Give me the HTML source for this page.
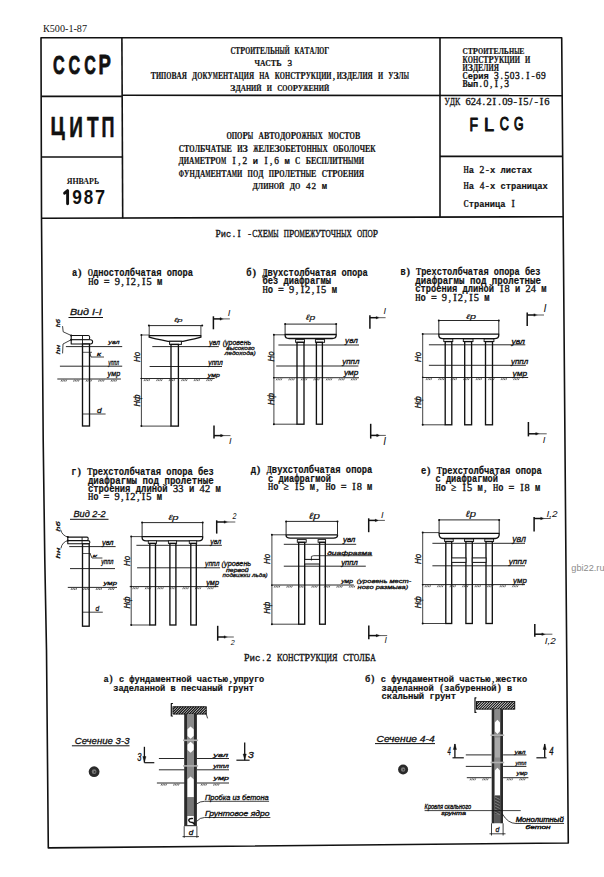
<!DOCTYPE html>
<html><head><meta charset="utf-8"><style>
html,body{margin:0;padding:0;background:#fff;}
body{width:604px;height:877px;overflow:hidden;}
svg{display:block;}
</style></head><body>
<svg width="604" height="877" viewBox="0 0 604 877">
<polygon points="41.0,37.8 561.7,37.7 566.0,570.0 568.3,843.0 48.3,847.9 46.5,650.0 44.8,560.0 43.2,440.0 41.5,218.3" stroke="#111111" stroke-width="1.60" fill="none" stroke-linejoin="round"/>
<line x1="41.5" y1="218.3" x2="563.2" y2="216.7" stroke="#111111" stroke-width="1.60"/>
<line x1="121.9" y1="37.8" x2="122.7" y2="218.2" stroke="#111111" stroke-width="1.60"/>
<line x1="440.0" y1="37.7" x2="440.0" y2="217.0" stroke="#111111" stroke-width="1.60"/>
<line x1="41.2" y1="96.4" x2="121.9" y2="96.4" stroke="#111111" stroke-width="1.60"/>
<line x1="41.4" y1="157.0" x2="122.2" y2="157.0" stroke="#111111" stroke-width="1.60"/>
<line x1="121.9" y1="95.3" x2="562.3" y2="95.6" stroke="#111111" stroke-width="1.60"/>
<line x1="440.0" y1="156.4" x2="563.0" y2="156.4" stroke="#111111" stroke-width="1.60"/>
<text x="43.0" y="31.6" fill="#111111" style='font-family:"Liberation Serif", serif;font-size:9.77px;font-weight:normal;' textLength="44.0" lengthAdjust="spacingAndGlyphs">К500-1-87</text>
<text transform="translate(53.04 74.14) scale(0.6106 1)" x="0" y="0" fill="#111111" stroke="#111111" stroke-width="0.87" stroke-linejoin="round" style='font-family:"Liberation Sans";font-size:26.55px;font-weight:bold'>С</text>
<text transform="translate(68.54 74.14) scale(0.6106 1)" x="0" y="0" fill="#111111" stroke="#111111" stroke-width="0.87" stroke-linejoin="round" style='font-family:"Liberation Sans";font-size:26.55px;font-weight:bold'>С</text>
<text transform="translate(84.14 74.14) scale(0.6048 1)" x="0" y="0" fill="#111111" stroke="#111111" stroke-width="0.87" stroke-linejoin="round" style='font-family:"Liberation Sans";font-size:26.55px;font-weight:bold'>С</text>
<text transform="translate(98.46 74.40) scale(0.6790 1)" x="0" y="0" fill="#111111" stroke="#111111" stroke-width="0.83" stroke-linejoin="round" style='font-family:"Liberation Sans";font-size:27.33px;font-weight:bold'>Р</text>
<text transform="translate(50.50 134.64) scale(0.7524 1)" x="0" y="0" fill="#111111" stroke="#111111" stroke-width="0.57" stroke-linejoin="round" style='font-family:"Liberation Sans";font-size:25.92px;font-weight:bold'>Ц</text>
<text transform="translate(69.24 136.70) scale(0.6555 1)" x="0" y="0" fill="#111111" stroke="#111111" stroke-width="0.60" stroke-linejoin="round" style='font-family:"Liberation Sans";font-size:28.92px;font-weight:bold'>И</text>
<text transform="translate(86.99 136.70) scale(0.6575 1)" x="0" y="0" fill="#111111" stroke="#111111" stroke-width="0.60" stroke-linejoin="round" style='font-family:"Liberation Sans";font-size:28.92px;font-weight:bold'>Т</text>
<text transform="translate(101.60 136.70) scale(0.6206 1)" x="0" y="0" fill="#111111" stroke="#111111" stroke-width="0.62" stroke-linejoin="round" style='font-family:"Liberation Sans";font-size:28.92px;font-weight:bold'>П</text>
<text x="66.7" y="184.4" fill="#111111" style='font-family:"Liberation Serif", serif;font-size:9.16px;font-weight:bold;' textLength="32.5" lengthAdjust="spacingAndGlyphs">ЯНВАРЬ</text>
<path d="M64.6 193.2 L67.6 190.6 L67.6 203.8" stroke="#111111" stroke-width="2.90" fill="none" stroke-linejoin="round" stroke-linecap="round"/>
<text transform="translate(72.30 203.60) scale(0.8527 1)" x="0" y="0" fill="#111111" style='font-family:"Liberation Sans";font-size:20.34px;font-weight:bold'>9</text>
<text transform="translate(83.76 203.60) scale(0.8366 1)" x="0" y="0" fill="#111111" style='font-family:"Liberation Sans";font-size:20.34px;font-weight:bold'>8</text>
<text transform="translate(94.92 203.80) scale(0.8655 1)" x="0" y="0" fill="#111111" style='font-family:"Liberation Sans";font-size:20.93px;font-weight:bold'>7</text>
<text y="54.10" fill="#111111" stroke="#111111" stroke-width="0.20" style='font-family:"Liberation Serif";font-size:9.47px;font-weight:bold'><tspan x="230.40" textLength="4.94" lengthAdjust="spacingAndGlyphs">С</tspan><tspan x="235.34" textLength="4.94" lengthAdjust="spacingAndGlyphs">Т</tspan><tspan x="240.28" textLength="4.94" lengthAdjust="spacingAndGlyphs">Р</tspan><tspan x="245.22" textLength="4.94" lengthAdjust="spacingAndGlyphs">О</tspan><tspan x="250.16" textLength="4.94" lengthAdjust="spacingAndGlyphs">И</tspan><tspan x="255.10" textLength="4.94" lengthAdjust="spacingAndGlyphs">Т</tspan><tspan x="260.04" textLength="4.94" lengthAdjust="spacingAndGlyphs">Е</tspan><tspan x="264.98" textLength="4.94" lengthAdjust="spacingAndGlyphs">Л</tspan><tspan x="269.92" textLength="4.94" lengthAdjust="spacingAndGlyphs">Ь</tspan><tspan x="274.86" textLength="4.94" lengthAdjust="spacingAndGlyphs">Н</tspan><tspan x="279.80" textLength="4.94" lengthAdjust="spacingAndGlyphs">Ы</tspan><tspan x="284.74" textLength="4.94" lengthAdjust="spacingAndGlyphs">Й</tspan><tspan x="294.62" textLength="4.94" lengthAdjust="spacingAndGlyphs">К</tspan><tspan x="299.56" textLength="4.94" lengthAdjust="spacingAndGlyphs">А</tspan><tspan x="304.50" textLength="4.94" lengthAdjust="spacingAndGlyphs">Т</tspan><tspan x="309.44" textLength="4.94" lengthAdjust="spacingAndGlyphs">А</tspan><tspan x="314.38" textLength="4.94" lengthAdjust="spacingAndGlyphs">Л</tspan><tspan x="319.32" textLength="4.94" lengthAdjust="spacingAndGlyphs">О</tspan><tspan x="324.26" textLength="4.94" lengthAdjust="spacingAndGlyphs">Г</tspan></text>
<text y="66.00" fill="#111111" stroke="#111111" stroke-width="0.20" style='font-family:"Liberation Serif";font-size:9.16px;font-weight:bold'><tspan x="254.50" textLength="5.43" lengthAdjust="spacingAndGlyphs">Ч</tspan><tspan x="259.93" textLength="5.43" lengthAdjust="spacingAndGlyphs">А</tspan><tspan x="265.36" textLength="5.43" lengthAdjust="spacingAndGlyphs">С</tspan><tspan x="270.79" textLength="5.43" lengthAdjust="spacingAndGlyphs">Т</tspan><tspan x="276.21" textLength="5.43" lengthAdjust="spacingAndGlyphs">Ь</tspan><tspan x="287.50" font-weight="normal" stroke="#1a1a1a" stroke-width="0.35">3</tspan></text>
<text y="78.90" fill="#111111" stroke="#111111" stroke-width="0.20" style='font-family:"Liberation Serif";font-size:9.62px;font-weight:bold'><tspan x="150.80" textLength="5.16" lengthAdjust="spacingAndGlyphs">Т</tspan><tspan x="155.96" textLength="5.16" lengthAdjust="spacingAndGlyphs">И</tspan><tspan x="161.12" textLength="5.16" lengthAdjust="spacingAndGlyphs">П</tspan><tspan x="166.29" textLength="5.16" lengthAdjust="spacingAndGlyphs">О</tspan><tspan x="171.45" textLength="5.16" lengthAdjust="spacingAndGlyphs">В</tspan><tspan x="176.61" textLength="5.16" lengthAdjust="spacingAndGlyphs">А</tspan><tspan x="181.77" textLength="5.16" lengthAdjust="spacingAndGlyphs">Я</tspan><tspan x="192.10" textLength="5.16" lengthAdjust="spacingAndGlyphs">Д</tspan><tspan x="197.26" textLength="5.16" lengthAdjust="spacingAndGlyphs">О</tspan><tspan x="202.42" textLength="5.16" lengthAdjust="spacingAndGlyphs">К</tspan><tspan x="207.58" textLength="5.16" lengthAdjust="spacingAndGlyphs">У</tspan><tspan x="212.74" textLength="5.16" lengthAdjust="spacingAndGlyphs">М</tspan><tspan x="217.91" textLength="5.16" lengthAdjust="spacingAndGlyphs">Е</tspan><tspan x="223.07" textLength="5.16" lengthAdjust="spacingAndGlyphs">Н</tspan><tspan x="228.23" textLength="5.16" lengthAdjust="spacingAndGlyphs">Т</tspan><tspan x="233.39" textLength="5.16" lengthAdjust="spacingAndGlyphs">А</tspan><tspan x="238.55" textLength="5.16" lengthAdjust="spacingAndGlyphs">Ц</tspan><tspan x="243.72" textLength="5.16" lengthAdjust="spacingAndGlyphs">И</tspan><tspan x="248.88" textLength="5.16" lengthAdjust="spacingAndGlyphs">Я</tspan><tspan x="259.20" textLength="5.16" lengthAdjust="spacingAndGlyphs">Н</tspan><tspan x="264.36" textLength="5.16" lengthAdjust="spacingAndGlyphs">А</tspan><tspan x="274.69" textLength="5.16" lengthAdjust="spacingAndGlyphs">К</tspan><tspan x="279.85" textLength="5.16" lengthAdjust="spacingAndGlyphs">О</tspan><tspan x="285.01" textLength="5.16" lengthAdjust="spacingAndGlyphs">Н</tspan><tspan x="290.17" textLength="5.16" lengthAdjust="spacingAndGlyphs">С</tspan><tspan x="295.34" textLength="5.16" lengthAdjust="spacingAndGlyphs">Т</tspan><tspan x="300.50" textLength="5.16" lengthAdjust="spacingAndGlyphs">Р</tspan><tspan x="305.66" textLength="5.16" lengthAdjust="spacingAndGlyphs">У</tspan><tspan x="310.82" textLength="5.16" lengthAdjust="spacingAndGlyphs">К</tspan><tspan x="315.98" textLength="5.16" lengthAdjust="spacingAndGlyphs">Ц</tspan><tspan x="321.15" textLength="5.16" lengthAdjust="spacingAndGlyphs">И</tspan><tspan x="326.31" textLength="5.16" lengthAdjust="spacingAndGlyphs">И</tspan><tspan x="332.85" font-weight="normal" stroke="#1a1a1a" stroke-width="0.35">,</tspan><tspan x="336.63" textLength="5.16" lengthAdjust="spacingAndGlyphs">И</tspan><tspan x="341.79" textLength="5.16" lengthAdjust="spacingAndGlyphs">З</tspan><tspan x="346.96" textLength="5.16" lengthAdjust="spacingAndGlyphs">Д</tspan><tspan x="352.12" textLength="5.16" lengthAdjust="spacingAndGlyphs">Е</tspan><tspan x="357.28" textLength="5.16" lengthAdjust="spacingAndGlyphs">Л</tspan><tspan x="362.44" textLength="5.16" lengthAdjust="spacingAndGlyphs">И</tspan><tspan x="367.60" textLength="5.16" lengthAdjust="spacingAndGlyphs">Я</tspan><tspan x="377.93" textLength="5.16" lengthAdjust="spacingAndGlyphs">И</tspan><tspan x="388.25" textLength="5.16" lengthAdjust="spacingAndGlyphs">У</tspan><tspan x="393.41" textLength="5.16" lengthAdjust="spacingAndGlyphs">З</tspan><tspan x="398.58" textLength="5.16" lengthAdjust="spacingAndGlyphs">Л</tspan><tspan x="403.74" textLength="5.16" lengthAdjust="spacingAndGlyphs">Ы</tspan></text>
<text y="90.50" fill="#111111" stroke="#111111" stroke-width="0.20" style='font-family:"Liberation Serif";font-size:8.85px;font-weight:bold'><tspan x="230.30" textLength="5.21" lengthAdjust="spacingAndGlyphs">З</tspan><tspan x="235.51" textLength="5.21" lengthAdjust="spacingAndGlyphs">Д</tspan><tspan x="240.71" textLength="5.21" lengthAdjust="spacingAndGlyphs">А</tspan><tspan x="245.92" textLength="5.21" lengthAdjust="spacingAndGlyphs">Н</tspan><tspan x="251.12" textLength="5.21" lengthAdjust="spacingAndGlyphs">И</tspan><tspan x="256.33" textLength="5.21" lengthAdjust="spacingAndGlyphs">Й</tspan><tspan x="266.74" textLength="5.21" lengthAdjust="spacingAndGlyphs">И</tspan><tspan x="277.15" textLength="5.21" lengthAdjust="spacingAndGlyphs">С</tspan><tspan x="282.35" textLength="5.21" lengthAdjust="spacingAndGlyphs">О</tspan><tspan x="287.56" textLength="5.21" lengthAdjust="spacingAndGlyphs">О</tspan><tspan x="292.76" textLength="5.21" lengthAdjust="spacingAndGlyphs">Р</tspan><tspan x="297.97" textLength="5.21" lengthAdjust="spacingAndGlyphs">У</tspan><tspan x="303.17" textLength="5.21" lengthAdjust="spacingAndGlyphs">Ж</tspan><tspan x="308.38" textLength="5.21" lengthAdjust="spacingAndGlyphs">Е</tspan><tspan x="313.58" textLength="5.21" lengthAdjust="spacingAndGlyphs">Н</tspan><tspan x="318.79" textLength="5.21" lengthAdjust="spacingAndGlyphs">И</tspan><tspan x="323.99" textLength="5.21" lengthAdjust="spacingAndGlyphs">Й</tspan></text>
<text y="54.40" fill="#111111" stroke="#111111" stroke-width="0.20" style='font-family:"Liberation Serif";font-size:8.85px;font-weight:bold'><tspan x="462.50" textLength="5.17" lengthAdjust="spacingAndGlyphs">С</tspan><tspan x="467.67" textLength="5.17" lengthAdjust="spacingAndGlyphs">Т</tspan><tspan x="472.83" textLength="5.17" lengthAdjust="spacingAndGlyphs">Р</tspan><tspan x="478.00" textLength="5.17" lengthAdjust="spacingAndGlyphs">О</tspan><tspan x="483.17" textLength="5.17" lengthAdjust="spacingAndGlyphs">И</tspan><tspan x="488.33" textLength="5.17" lengthAdjust="spacingAndGlyphs">Т</tspan><tspan x="493.50" textLength="5.17" lengthAdjust="spacingAndGlyphs">Е</tspan><tspan x="498.67" textLength="5.17" lengthAdjust="spacingAndGlyphs">Л</tspan><tspan x="503.83" textLength="5.17" lengthAdjust="spacingAndGlyphs">Ь</tspan><tspan x="509.00" textLength="5.17" lengthAdjust="spacingAndGlyphs">Н</tspan><tspan x="514.17" textLength="5.17" lengthAdjust="spacingAndGlyphs">Ы</tspan><tspan x="519.33" textLength="5.17" lengthAdjust="spacingAndGlyphs">Е</tspan></text>
<text y="62.70" fill="#111111" stroke="#111111" stroke-width="0.20" style='font-family:"Liberation Serif";font-size:9.31px;font-weight:bold'><tspan x="462.50" textLength="5.22" lengthAdjust="spacingAndGlyphs">К</tspan><tspan x="467.72" textLength="5.22" lengthAdjust="spacingAndGlyphs">О</tspan><tspan x="472.93" textLength="5.22" lengthAdjust="spacingAndGlyphs">Н</tspan><tspan x="478.15" textLength="5.22" lengthAdjust="spacingAndGlyphs">С</tspan><tspan x="483.36" textLength="5.22" lengthAdjust="spacingAndGlyphs">Т</tspan><tspan x="488.58" textLength="5.22" lengthAdjust="spacingAndGlyphs">Р</tspan><tspan x="493.79" textLength="5.22" lengthAdjust="spacingAndGlyphs">У</tspan><tspan x="499.01" textLength="5.22" lengthAdjust="spacingAndGlyphs">К</tspan><tspan x="504.22" textLength="5.22" lengthAdjust="spacingAndGlyphs">Ц</tspan><tspan x="509.44" textLength="5.22" lengthAdjust="spacingAndGlyphs">И</tspan><tspan x="514.65" textLength="5.22" lengthAdjust="spacingAndGlyphs">И</tspan><tspan x="525.08" textLength="5.22" lengthAdjust="spacingAndGlyphs">И</tspan></text>
<text y="70.50" fill="#111111" stroke="#111111" stroke-width="0.20" style='font-family:"Liberation Serif";font-size:9.31px;font-weight:bold'><tspan x="462.50" textLength="5.20" lengthAdjust="spacingAndGlyphs">И</tspan><tspan x="467.70" textLength="5.20" lengthAdjust="spacingAndGlyphs">З</tspan><tspan x="472.90" textLength="5.20" lengthAdjust="spacingAndGlyphs">Д</tspan><tspan x="478.10" textLength="5.20" lengthAdjust="spacingAndGlyphs">Е</tspan><tspan x="483.30" textLength="5.20" lengthAdjust="spacingAndGlyphs">Л</tspan><tspan x="488.50" textLength="5.20" lengthAdjust="spacingAndGlyphs">И</tspan><tspan x="493.70" textLength="5.20" lengthAdjust="spacingAndGlyphs">Я</tspan></text>
<text y="78.80" fill="#111111" stroke="#111111" stroke-width="0.20" style='font-family:"Liberation Serif";font-size:9.47px;font-weight:bold'><tspan x="462.50" textLength="5.22" lengthAdjust="spacingAndGlyphs">С</tspan><tspan x="467.72" font-family="Liberation Mono" font-size="9.28px" textLength="5.22" lengthAdjust="spacingAndGlyphs">е</tspan><tspan x="472.94" font-family="Liberation Mono" font-size="9.28px" textLength="5.22" lengthAdjust="spacingAndGlyphs">р</tspan><tspan x="478.16" font-family="Liberation Mono" font-size="9.28px" textLength="5.22" lengthAdjust="spacingAndGlyphs">и</tspan><tspan x="483.38" font-family="Liberation Mono" font-size="9.28px" textLength="5.22" lengthAdjust="spacingAndGlyphs">я</tspan><tspan x="494.06" font-weight="normal" stroke="#1a1a1a" stroke-width="0.35">3</tspan><tspan x="500.46" font-weight="normal" stroke="#1a1a1a" stroke-width="0.35">.</tspan><tspan x="504.49" font-weight="normal" stroke="#1a1a1a" stroke-width="0.35">5</tspan><tspan x="509.71" font-weight="normal" stroke="#1a1a1a" stroke-width="0.35">0</tspan><tspan x="514.93" font-weight="normal" stroke="#1a1a1a" stroke-width="0.35">3</tspan><tspan x="521.33" font-weight="normal" stroke="#1a1a1a" stroke-width="0.35">.</tspan><tspan x="526.16" font-weight="normal" stroke="#1a1a1a" stroke-width="0.35">I</tspan><tspan x="531.38" font-weight="normal" stroke="#1a1a1a" stroke-width="0.35">-</tspan><tspan x="535.81" font-weight="normal" stroke="#1a1a1a" stroke-width="0.35">6</tspan><tspan x="541.02" font-weight="normal" stroke="#1a1a1a" stroke-width="0.35">9</tspan></text>
<text y="86.70" fill="#111111" stroke="#111111" stroke-width="0.20" style='font-family:"Liberation Serif";font-size:9.62px;font-weight:bold'><tspan x="462.50" textLength="5.20" lengthAdjust="spacingAndGlyphs">В</tspan><tspan x="467.70" font-family="Liberation Mono" font-size="9.43px" textLength="5.20" lengthAdjust="spacingAndGlyphs">ы</tspan><tspan x="472.90" font-family="Liberation Mono" font-size="9.43px" textLength="5.20" lengthAdjust="spacingAndGlyphs">п</tspan><tspan x="479.50" font-weight="normal" stroke="#1a1a1a" stroke-width="0.35">.</tspan><tspan x="483.50" font-weight="normal" stroke="#1a1a1a" stroke-width="0.35">0</tspan><tspan x="489.90" font-weight="normal" stroke="#1a1a1a" stroke-width="0.35">,</tspan><tspan x="494.70" font-weight="normal" stroke="#1a1a1a" stroke-width="0.35">I</tspan><tspan x="500.30" font-weight="normal" stroke="#1a1a1a" stroke-width="0.35">,</tspan><tspan x="504.30" font-weight="normal" stroke="#1a1a1a" stroke-width="0.35">3</tspan></text>
<text y="105.30" fill="#111111" stroke="#111111" stroke-width="0.20" style='font-family:"Liberation Serif";font-size:10.53px;font-weight:bold'><tspan x="444.40" font-weight="normal" stroke="#1a1a1a" stroke-width="0.35" textLength="5.25" lengthAdjust="spacingAndGlyphs">У</tspan><tspan x="449.65" font-weight="normal" stroke="#1a1a1a" stroke-width="0.35" textLength="5.25" lengthAdjust="spacingAndGlyphs">Д</tspan><tspan x="454.90" font-weight="normal" stroke="#1a1a1a" stroke-width="0.35" textLength="5.25" lengthAdjust="spacingAndGlyphs">К</tspan><tspan x="465.40" font-weight="normal" stroke="#1a1a1a" stroke-width="0.35" textLength="5.25" lengthAdjust="spacingAndGlyphs">6</tspan><tspan x="470.65" font-weight="normal" stroke="#1a1a1a" stroke-width="0.35" textLength="5.25" lengthAdjust="spacingAndGlyphs">2</tspan><tspan x="475.90" font-weight="normal" stroke="#1a1a1a" stroke-width="0.35" textLength="5.25" lengthAdjust="spacingAndGlyphs">4</tspan><tspan x="482.46" font-weight="normal" stroke="#1a1a1a" stroke-width="0.35">.</tspan><tspan x="486.40" font-weight="normal" stroke="#1a1a1a" stroke-width="0.35" textLength="5.25" lengthAdjust="spacingAndGlyphs">2</tspan><tspan x="492.52" font-weight="normal" stroke="#1a1a1a" stroke-width="0.35">I</tspan><tspan x="498.21" font-weight="normal" stroke="#1a1a1a" stroke-width="0.35">.</tspan><tspan x="502.15" font-weight="normal" stroke="#1a1a1a" stroke-width="0.35" textLength="5.25" lengthAdjust="spacingAndGlyphs">0</tspan><tspan x="507.40" font-weight="normal" stroke="#1a1a1a" stroke-width="0.35" textLength="5.25" lengthAdjust="spacingAndGlyphs">9</tspan><tspan x="513.52" font-weight="normal" stroke="#1a1a1a" stroke-width="0.35">-</tspan><tspan x="518.77" font-weight="normal" stroke="#1a1a1a" stroke-width="0.35">I</tspan><tspan x="523.15" font-weight="normal" stroke="#1a1a1a" stroke-width="0.35" textLength="5.25" lengthAdjust="spacingAndGlyphs">5</tspan><tspan x="529.56" font-weight="normal" stroke="#1a1a1a" stroke-width="0.35">/</tspan><tspan x="534.52" font-weight="normal" stroke="#1a1a1a" stroke-width="0.35">-</tspan><tspan x="539.77" font-weight="normal" stroke="#1a1a1a" stroke-width="0.35">I</tspan><tspan x="544.15" font-weight="normal" stroke="#1a1a1a" stroke-width="0.35" textLength="5.25" lengthAdjust="spacingAndGlyphs">6</tspan></text>
<text transform="translate(469.46 130.50) scale(0.7363 1)" x="0" y="0" fill="#111111" stroke="#111111" stroke-width="1.15" stroke-linejoin="round" style='font-family:"Liberation Sans";font-size:18.90px;font-weight:normal'>F</text>
<text transform="translate(484.01 130.50) scale(0.9602 1)" x="0" y="0" fill="#111111" stroke="#111111" stroke-width="1.02" stroke-linejoin="round" style='font-family:"Liberation Sans";font-size:18.90px;font-weight:normal'>L</text>
<text transform="translate(499.76 130.32) scale(0.6880 1)" x="0" y="0" fill="#111111" stroke="#111111" stroke-width="1.18" stroke-linejoin="round" style='font-family:"Liberation Sans";font-size:18.36px;font-weight:normal'>C</text>
<text transform="translate(514.08 130.32) scale(0.6674 1)" x="0" y="0" fill="#111111" stroke="#111111" stroke-width="1.20" stroke-linejoin="round" style='font-family:"Liberation Sans";font-size:18.36px;font-weight:normal'>G</text>
<text y="172.70" fill="#111111" stroke="#111111" stroke-width="0.20" style='font-family:"Liberation Serif";font-size:9.62px;font-weight:bold'><tspan x="463.60" textLength="5.26" lengthAdjust="spacingAndGlyphs">Н</tspan><tspan x="468.86" font-family="Liberation Mono" font-size="9.43px" textLength="5.26" lengthAdjust="spacingAndGlyphs">а</tspan><tspan x="479.61" font-weight="normal" stroke="#1a1a1a" stroke-width="0.35">2</tspan><tspan x="485.68" font-weight="normal" stroke="#1a1a1a" stroke-width="0.35">-</tspan><tspan x="489.91" font-family="Liberation Mono" font-size="9.43px" textLength="5.26" lengthAdjust="spacingAndGlyphs">х</tspan><tspan x="500.43" font-family="Liberation Mono" font-size="9.43px" textLength="5.26" lengthAdjust="spacingAndGlyphs">л</tspan><tspan x="505.69" font-family="Liberation Mono" font-size="9.43px" textLength="5.26" lengthAdjust="spacingAndGlyphs">и</tspan><tspan x="510.95" font-family="Liberation Mono" font-size="9.43px" textLength="5.26" lengthAdjust="spacingAndGlyphs">с</tspan><tspan x="516.22" font-family="Liberation Mono" font-size="9.43px" textLength="5.26" lengthAdjust="spacingAndGlyphs">т</tspan><tspan x="521.48" font-family="Liberation Mono" font-size="9.43px" textLength="5.26" lengthAdjust="spacingAndGlyphs">а</tspan><tspan x="526.74" font-family="Liberation Mono" font-size="9.43px" textLength="5.26" lengthAdjust="spacingAndGlyphs">х</tspan></text>
<text y="188.70" fill="#111111" stroke="#111111" stroke-width="0.20" style='font-family:"Liberation Serif";font-size:9.31px;font-weight:bold'><tspan x="463.60" textLength="5.26" lengthAdjust="spacingAndGlyphs">Н</tspan><tspan x="468.86" font-family="Liberation Mono" font-size="9.13px" textLength="5.26" lengthAdjust="spacingAndGlyphs">а</tspan><tspan x="479.69" font-weight="normal" stroke="#1a1a1a" stroke-width="0.35">4</tspan><tspan x="485.73" font-weight="normal" stroke="#1a1a1a" stroke-width="0.35">-</tspan><tspan x="489.91" font-family="Liberation Mono" font-size="9.13px" textLength="5.26" lengthAdjust="spacingAndGlyphs">х</tspan><tspan x="500.44" font-family="Liberation Mono" font-size="9.13px" textLength="5.26" lengthAdjust="spacingAndGlyphs">с</tspan><tspan x="505.70" font-family="Liberation Mono" font-size="9.13px" textLength="5.26" lengthAdjust="spacingAndGlyphs">т</tspan><tspan x="510.96" font-family="Liberation Mono" font-size="9.13px" textLength="5.26" lengthAdjust="spacingAndGlyphs">р</tspan><tspan x="516.23" font-family="Liberation Mono" font-size="9.13px" textLength="5.26" lengthAdjust="spacingAndGlyphs">а</tspan><tspan x="521.49" font-family="Liberation Mono" font-size="9.13px" textLength="5.26" lengthAdjust="spacingAndGlyphs">н</tspan><tspan x="526.75" font-family="Liberation Mono" font-size="9.13px" textLength="5.26" lengthAdjust="spacingAndGlyphs">и</tspan><tspan x="532.01" font-family="Liberation Mono" font-size="9.13px" textLength="5.26" lengthAdjust="spacingAndGlyphs">ц</tspan><tspan x="537.27" font-family="Liberation Mono" font-size="9.13px" textLength="5.26" lengthAdjust="spacingAndGlyphs">а</tspan><tspan x="542.54" font-family="Liberation Mono" font-size="9.13px" textLength="5.26" lengthAdjust="spacingAndGlyphs">х</tspan></text>
<text y="206.90" fill="#111111" stroke="#111111" stroke-width="0.20" style='font-family:"Liberation Serif";font-size:9.77px;font-weight:bold'><tspan x="463.60" textLength="5.22" lengthAdjust="spacingAndGlyphs">С</tspan><tspan x="468.82" font-family="Liberation Mono" font-size="9.58px" textLength="5.22" lengthAdjust="spacingAndGlyphs">т</tspan><tspan x="474.04" font-family="Liberation Mono" font-size="9.58px" textLength="5.22" lengthAdjust="spacingAndGlyphs">р</tspan><tspan x="479.26" font-family="Liberation Mono" font-size="9.58px" textLength="5.22" lengthAdjust="spacingAndGlyphs">а</tspan><tspan x="484.48" font-family="Liberation Mono" font-size="9.58px" textLength="5.22" lengthAdjust="spacingAndGlyphs">н</tspan><tspan x="489.70" font-family="Liberation Mono" font-size="9.58px" textLength="5.22" lengthAdjust="spacingAndGlyphs">и</tspan><tspan x="494.92" font-family="Liberation Mono" font-size="9.58px" textLength="5.22" lengthAdjust="spacingAndGlyphs">ц</tspan><tspan x="500.14" font-family="Liberation Mono" font-size="9.58px" textLength="5.22" lengthAdjust="spacingAndGlyphs">а</tspan><tspan x="511.56" font-weight="normal" stroke="#1a1a1a" stroke-width="0.35">I</tspan></text>
<text y="138.90" fill="#111111" stroke="#111111" stroke-width="0.20" style='font-family:"Liberation Serif";font-size:9.47px;font-weight:bold'><tspan x="226.40" textLength="5.36" lengthAdjust="spacingAndGlyphs">О</tspan><tspan x="231.76" textLength="5.36" lengthAdjust="spacingAndGlyphs">П</tspan><tspan x="237.11" textLength="5.36" lengthAdjust="spacingAndGlyphs">О</tspan><tspan x="242.47" textLength="5.36" lengthAdjust="spacingAndGlyphs">Р</tspan><tspan x="247.82" textLength="5.36" lengthAdjust="spacingAndGlyphs">Ы</tspan><tspan x="258.54" textLength="5.36" lengthAdjust="spacingAndGlyphs">А</tspan><tspan x="263.89" textLength="5.36" lengthAdjust="spacingAndGlyphs">В</tspan><tspan x="269.25" textLength="5.36" lengthAdjust="spacingAndGlyphs">Т</tspan><tspan x="274.60" textLength="5.36" lengthAdjust="spacingAndGlyphs">О</tspan><tspan x="279.96" textLength="5.36" lengthAdjust="spacingAndGlyphs">Д</tspan><tspan x="285.32" textLength="5.36" lengthAdjust="spacingAndGlyphs">О</tspan><tspan x="290.67" textLength="5.36" lengthAdjust="spacingAndGlyphs">Р</tspan><tspan x="296.03" textLength="5.36" lengthAdjust="spacingAndGlyphs">О</tspan><tspan x="301.38" textLength="5.36" lengthAdjust="spacingAndGlyphs">Ж</tspan><tspan x="306.74" textLength="5.36" lengthAdjust="spacingAndGlyphs">Н</tspan><tspan x="312.10" textLength="5.36" lengthAdjust="spacingAndGlyphs">Ы</tspan><tspan x="317.45" textLength="5.36" lengthAdjust="spacingAndGlyphs">Х</tspan><tspan x="328.16" textLength="5.36" lengthAdjust="spacingAndGlyphs">М</tspan><tspan x="333.52" textLength="5.36" lengthAdjust="spacingAndGlyphs">О</tspan><tspan x="338.88" textLength="5.36" lengthAdjust="spacingAndGlyphs">С</tspan><tspan x="344.23" textLength="5.36" lengthAdjust="spacingAndGlyphs">Т</tspan><tspan x="349.59" textLength="5.36" lengthAdjust="spacingAndGlyphs">О</tspan><tspan x="354.94" textLength="5.36" lengthAdjust="spacingAndGlyphs">В</tspan></text>
<text y="151.60" fill="#111111" stroke="#111111" stroke-width="0.20" style='font-family:"Liberation Serif";font-size:9.31px;font-weight:bold'><tspan x="178.70" textLength="5.32" lengthAdjust="spacingAndGlyphs">С</tspan><tspan x="184.02" textLength="5.32" lengthAdjust="spacingAndGlyphs">Т</tspan><tspan x="189.34" textLength="5.32" lengthAdjust="spacingAndGlyphs">О</tspan><tspan x="194.66" textLength="5.32" lengthAdjust="spacingAndGlyphs">Л</tspan><tspan x="199.99" textLength="5.32" lengthAdjust="spacingAndGlyphs">Б</tspan><tspan x="205.31" textLength="5.32" lengthAdjust="spacingAndGlyphs">Ч</tspan><tspan x="210.63" textLength="5.32" lengthAdjust="spacingAndGlyphs">А</tspan><tspan x="215.95" textLength="5.32" lengthAdjust="spacingAndGlyphs">Т</tspan><tspan x="221.27" textLength="5.32" lengthAdjust="spacingAndGlyphs">Ы</tspan><tspan x="226.59" textLength="5.32" lengthAdjust="spacingAndGlyphs">Е</tspan><tspan x="237.24" textLength="5.32" lengthAdjust="spacingAndGlyphs">И</tspan><tspan x="242.56" textLength="5.32" lengthAdjust="spacingAndGlyphs">З</tspan><tspan x="253.20" textLength="5.32" lengthAdjust="spacingAndGlyphs">Ж</tspan><tspan x="258.52" textLength="5.32" lengthAdjust="spacingAndGlyphs">Е</tspan><tspan x="263.85" textLength="5.32" lengthAdjust="spacingAndGlyphs">Л</tspan><tspan x="269.17" textLength="5.32" lengthAdjust="spacingAndGlyphs">Е</tspan><tspan x="274.49" textLength="5.32" lengthAdjust="spacingAndGlyphs">З</tspan><tspan x="279.81" textLength="5.32" lengthAdjust="spacingAndGlyphs">О</tspan><tspan x="285.13" textLength="5.32" lengthAdjust="spacingAndGlyphs">Б</tspan><tspan x="290.45" textLength="5.32" lengthAdjust="spacingAndGlyphs">Е</tspan><tspan x="295.78" textLength="5.32" lengthAdjust="spacingAndGlyphs">Т</tspan><tspan x="301.10" textLength="5.32" lengthAdjust="spacingAndGlyphs">О</tspan><tspan x="306.42" textLength="5.32" lengthAdjust="spacingAndGlyphs">Н</tspan><tspan x="311.74" textLength="5.32" lengthAdjust="spacingAndGlyphs">Н</tspan><tspan x="317.06" textLength="5.32" lengthAdjust="spacingAndGlyphs">Ы</tspan><tspan x="322.38" textLength="5.32" lengthAdjust="spacingAndGlyphs">Х</tspan><tspan x="333.03" textLength="5.32" lengthAdjust="spacingAndGlyphs">О</tspan><tspan x="338.35" textLength="5.32" lengthAdjust="spacingAndGlyphs">Б</tspan><tspan x="343.67" textLength="5.32" lengthAdjust="spacingAndGlyphs">О</tspan><tspan x="348.99" textLength="5.32" lengthAdjust="spacingAndGlyphs">Л</tspan><tspan x="354.31" textLength="5.32" lengthAdjust="spacingAndGlyphs">О</tspan><tspan x="359.64" textLength="5.32" lengthAdjust="spacingAndGlyphs">Ч</tspan><tspan x="364.96" textLength="5.32" lengthAdjust="spacingAndGlyphs">Е</tspan><tspan x="370.28" textLength="5.32" lengthAdjust="spacingAndGlyphs">К</tspan></text>
<text y="164.20" fill="#111111" stroke="#111111" stroke-width="0.20" style='font-family:"Liberation Serif";font-size:9.31px;font-weight:bold'><tspan x="178.50" textLength="5.30" lengthAdjust="spacingAndGlyphs">Д</tspan><tspan x="183.80" textLength="5.30" lengthAdjust="spacingAndGlyphs">И</tspan><tspan x="189.10" textLength="5.30" lengthAdjust="spacingAndGlyphs">А</tspan><tspan x="194.40" textLength="5.30" lengthAdjust="spacingAndGlyphs">М</tspan><tspan x="199.70" textLength="5.30" lengthAdjust="spacingAndGlyphs">Е</tspan><tspan x="205.00" textLength="5.30" lengthAdjust="spacingAndGlyphs">Т</tspan><tspan x="210.30" textLength="5.30" lengthAdjust="spacingAndGlyphs">Р</tspan><tspan x="215.60" textLength="5.30" lengthAdjust="spacingAndGlyphs">О</tspan><tspan x="220.90" textLength="5.30" lengthAdjust="spacingAndGlyphs">М</tspan><tspan x="232.60" font-weight="normal" stroke="#1a1a1a" stroke-width="0.35">I</tspan><tspan x="238.29" font-weight="normal" stroke="#1a1a1a" stroke-width="0.35">,</tspan><tspan x="242.42" font-weight="normal" stroke="#1a1a1a" stroke-width="0.35">2</tspan><tspan x="252.70" font-family="Liberation Mono" font-size="9.13px" textLength="5.30" lengthAdjust="spacingAndGlyphs">и</tspan><tspan x="264.40" font-weight="normal" stroke="#1a1a1a" stroke-width="0.35">I</tspan><tspan x="270.09" font-weight="normal" stroke="#1a1a1a" stroke-width="0.35">,</tspan><tspan x="274.22" font-weight="normal" stroke="#1a1a1a" stroke-width="0.35">6</tspan><tspan x="284.50" font-family="Liberation Mono" font-size="9.13px" textLength="5.30" lengthAdjust="spacingAndGlyphs">м</tspan><tspan x="295.10" textLength="5.30" lengthAdjust="spacingAndGlyphs">С</tspan><tspan x="305.70" textLength="5.30" lengthAdjust="spacingAndGlyphs">Б</tspan><tspan x="311.00" textLength="5.30" lengthAdjust="spacingAndGlyphs">Е</tspan><tspan x="316.30" textLength="5.30" lengthAdjust="spacingAndGlyphs">С</tspan><tspan x="321.60" textLength="5.30" lengthAdjust="spacingAndGlyphs">П</tspan><tspan x="326.90" textLength="5.30" lengthAdjust="spacingAndGlyphs">Л</tspan><tspan x="332.20" textLength="5.30" lengthAdjust="spacingAndGlyphs">И</tspan><tspan x="337.50" textLength="5.30" lengthAdjust="spacingAndGlyphs">Т</tspan><tspan x="342.80" textLength="5.30" lengthAdjust="spacingAndGlyphs">Н</tspan><tspan x="348.10" textLength="5.30" lengthAdjust="spacingAndGlyphs">Ы</tspan><tspan x="353.40" textLength="5.30" lengthAdjust="spacingAndGlyphs">М</tspan><tspan x="358.70" textLength="5.30" lengthAdjust="spacingAndGlyphs">И</tspan></text>
<text y="176.60" fill="#111111" stroke="#111111" stroke-width="0.20" style='font-family:"Liberation Serif";font-size:9.47px;font-weight:bold'><tspan x="178.80" textLength="5.29" lengthAdjust="spacingAndGlyphs">Ф</tspan><tspan x="184.09" textLength="5.29" lengthAdjust="spacingAndGlyphs">У</tspan><tspan x="189.38" textLength="5.29" lengthAdjust="spacingAndGlyphs">Н</tspan><tspan x="194.67" textLength="5.29" lengthAdjust="spacingAndGlyphs">Д</tspan><tspan x="199.97" textLength="5.29" lengthAdjust="spacingAndGlyphs">А</tspan><tspan x="205.26" textLength="5.29" lengthAdjust="spacingAndGlyphs">М</tspan><tspan x="210.55" textLength="5.29" lengthAdjust="spacingAndGlyphs">Е</tspan><tspan x="215.84" textLength="5.29" lengthAdjust="spacingAndGlyphs">Н</tspan><tspan x="221.13" textLength="5.29" lengthAdjust="spacingAndGlyphs">Т</tspan><tspan x="226.42" textLength="5.29" lengthAdjust="spacingAndGlyphs">А</tspan><tspan x="231.71" textLength="5.29" lengthAdjust="spacingAndGlyphs">М</tspan><tspan x="237.01" textLength="5.29" lengthAdjust="spacingAndGlyphs">И</tspan><tspan x="247.59" textLength="5.29" lengthAdjust="spacingAndGlyphs">П</tspan><tspan x="252.88" textLength="5.29" lengthAdjust="spacingAndGlyphs">О</tspan><tspan x="258.17" textLength="5.29" lengthAdjust="spacingAndGlyphs">Д</tspan><tspan x="268.75" textLength="5.29" lengthAdjust="spacingAndGlyphs">П</tspan><tspan x="274.05" textLength="5.29" lengthAdjust="spacingAndGlyphs">Р</tspan><tspan x="279.34" textLength="5.29" lengthAdjust="spacingAndGlyphs">О</tspan><tspan x="284.63" textLength="5.29" lengthAdjust="spacingAndGlyphs">Л</tspan><tspan x="289.92" textLength="5.29" lengthAdjust="spacingAndGlyphs">Е</tspan><tspan x="295.21" textLength="5.29" lengthAdjust="spacingAndGlyphs">Т</tspan><tspan x="300.50" textLength="5.29" lengthAdjust="spacingAndGlyphs">Н</tspan><tspan x="305.79" textLength="5.29" lengthAdjust="spacingAndGlyphs">Ы</tspan><tspan x="311.09" textLength="5.29" lengthAdjust="spacingAndGlyphs">Е</tspan><tspan x="321.67" textLength="5.29" lengthAdjust="spacingAndGlyphs">С</tspan><tspan x="326.96" textLength="5.29" lengthAdjust="spacingAndGlyphs">Т</tspan><tspan x="332.25" textLength="5.29" lengthAdjust="spacingAndGlyphs">Р</tspan><tspan x="337.54" textLength="5.29" lengthAdjust="spacingAndGlyphs">О</tspan><tspan x="342.83" textLength="5.29" lengthAdjust="spacingAndGlyphs">Е</tspan><tspan x="348.13" textLength="5.29" lengthAdjust="spacingAndGlyphs">Н</tspan><tspan x="353.42" textLength="5.29" lengthAdjust="spacingAndGlyphs">И</tspan><tspan x="358.71" textLength="5.29" lengthAdjust="spacingAndGlyphs">Я</tspan></text>
<text y="189.40" fill="#111111" stroke="#111111" stroke-width="0.20" style='font-family:"Liberation Serif";font-size:9.16px;font-weight:bold'><tspan x="252.50" textLength="5.32" lengthAdjust="spacingAndGlyphs">Д</tspan><tspan x="257.82" textLength="5.32" lengthAdjust="spacingAndGlyphs">Л</tspan><tspan x="263.14" textLength="5.32" lengthAdjust="spacingAndGlyphs">И</tspan><tspan x="268.46" textLength="5.32" lengthAdjust="spacingAndGlyphs">Н</tspan><tspan x="273.79" textLength="5.32" lengthAdjust="spacingAndGlyphs">О</tspan><tspan x="279.11" textLength="5.32" lengthAdjust="spacingAndGlyphs">Й</tspan><tspan x="289.75" textLength="5.32" lengthAdjust="spacingAndGlyphs">Д</tspan><tspan x="295.07" textLength="5.32" lengthAdjust="spacingAndGlyphs">О</tspan><tspan x="306.08" font-weight="normal" stroke="#1a1a1a" stroke-width="0.35">4</tspan><tspan x="311.41" font-weight="normal" stroke="#1a1a1a" stroke-width="0.35">2</tspan><tspan x="321.68" font-family="Liberation Mono" font-size="8.98px" textLength="5.32" lengthAdjust="spacingAndGlyphs">м</tspan></text>
<text y="237.20" fill="#111111" stroke="#111111" stroke-width="0.20" style='font-family:"Liberation Serif";font-size:9.47px;font-weight:bold'><tspan x="215.60" font-weight="normal" stroke="#1a1a1a" stroke-width="0.35" textLength="5.24" lengthAdjust="spacingAndGlyphs">Р</tspan><tspan x="220.84" font-weight="normal" stroke="#1a1a1a" stroke-width="0.35" font-family="Liberation Mono" font-size="9.28px" textLength="5.24" lengthAdjust="spacingAndGlyphs">и</tspan><tspan x="226.08" font-weight="normal" stroke="#1a1a1a" stroke-width="0.35" font-family="Liberation Mono" font-size="9.28px" textLength="5.24" lengthAdjust="spacingAndGlyphs">с</tspan><tspan x="232.75" font-weight="normal" stroke="#1a1a1a" stroke-width="0.35">.</tspan><tspan x="237.60" font-weight="normal" stroke="#1a1a1a" stroke-width="0.35">I</tspan><tspan x="248.08" font-weight="normal" stroke="#1a1a1a" stroke-width="0.35">-</tspan><tspan x="252.27" font-weight="normal" stroke="#1a1a1a" stroke-width="0.35" textLength="5.24" lengthAdjust="spacingAndGlyphs">С</tspan><tspan x="257.51" font-weight="normal" stroke="#1a1a1a" stroke-width="0.35" textLength="5.24" lengthAdjust="spacingAndGlyphs">Х</tspan><tspan x="262.75" font-weight="normal" stroke="#1a1a1a" stroke-width="0.35" textLength="5.24" lengthAdjust="spacingAndGlyphs">Е</tspan><tspan x="267.99" font-weight="normal" stroke="#1a1a1a" stroke-width="0.35" textLength="5.24" lengthAdjust="spacingAndGlyphs">М</tspan><tspan x="273.23" font-weight="normal" stroke="#1a1a1a" stroke-width="0.35" textLength="5.24" lengthAdjust="spacingAndGlyphs">Ы</tspan><tspan x="283.70" font-weight="normal" stroke="#1a1a1a" stroke-width="0.35" textLength="5.24" lengthAdjust="spacingAndGlyphs">П</tspan><tspan x="288.94" font-weight="normal" stroke="#1a1a1a" stroke-width="0.35" textLength="5.24" lengthAdjust="spacingAndGlyphs">Р</tspan><tspan x="294.18" font-weight="normal" stroke="#1a1a1a" stroke-width="0.35" textLength="5.24" lengthAdjust="spacingAndGlyphs">О</tspan><tspan x="299.42" font-weight="normal" stroke="#1a1a1a" stroke-width="0.35" textLength="5.24" lengthAdjust="spacingAndGlyphs">М</tspan><tspan x="304.66" font-weight="normal" stroke="#1a1a1a" stroke-width="0.35" textLength="5.24" lengthAdjust="spacingAndGlyphs">Е</tspan><tspan x="309.90" font-weight="normal" stroke="#1a1a1a" stroke-width="0.35" textLength="5.24" lengthAdjust="spacingAndGlyphs">Ж</tspan><tspan x="315.14" font-weight="normal" stroke="#1a1a1a" stroke-width="0.35" textLength="5.24" lengthAdjust="spacingAndGlyphs">У</tspan><tspan x="320.37" font-weight="normal" stroke="#1a1a1a" stroke-width="0.35" textLength="5.24" lengthAdjust="spacingAndGlyphs">Т</tspan><tspan x="325.61" font-weight="normal" stroke="#1a1a1a" stroke-width="0.35" textLength="5.24" lengthAdjust="spacingAndGlyphs">О</tspan><tspan x="330.85" font-weight="normal" stroke="#1a1a1a" stroke-width="0.35" textLength="5.24" lengthAdjust="spacingAndGlyphs">Ч</tspan><tspan x="336.09" font-weight="normal" stroke="#1a1a1a" stroke-width="0.35" textLength="5.24" lengthAdjust="spacingAndGlyphs">Н</tspan><tspan x="341.33" font-weight="normal" stroke="#1a1a1a" stroke-width="0.35" textLength="5.24" lengthAdjust="spacingAndGlyphs">Ы</tspan><tspan x="346.57" font-weight="normal" stroke="#1a1a1a" stroke-width="0.35" textLength="5.24" lengthAdjust="spacingAndGlyphs">Х</tspan><tspan x="357.05" font-weight="normal" stroke="#1a1a1a" stroke-width="0.35" textLength="5.24" lengthAdjust="spacingAndGlyphs">О</tspan><tspan x="362.28" font-weight="normal" stroke="#1a1a1a" stroke-width="0.35" textLength="5.24" lengthAdjust="spacingAndGlyphs">П</tspan><tspan x="367.52" font-weight="normal" stroke="#1a1a1a" stroke-width="0.35" textLength="5.24" lengthAdjust="spacingAndGlyphs">О</tspan><tspan x="372.76" font-weight="normal" stroke="#1a1a1a" stroke-width="0.35" textLength="5.24" lengthAdjust="spacingAndGlyphs">Р</tspan></text>
<text y="661.00" fill="#111111" stroke="#111111" stroke-width="0.20" style='font-family:"Liberation Serif";font-size:9.31px;font-weight:bold'><tspan x="244.10" font-weight="normal" stroke="#1a1a1a" stroke-width="0.35" textLength="5.49" lengthAdjust="spacingAndGlyphs">Р</tspan><tspan x="249.59" font-weight="normal" stroke="#1a1a1a" stroke-width="0.35" font-family="Liberation Mono" font-size="9.13px" textLength="5.49" lengthAdjust="spacingAndGlyphs">и</tspan><tspan x="255.07" font-weight="normal" stroke="#1a1a1a" stroke-width="0.35" font-family="Liberation Mono" font-size="9.13px" textLength="5.49" lengthAdjust="spacingAndGlyphs">с</tspan><tspan x="262.14" font-weight="normal" stroke="#1a1a1a" stroke-width="0.35">.</tspan><tspan x="266.47" font-weight="normal" stroke="#1a1a1a" stroke-width="0.35">2</tspan><tspan x="277.02" font-weight="normal" stroke="#1a1a1a" stroke-width="0.35" textLength="5.49" lengthAdjust="spacingAndGlyphs">К</tspan><tspan x="282.51" font-weight="normal" stroke="#1a1a1a" stroke-width="0.35" textLength="5.49" lengthAdjust="spacingAndGlyphs">О</tspan><tspan x="288.00" font-weight="normal" stroke="#1a1a1a" stroke-width="0.35" textLength="5.49" lengthAdjust="spacingAndGlyphs">Н</tspan><tspan x="293.49" font-weight="normal" stroke="#1a1a1a" stroke-width="0.35" textLength="5.49" lengthAdjust="spacingAndGlyphs">С</tspan><tspan x="298.98" font-weight="normal" stroke="#1a1a1a" stroke-width="0.35" textLength="5.49" lengthAdjust="spacingAndGlyphs">Т</tspan><tspan x="304.46" font-weight="normal" stroke="#1a1a1a" stroke-width="0.35" textLength="5.49" lengthAdjust="spacingAndGlyphs">Р</tspan><tspan x="309.95" font-weight="normal" stroke="#1a1a1a" stroke-width="0.35" textLength="5.49" lengthAdjust="spacingAndGlyphs">У</tspan><tspan x="315.44" font-weight="normal" stroke="#1a1a1a" stroke-width="0.35" textLength="5.49" lengthAdjust="spacingAndGlyphs">К</tspan><tspan x="320.93" font-weight="normal" stroke="#1a1a1a" stroke-width="0.35" textLength="5.49" lengthAdjust="spacingAndGlyphs">Ц</tspan><tspan x="326.41" font-weight="normal" stroke="#1a1a1a" stroke-width="0.35" textLength="5.49" lengthAdjust="spacingAndGlyphs">И</tspan><tspan x="331.90" font-weight="normal" stroke="#1a1a1a" stroke-width="0.35" textLength="5.49" lengthAdjust="spacingAndGlyphs">Я</tspan><tspan x="342.88" font-weight="normal" stroke="#1a1a1a" stroke-width="0.35" textLength="5.49" lengthAdjust="spacingAndGlyphs">С</tspan><tspan x="348.36" font-weight="normal" stroke="#1a1a1a" stroke-width="0.35" textLength="5.49" lengthAdjust="spacingAndGlyphs">Т</tspan><tspan x="353.85" font-weight="normal" stroke="#1a1a1a" stroke-width="0.35" textLength="5.49" lengthAdjust="spacingAndGlyphs">О</tspan><tspan x="359.34" font-weight="normal" stroke="#1a1a1a" stroke-width="0.35" textLength="5.49" lengthAdjust="spacingAndGlyphs">Л</tspan><tspan x="364.83" font-weight="normal" stroke="#1a1a1a" stroke-width="0.35" textLength="5.49" lengthAdjust="spacingAndGlyphs">Б</tspan><tspan x="370.31" font-weight="normal" stroke="#1a1a1a" stroke-width="0.35" textLength="5.49" lengthAdjust="spacingAndGlyphs">А</tspan></text>
<text x="571.3" y="570.6" fill="#8c8c8c" style='font-family:"Liberation Sans", sans-serif;font-size:9.30px;font-weight:normal;' textLength="33.2" lengthAdjust="spacingAndGlyphs">gbi22.ru</text>
<text y="276.40" fill="#111111" stroke="#111111" stroke-width="0.20" style='font-family:"Liberation Serif";font-size:10.69px;font-weight:bold'><tspan x="72.00" font-family="Liberation Mono" font-size="10.47px" textLength="5.26" lengthAdjust="spacingAndGlyphs">а</tspan><tspan x="78.11">)</tspan><tspan x="87.78" textLength="5.26" lengthAdjust="spacingAndGlyphs">О</tspan><tspan x="93.04" font-family="Liberation Mono" font-size="10.47px" textLength="5.26" lengthAdjust="spacingAndGlyphs">д</tspan><tspan x="98.30" font-family="Liberation Mono" font-size="10.47px" textLength="5.26" lengthAdjust="spacingAndGlyphs">н</tspan><tspan x="103.57" font-family="Liberation Mono" font-size="10.47px" textLength="5.26" lengthAdjust="spacingAndGlyphs">о</tspan><tspan x="108.83" font-family="Liberation Mono" font-size="10.47px" textLength="5.26" lengthAdjust="spacingAndGlyphs">с</tspan><tspan x="114.09" font-family="Liberation Mono" font-size="10.47px" textLength="5.26" lengthAdjust="spacingAndGlyphs">т</tspan><tspan x="119.35" font-family="Liberation Mono" font-size="10.47px" textLength="5.26" lengthAdjust="spacingAndGlyphs">о</tspan><tspan x="124.61" font-family="Liberation Mono" font-size="10.47px" textLength="5.26" lengthAdjust="spacingAndGlyphs">л</tspan><tspan x="129.87" font-family="Liberation Mono" font-size="10.47px" textLength="5.26" lengthAdjust="spacingAndGlyphs">б</tspan><tspan x="135.13" font-family="Liberation Mono" font-size="10.47px" textLength="5.26" lengthAdjust="spacingAndGlyphs">ч</tspan><tspan x="140.39" font-family="Liberation Mono" font-size="10.47px" textLength="5.26" lengthAdjust="spacingAndGlyphs">а</tspan><tspan x="145.65" font-family="Liberation Mono" font-size="10.47px" textLength="5.26" lengthAdjust="spacingAndGlyphs">т</tspan><tspan x="150.91" font-family="Liberation Mono" font-size="10.47px" textLength="5.26" lengthAdjust="spacingAndGlyphs">а</tspan><tspan x="156.17" font-family="Liberation Mono" font-size="10.47px" textLength="5.26" lengthAdjust="spacingAndGlyphs">я</tspan><tspan x="166.70" font-family="Liberation Mono" font-size="10.47px" textLength="5.26" lengthAdjust="spacingAndGlyphs">о</tspan><tspan x="171.96" font-family="Liberation Mono" font-size="10.47px" textLength="5.26" lengthAdjust="spacingAndGlyphs">п</tspan><tspan x="177.22" font-family="Liberation Mono" font-size="10.47px" textLength="5.26" lengthAdjust="spacingAndGlyphs">о</tspan><tspan x="182.48" font-family="Liberation Mono" font-size="10.47px" textLength="5.26" lengthAdjust="spacingAndGlyphs">р</tspan><tspan x="187.74" font-family="Liberation Mono" font-size="10.47px" textLength="5.26" lengthAdjust="spacingAndGlyphs">а</tspan></text>
<text y="285.00" fill="#111111" stroke="#111111" stroke-width="0.20" style='font-family:"Liberation Serif";font-size:10.38px;font-weight:bold'><tspan x="88.20" textLength="5.30" lengthAdjust="spacingAndGlyphs">Н</tspan><tspan x="93.50" font-family="Liberation Mono" font-size="10.17px" textLength="5.30" lengthAdjust="spacingAndGlyphs">о</tspan><tspan x="103.82" font-weight="normal" stroke="#1a1a1a" stroke-width="0.35">=</tspan><tspan x="114.75" font-weight="normal" stroke="#1a1a1a" stroke-width="0.35">9</tspan><tspan x="121.35" font-weight="normal" stroke="#1a1a1a" stroke-width="0.35">,</tspan><tspan x="126.22" font-weight="normal" stroke="#1a1a1a" stroke-width="0.35">I</tspan><tspan x="130.65" font-weight="normal" stroke="#1a1a1a" stroke-width="0.35">2</tspan><tspan x="137.25" font-weight="normal" stroke="#1a1a1a" stroke-width="0.35">,</tspan><tspan x="142.12" font-weight="normal" stroke="#1a1a1a" stroke-width="0.35">I</tspan><tspan x="146.55" font-weight="normal" stroke="#1a1a1a" stroke-width="0.35">5</tspan><tspan x="157.10" font-family="Liberation Mono" font-size="10.17px" textLength="5.30" lengthAdjust="spacingAndGlyphs">м</tspan></text>
<text y="275.80" fill="#111111" stroke="#111111" stroke-width="0.20" style='font-family:"Liberation Serif";font-size:10.69px;font-weight:bold'><tspan x="246.30" font-family="Liberation Mono" font-size="10.47px" textLength="5.29" lengthAdjust="spacingAndGlyphs">б</tspan><tspan x="252.45">)</tspan><tspan x="262.16" textLength="5.29" lengthAdjust="spacingAndGlyphs">Д</tspan><tspan x="267.45" font-family="Liberation Mono" font-size="10.47px" textLength="5.29" lengthAdjust="spacingAndGlyphs">в</tspan><tspan x="272.73" font-family="Liberation Mono" font-size="10.47px" textLength="5.29" lengthAdjust="spacingAndGlyphs">у</tspan><tspan x="278.02" font-family="Liberation Mono" font-size="10.47px" textLength="5.29" lengthAdjust="spacingAndGlyphs">х</tspan><tspan x="283.31" font-family="Liberation Mono" font-size="10.47px" textLength="5.29" lengthAdjust="spacingAndGlyphs">с</tspan><tspan x="288.60" font-family="Liberation Mono" font-size="10.47px" textLength="5.29" lengthAdjust="spacingAndGlyphs">т</tspan><tspan x="293.88" font-family="Liberation Mono" font-size="10.47px" textLength="5.29" lengthAdjust="spacingAndGlyphs">о</tspan><tspan x="299.17" font-family="Liberation Mono" font-size="10.47px" textLength="5.29" lengthAdjust="spacingAndGlyphs">л</tspan><tspan x="304.46" font-family="Liberation Mono" font-size="10.47px" textLength="5.29" lengthAdjust="spacingAndGlyphs">б</tspan><tspan x="309.74" font-family="Liberation Mono" font-size="10.47px" textLength="5.29" lengthAdjust="spacingAndGlyphs">ч</tspan><tspan x="315.03" font-family="Liberation Mono" font-size="10.47px" textLength="5.29" lengthAdjust="spacingAndGlyphs">а</tspan><tspan x="320.32" font-family="Liberation Mono" font-size="10.47px" textLength="5.29" lengthAdjust="spacingAndGlyphs">т</tspan><tspan x="325.60" font-family="Liberation Mono" font-size="10.47px" textLength="5.29" lengthAdjust="spacingAndGlyphs">а</tspan><tspan x="330.89" font-family="Liberation Mono" font-size="10.47px" textLength="5.29" lengthAdjust="spacingAndGlyphs">я</tspan><tspan x="341.47" font-family="Liberation Mono" font-size="10.47px" textLength="5.29" lengthAdjust="spacingAndGlyphs">о</tspan><tspan x="346.75" font-family="Liberation Mono" font-size="10.47px" textLength="5.29" lengthAdjust="spacingAndGlyphs">п</tspan><tspan x="352.04" font-family="Liberation Mono" font-size="10.47px" textLength="5.29" lengthAdjust="spacingAndGlyphs">о</tspan><tspan x="357.33" font-family="Liberation Mono" font-size="10.47px" textLength="5.29" lengthAdjust="spacingAndGlyphs">р</tspan><tspan x="362.61" font-family="Liberation Mono" font-size="10.47px" textLength="5.29" lengthAdjust="spacingAndGlyphs">а</tspan></text>
<text y="284.00" fill="#111111" stroke="#111111" stroke-width="0.20" style='font-family:"Liberation Serif";font-size:10.38px;font-weight:bold'><tspan x="262.40" font-family="Liberation Mono" font-size="10.17px" textLength="5.28" lengthAdjust="spacingAndGlyphs">б</tspan><tspan x="267.68" font-family="Liberation Mono" font-size="10.17px" textLength="5.28" lengthAdjust="spacingAndGlyphs">е</tspan><tspan x="272.95" font-family="Liberation Mono" font-size="10.17px" textLength="5.28" lengthAdjust="spacingAndGlyphs">з</tspan><tspan x="283.51" font-family="Liberation Mono" font-size="10.17px" textLength="5.28" lengthAdjust="spacingAndGlyphs">д</tspan><tspan x="288.78" font-family="Liberation Mono" font-size="10.17px" textLength="5.28" lengthAdjust="spacingAndGlyphs">и</tspan><tspan x="294.06" font-family="Liberation Mono" font-size="10.17px" textLength="5.28" lengthAdjust="spacingAndGlyphs">а</tspan><tspan x="299.34" font-family="Liberation Mono" font-size="10.17px" textLength="5.28" lengthAdjust="spacingAndGlyphs">ф</tspan><tspan x="304.62" font-family="Liberation Mono" font-size="10.17px" textLength="5.28" lengthAdjust="spacingAndGlyphs">р</tspan><tspan x="309.89" font-family="Liberation Mono" font-size="10.17px" textLength="5.28" lengthAdjust="spacingAndGlyphs">а</tspan><tspan x="315.17" font-family="Liberation Mono" font-size="10.17px" textLength="5.28" lengthAdjust="spacingAndGlyphs">г</tspan><tspan x="320.45" font-family="Liberation Mono" font-size="10.17px" textLength="5.28" lengthAdjust="spacingAndGlyphs">м</tspan><tspan x="325.72" font-family="Liberation Mono" font-size="10.17px" textLength="5.28" lengthAdjust="spacingAndGlyphs">ы</tspan></text>
<text y="292.60" fill="#111111" stroke="#111111" stroke-width="0.20" style='font-family:"Liberation Serif";font-size:10.38px;font-weight:bold'><tspan x="262.40" textLength="5.33" lengthAdjust="spacingAndGlyphs">Н</tspan><tspan x="267.73" font-family="Liberation Mono" font-size="10.17px" textLength="5.33" lengthAdjust="spacingAndGlyphs">о</tspan><tspan x="278.12" font-weight="normal" stroke="#1a1a1a" stroke-width="0.35">=</tspan><tspan x="289.11" font-weight="normal" stroke="#1a1a1a" stroke-width="0.35">9</tspan><tspan x="295.74" font-weight="normal" stroke="#1a1a1a" stroke-width="0.35">,</tspan><tspan x="300.64" font-weight="normal" stroke="#1a1a1a" stroke-width="0.35">I</tspan><tspan x="305.10" font-weight="normal" stroke="#1a1a1a" stroke-width="0.35">2</tspan><tspan x="311.72" font-weight="normal" stroke="#1a1a1a" stroke-width="0.35">,</tspan><tspan x="316.62" font-weight="normal" stroke="#1a1a1a" stroke-width="0.35">I</tspan><tspan x="321.08" font-weight="normal" stroke="#1a1a1a" stroke-width="0.35">5</tspan><tspan x="331.67" font-family="Liberation Mono" font-size="10.17px" textLength="5.33" lengthAdjust="spacingAndGlyphs">м</tspan></text>
<text y="275.30" fill="#111111" stroke="#111111" stroke-width="0.20" style='font-family:"Liberation Serif";font-size:10.53px;font-weight:bold'><tspan x="400.40" font-family="Liberation Mono" font-size="10.32px" textLength="5.19" lengthAdjust="spacingAndGlyphs">в</tspan><tspan x="406.43">)</tspan><tspan x="415.97" textLength="5.19" lengthAdjust="spacingAndGlyphs">Т</tspan><tspan x="421.16" font-family="Liberation Mono" font-size="10.32px" textLength="5.19" lengthAdjust="spacingAndGlyphs">р</tspan><tspan x="426.34" font-family="Liberation Mono" font-size="10.32px" textLength="5.19" lengthAdjust="spacingAndGlyphs">е</tspan><tspan x="431.53" font-family="Liberation Mono" font-size="10.32px" textLength="5.19" lengthAdjust="spacingAndGlyphs">х</tspan><tspan x="436.72" font-family="Liberation Mono" font-size="10.32px" textLength="5.19" lengthAdjust="spacingAndGlyphs">с</tspan><tspan x="441.91" font-family="Liberation Mono" font-size="10.32px" textLength="5.19" lengthAdjust="spacingAndGlyphs">т</tspan><tspan x="447.10" font-family="Liberation Mono" font-size="10.32px" textLength="5.19" lengthAdjust="spacingAndGlyphs">о</tspan><tspan x="452.29" font-family="Liberation Mono" font-size="10.32px" textLength="5.19" lengthAdjust="spacingAndGlyphs">л</tspan><tspan x="457.48" font-family="Liberation Mono" font-size="10.32px" textLength="5.19" lengthAdjust="spacingAndGlyphs">б</tspan><tspan x="462.67" font-family="Liberation Mono" font-size="10.32px" textLength="5.19" lengthAdjust="spacingAndGlyphs">ч</tspan><tspan x="467.86" font-family="Liberation Mono" font-size="10.32px" textLength="5.19" lengthAdjust="spacingAndGlyphs">а</tspan><tspan x="473.04" font-family="Liberation Mono" font-size="10.32px" textLength="5.19" lengthAdjust="spacingAndGlyphs">т</tspan><tspan x="478.23" font-family="Liberation Mono" font-size="10.32px" textLength="5.19" lengthAdjust="spacingAndGlyphs">а</tspan><tspan x="483.42" font-family="Liberation Mono" font-size="10.32px" textLength="5.19" lengthAdjust="spacingAndGlyphs">я</tspan><tspan x="493.80" font-family="Liberation Mono" font-size="10.32px" textLength="5.19" lengthAdjust="spacingAndGlyphs">о</tspan><tspan x="498.99" font-family="Liberation Mono" font-size="10.32px" textLength="5.19" lengthAdjust="spacingAndGlyphs">п</tspan><tspan x="504.18" font-family="Liberation Mono" font-size="10.32px" textLength="5.19" lengthAdjust="spacingAndGlyphs">о</tspan><tspan x="509.37" font-family="Liberation Mono" font-size="10.32px" textLength="5.19" lengthAdjust="spacingAndGlyphs">р</tspan><tspan x="514.56" font-family="Liberation Mono" font-size="10.32px" textLength="5.19" lengthAdjust="spacingAndGlyphs">а</tspan><tspan x="524.93" font-family="Liberation Mono" font-size="10.32px" textLength="5.19" lengthAdjust="spacingAndGlyphs">б</tspan><tspan x="530.12" font-family="Liberation Mono" font-size="10.32px" textLength="5.19" lengthAdjust="spacingAndGlyphs">е</tspan><tspan x="535.31" font-family="Liberation Mono" font-size="10.32px" textLength="5.19" lengthAdjust="spacingAndGlyphs">з</tspan></text>
<text y="283.80" fill="#111111" stroke="#111111" stroke-width="0.20" style='font-family:"Liberation Serif";font-size:10.38px;font-weight:bold'><tspan x="415.30" font-family="Liberation Mono" font-size="10.17px" textLength="5.47" lengthAdjust="spacingAndGlyphs">д</tspan><tspan x="420.77" font-family="Liberation Mono" font-size="10.17px" textLength="5.47" lengthAdjust="spacingAndGlyphs">и</tspan><tspan x="426.23" font-family="Liberation Mono" font-size="10.17px" textLength="5.47" lengthAdjust="spacingAndGlyphs">а</tspan><tspan x="431.70" font-family="Liberation Mono" font-size="10.17px" textLength="5.47" lengthAdjust="spacingAndGlyphs">ф</tspan><tspan x="437.16" font-family="Liberation Mono" font-size="10.17px" textLength="5.47" lengthAdjust="spacingAndGlyphs">р</tspan><tspan x="442.63" font-family="Liberation Mono" font-size="10.17px" textLength="5.47" lengthAdjust="spacingAndGlyphs">а</tspan><tspan x="448.09" font-family="Liberation Mono" font-size="10.17px" textLength="5.47" lengthAdjust="spacingAndGlyphs">г</tspan><tspan x="453.56" font-family="Liberation Mono" font-size="10.17px" textLength="5.47" lengthAdjust="spacingAndGlyphs">м</tspan><tspan x="459.02" font-family="Liberation Mono" font-size="10.17px" textLength="5.47" lengthAdjust="spacingAndGlyphs">ы</tspan><tspan x="469.95" font-family="Liberation Mono" font-size="10.17px" textLength="5.47" lengthAdjust="spacingAndGlyphs">п</tspan><tspan x="475.42" font-family="Liberation Mono" font-size="10.17px" textLength="5.47" lengthAdjust="spacingAndGlyphs">о</tspan><tspan x="480.88" font-family="Liberation Mono" font-size="10.17px" textLength="5.47" lengthAdjust="spacingAndGlyphs">д</tspan><tspan x="491.81" font-family="Liberation Mono" font-size="10.17px" textLength="5.47" lengthAdjust="spacingAndGlyphs">п</tspan><tspan x="497.28" font-family="Liberation Mono" font-size="10.17px" textLength="5.47" lengthAdjust="spacingAndGlyphs">р</tspan><tspan x="502.74" font-family="Liberation Mono" font-size="10.17px" textLength="5.47" lengthAdjust="spacingAndGlyphs">о</tspan><tspan x="508.21" font-family="Liberation Mono" font-size="10.17px" textLength="5.47" lengthAdjust="spacingAndGlyphs">л</tspan><tspan x="513.67" font-family="Liberation Mono" font-size="10.17px" textLength="5.47" lengthAdjust="spacingAndGlyphs">е</tspan><tspan x="519.14" font-family="Liberation Mono" font-size="10.17px" textLength="5.47" lengthAdjust="spacingAndGlyphs">т</tspan><tspan x="524.60" font-family="Liberation Mono" font-size="10.17px" textLength="5.47" lengthAdjust="spacingAndGlyphs">н</tspan><tspan x="530.07" font-family="Liberation Mono" font-size="10.17px" textLength="5.47" lengthAdjust="spacingAndGlyphs">ы</tspan><tspan x="535.53" font-family="Liberation Mono" font-size="10.17px" textLength="5.47" lengthAdjust="spacingAndGlyphs">е</tspan></text>
<text y="292.10" fill="#111111" stroke="#111111" stroke-width="0.20" style='font-family:"Liberation Serif";font-size:10.38px;font-weight:bold'><tspan x="415.30" font-family="Liberation Mono" font-size="10.17px" textLength="5.24" lengthAdjust="spacingAndGlyphs">с</tspan><tspan x="420.54" font-family="Liberation Mono" font-size="10.17px" textLength="5.24" lengthAdjust="spacingAndGlyphs">т</tspan><tspan x="425.79" font-family="Liberation Mono" font-size="10.17px" textLength="5.24" lengthAdjust="spacingAndGlyphs">р</tspan><tspan x="431.03" font-family="Liberation Mono" font-size="10.17px" textLength="5.24" lengthAdjust="spacingAndGlyphs">о</tspan><tspan x="436.28" font-family="Liberation Mono" font-size="10.17px" textLength="5.24" lengthAdjust="spacingAndGlyphs">е</tspan><tspan x="441.52" font-family="Liberation Mono" font-size="10.17px" textLength="5.24" lengthAdjust="spacingAndGlyphs">н</tspan><tspan x="446.76" font-family="Liberation Mono" font-size="10.17px" textLength="5.24" lengthAdjust="spacingAndGlyphs">и</tspan><tspan x="452.01" font-family="Liberation Mono" font-size="10.17px" textLength="5.24" lengthAdjust="spacingAndGlyphs">я</tspan><tspan x="462.50" font-family="Liberation Mono" font-size="10.17px" textLength="5.24" lengthAdjust="spacingAndGlyphs">д</tspan><tspan x="467.74" font-family="Liberation Mono" font-size="10.17px" textLength="5.24" lengthAdjust="spacingAndGlyphs">л</tspan><tspan x="472.98" font-family="Liberation Mono" font-size="10.17px" textLength="5.24" lengthAdjust="spacingAndGlyphs">и</tspan><tspan x="478.23" font-family="Liberation Mono" font-size="10.17px" textLength="5.24" lengthAdjust="spacingAndGlyphs">н</tspan><tspan x="483.47" font-family="Liberation Mono" font-size="10.17px" textLength="5.24" lengthAdjust="spacingAndGlyphs">о</tspan><tspan x="488.72" font-family="Liberation Mono" font-size="10.17px" textLength="5.24" lengthAdjust="spacingAndGlyphs">й</tspan><tspan x="500.10" font-weight="normal" stroke="#1a1a1a" stroke-width="0.35">I</tspan><tspan x="504.47" font-weight="normal" stroke="#1a1a1a" stroke-width="0.35">8</tspan><tspan x="514.94" font-family="Liberation Mono" font-size="10.17px" textLength="5.24" lengthAdjust="spacingAndGlyphs">и</tspan><tspan x="525.45" font-weight="normal" stroke="#1a1a1a" stroke-width="0.35">2</tspan><tspan x="530.69" font-weight="normal" stroke="#1a1a1a" stroke-width="0.35">4</tspan><tspan x="541.16" font-family="Liberation Mono" font-size="10.17px" textLength="5.24" lengthAdjust="spacingAndGlyphs">м</tspan></text>
<text y="300.50" fill="#111111" stroke="#111111" stroke-width="0.20" style='font-family:"Liberation Serif";font-size:10.38px;font-weight:bold'><tspan x="415.30" textLength="5.30" lengthAdjust="spacingAndGlyphs">Н</tspan><tspan x="420.60" font-family="Liberation Mono" font-size="10.17px" textLength="5.30" lengthAdjust="spacingAndGlyphs">о</tspan><tspan x="430.92" font-weight="normal" stroke="#1a1a1a" stroke-width="0.35">=</tspan><tspan x="441.85" font-weight="normal" stroke="#1a1a1a" stroke-width="0.35">9</tspan><tspan x="448.45" font-weight="normal" stroke="#1a1a1a" stroke-width="0.35">,</tspan><tspan x="453.32" font-weight="normal" stroke="#1a1a1a" stroke-width="0.35">I</tspan><tspan x="457.75" font-weight="normal" stroke="#1a1a1a" stroke-width="0.35">2</tspan><tspan x="464.35" font-weight="normal" stroke="#1a1a1a" stroke-width="0.35">,</tspan><tspan x="469.22" font-weight="normal" stroke="#1a1a1a" stroke-width="0.35">I</tspan><tspan x="473.65" font-weight="normal" stroke="#1a1a1a" stroke-width="0.35">5</tspan><tspan x="484.20" font-family="Liberation Mono" font-size="10.17px" textLength="5.30" lengthAdjust="spacingAndGlyphs">м</tspan></text>
<text y="475.00" fill="#111111" stroke="#111111" stroke-width="0.20" style='font-family:"Liberation Serif";font-size:10.38px;font-weight:bold'><tspan x="71.30" font-family="Liberation Mono" font-size="10.17px" textLength="5.28" lengthAdjust="spacingAndGlyphs">г</tspan><tspan x="77.49">)</tspan><tspan x="87.14" textLength="5.28" lengthAdjust="spacingAndGlyphs">Т</tspan><tspan x="92.43" font-family="Liberation Mono" font-size="10.17px" textLength="5.28" lengthAdjust="spacingAndGlyphs">р</tspan><tspan x="97.71" font-family="Liberation Mono" font-size="10.17px" textLength="5.28" lengthAdjust="spacingAndGlyphs">е</tspan><tspan x="102.99" font-family="Liberation Mono" font-size="10.17px" textLength="5.28" lengthAdjust="spacingAndGlyphs">х</tspan><tspan x="108.27" font-family="Liberation Mono" font-size="10.17px" textLength="5.28" lengthAdjust="spacingAndGlyphs">с</tspan><tspan x="113.55" font-family="Liberation Mono" font-size="10.17px" textLength="5.28" lengthAdjust="spacingAndGlyphs">т</tspan><tspan x="118.83" font-family="Liberation Mono" font-size="10.17px" textLength="5.28" lengthAdjust="spacingAndGlyphs">о</tspan><tspan x="124.11" font-family="Liberation Mono" font-size="10.17px" textLength="5.28" lengthAdjust="spacingAndGlyphs">л</tspan><tspan x="129.40" font-family="Liberation Mono" font-size="10.17px" textLength="5.28" lengthAdjust="spacingAndGlyphs">б</tspan><tspan x="134.68" font-family="Liberation Mono" font-size="10.17px" textLength="5.28" lengthAdjust="spacingAndGlyphs">ч</tspan><tspan x="139.96" font-family="Liberation Mono" font-size="10.17px" textLength="5.28" lengthAdjust="spacingAndGlyphs">а</tspan><tspan x="145.24" font-family="Liberation Mono" font-size="10.17px" textLength="5.28" lengthAdjust="spacingAndGlyphs">т</tspan><tspan x="150.52" font-family="Liberation Mono" font-size="10.17px" textLength="5.28" lengthAdjust="spacingAndGlyphs">а</tspan><tspan x="155.80" font-family="Liberation Mono" font-size="10.17px" textLength="5.28" lengthAdjust="spacingAndGlyphs">я</tspan><tspan x="166.37" font-family="Liberation Mono" font-size="10.17px" textLength="5.28" lengthAdjust="spacingAndGlyphs">о</tspan><tspan x="171.65" font-family="Liberation Mono" font-size="10.17px" textLength="5.28" lengthAdjust="spacingAndGlyphs">п</tspan><tspan x="176.93" font-family="Liberation Mono" font-size="10.17px" textLength="5.28" lengthAdjust="spacingAndGlyphs">о</tspan><tspan x="182.21" font-family="Liberation Mono" font-size="10.17px" textLength="5.28" lengthAdjust="spacingAndGlyphs">р</tspan><tspan x="187.49" font-family="Liberation Mono" font-size="10.17px" textLength="5.28" lengthAdjust="spacingAndGlyphs">а</tspan><tspan x="198.06" font-family="Liberation Mono" font-size="10.17px" textLength="5.28" lengthAdjust="spacingAndGlyphs">б</tspan><tspan x="203.34" font-family="Liberation Mono" font-size="10.17px" textLength="5.28" lengthAdjust="spacingAndGlyphs">е</tspan><tspan x="208.62" font-family="Liberation Mono" font-size="10.17px" textLength="5.28" lengthAdjust="spacingAndGlyphs">з</tspan></text>
<text y="483.50" fill="#111111" stroke="#111111" stroke-width="0.20" style='font-family:"Liberation Serif";font-size:10.38px;font-weight:bold'><tspan x="87.90" font-family="Liberation Mono" font-size="10.17px" textLength="5.47" lengthAdjust="spacingAndGlyphs">д</tspan><tspan x="93.37" font-family="Liberation Mono" font-size="10.17px" textLength="5.47" lengthAdjust="spacingAndGlyphs">и</tspan><tspan x="98.83" font-family="Liberation Mono" font-size="10.17px" textLength="5.47" lengthAdjust="spacingAndGlyphs">а</tspan><tspan x="104.30" font-family="Liberation Mono" font-size="10.17px" textLength="5.47" lengthAdjust="spacingAndGlyphs">ф</tspan><tspan x="109.76" font-family="Liberation Mono" font-size="10.17px" textLength="5.47" lengthAdjust="spacingAndGlyphs">р</tspan><tspan x="115.23" font-family="Liberation Mono" font-size="10.17px" textLength="5.47" lengthAdjust="spacingAndGlyphs">а</tspan><tspan x="120.69" font-family="Liberation Mono" font-size="10.17px" textLength="5.47" lengthAdjust="spacingAndGlyphs">г</tspan><tspan x="126.16" font-family="Liberation Mono" font-size="10.17px" textLength="5.47" lengthAdjust="spacingAndGlyphs">м</tspan><tspan x="131.62" font-family="Liberation Mono" font-size="10.17px" textLength="5.47" lengthAdjust="spacingAndGlyphs">ы</tspan><tspan x="142.55" font-family="Liberation Mono" font-size="10.17px" textLength="5.47" lengthAdjust="spacingAndGlyphs">п</tspan><tspan x="148.02" font-family="Liberation Mono" font-size="10.17px" textLength="5.47" lengthAdjust="spacingAndGlyphs">о</tspan><tspan x="153.48" font-family="Liberation Mono" font-size="10.17px" textLength="5.47" lengthAdjust="spacingAndGlyphs">д</tspan><tspan x="164.41" font-family="Liberation Mono" font-size="10.17px" textLength="5.47" lengthAdjust="spacingAndGlyphs">п</tspan><tspan x="169.88" font-family="Liberation Mono" font-size="10.17px" textLength="5.47" lengthAdjust="spacingAndGlyphs">р</tspan><tspan x="175.34" font-family="Liberation Mono" font-size="10.17px" textLength="5.47" lengthAdjust="spacingAndGlyphs">о</tspan><tspan x="180.81" font-family="Liberation Mono" font-size="10.17px" textLength="5.47" lengthAdjust="spacingAndGlyphs">л</tspan><tspan x="186.27" font-family="Liberation Mono" font-size="10.17px" textLength="5.47" lengthAdjust="spacingAndGlyphs">е</tspan><tspan x="191.74" font-family="Liberation Mono" font-size="10.17px" textLength="5.47" lengthAdjust="spacingAndGlyphs">т</tspan><tspan x="197.20" font-family="Liberation Mono" font-size="10.17px" textLength="5.47" lengthAdjust="spacingAndGlyphs">н</tspan><tspan x="202.67" font-family="Liberation Mono" font-size="10.17px" textLength="5.47" lengthAdjust="spacingAndGlyphs">ы</tspan><tspan x="208.13" font-family="Liberation Mono" font-size="10.17px" textLength="5.47" lengthAdjust="spacingAndGlyphs">е</tspan></text>
<text y="492.00" fill="#111111" stroke="#111111" stroke-width="0.20" style='font-family:"Liberation Serif";font-size:10.38px;font-weight:bold'><tspan x="87.90" font-family="Liberation Mono" font-size="10.17px" textLength="5.32" lengthAdjust="spacingAndGlyphs">с</tspan><tspan x="93.22" font-family="Liberation Mono" font-size="10.17px" textLength="5.32" lengthAdjust="spacingAndGlyphs">т</tspan><tspan x="98.53" font-family="Liberation Mono" font-size="10.17px" textLength="5.32" lengthAdjust="spacingAndGlyphs">р</tspan><tspan x="103.85" font-family="Liberation Mono" font-size="10.17px" textLength="5.32" lengthAdjust="spacingAndGlyphs">о</tspan><tspan x="109.16" font-family="Liberation Mono" font-size="10.17px" textLength="5.32" lengthAdjust="spacingAndGlyphs">е</tspan><tspan x="114.48" font-family="Liberation Mono" font-size="10.17px" textLength="5.32" lengthAdjust="spacingAndGlyphs">н</tspan><tspan x="119.80" font-family="Liberation Mono" font-size="10.17px" textLength="5.32" lengthAdjust="spacingAndGlyphs">и</tspan><tspan x="125.11" font-family="Liberation Mono" font-size="10.17px" textLength="5.32" lengthAdjust="spacingAndGlyphs">я</tspan><tspan x="135.74" font-family="Liberation Mono" font-size="10.17px" textLength="5.32" lengthAdjust="spacingAndGlyphs">д</tspan><tspan x="141.06" font-family="Liberation Mono" font-size="10.17px" textLength="5.32" lengthAdjust="spacingAndGlyphs">л</tspan><tspan x="146.38" font-family="Liberation Mono" font-size="10.17px" textLength="5.32" lengthAdjust="spacingAndGlyphs">и</tspan><tspan x="151.69" font-family="Liberation Mono" font-size="10.17px" textLength="5.32" lengthAdjust="spacingAndGlyphs">н</tspan><tspan x="157.01" font-family="Liberation Mono" font-size="10.17px" textLength="5.32" lengthAdjust="spacingAndGlyphs">о</tspan><tspan x="162.32" font-family="Liberation Mono" font-size="10.17px" textLength="5.32" lengthAdjust="spacingAndGlyphs">й</tspan><tspan x="173.02" font-weight="normal" stroke="#1a1a1a" stroke-width="0.35">3</tspan><tspan x="178.33" font-weight="normal" stroke="#1a1a1a" stroke-width="0.35">3</tspan><tspan x="188.90" font-family="Liberation Mono" font-size="10.17px" textLength="5.32" lengthAdjust="spacingAndGlyphs">и</tspan><tspan x="199.60" font-weight="normal" stroke="#1a1a1a" stroke-width="0.35">4</tspan><tspan x="204.91" font-weight="normal" stroke="#1a1a1a" stroke-width="0.35">2</tspan><tspan x="215.48" font-family="Liberation Mono" font-size="10.17px" textLength="5.32" lengthAdjust="spacingAndGlyphs">м</tspan></text>
<text y="500.30" fill="#111111" stroke="#111111" stroke-width="0.20" style='font-family:"Liberation Serif";font-size:10.38px;font-weight:bold'><tspan x="87.90" textLength="5.29" lengthAdjust="spacingAndGlyphs">Н</tspan><tspan x="93.19" font-family="Liberation Mono" font-size="10.17px" textLength="5.29" lengthAdjust="spacingAndGlyphs">о</tspan><tspan x="103.50" font-weight="normal" stroke="#1a1a1a" stroke-width="0.35">=</tspan><tspan x="114.42" font-weight="normal" stroke="#1a1a1a" stroke-width="0.35">9</tspan><tspan x="121.01" font-weight="normal" stroke="#1a1a1a" stroke-width="0.35">,</tspan><tspan x="125.87" font-weight="normal" stroke="#1a1a1a" stroke-width="0.35">I</tspan><tspan x="130.29" font-weight="normal" stroke="#1a1a1a" stroke-width="0.35">2</tspan><tspan x="136.88" font-weight="normal" stroke="#1a1a1a" stroke-width="0.35">,</tspan><tspan x="141.75" font-weight="normal" stroke="#1a1a1a" stroke-width="0.35">I</tspan><tspan x="146.17" font-weight="normal" stroke="#1a1a1a" stroke-width="0.35">5</tspan><tspan x="156.71" font-family="Liberation Mono" font-size="10.17px" textLength="5.29" lengthAdjust="spacingAndGlyphs">м</tspan></text>
<text y="473.30" fill="#111111" stroke="#111111" stroke-width="0.20" style='font-family:"Liberation Serif";font-size:10.69px;font-weight:bold'><tspan x="250.70" font-family="Liberation Mono" font-size="10.47px" textLength="5.29" lengthAdjust="spacingAndGlyphs">д</tspan><tspan x="256.85">)</tspan><tspan x="266.56" textLength="5.29" lengthAdjust="spacingAndGlyphs">Д</tspan><tspan x="271.85" font-family="Liberation Mono" font-size="10.47px" textLength="5.29" lengthAdjust="spacingAndGlyphs">в</tspan><tspan x="277.13" font-family="Liberation Mono" font-size="10.47px" textLength="5.29" lengthAdjust="spacingAndGlyphs">у</tspan><tspan x="282.42" font-family="Liberation Mono" font-size="10.47px" textLength="5.29" lengthAdjust="spacingAndGlyphs">х</tspan><tspan x="287.71" font-family="Liberation Mono" font-size="10.47px" textLength="5.29" lengthAdjust="spacingAndGlyphs">с</tspan><tspan x="293.00" font-family="Liberation Mono" font-size="10.47px" textLength="5.29" lengthAdjust="spacingAndGlyphs">т</tspan><tspan x="298.28" font-family="Liberation Mono" font-size="10.47px" textLength="5.29" lengthAdjust="spacingAndGlyphs">о</tspan><tspan x="303.57" font-family="Liberation Mono" font-size="10.47px" textLength="5.29" lengthAdjust="spacingAndGlyphs">л</tspan><tspan x="308.86" font-family="Liberation Mono" font-size="10.47px" textLength="5.29" lengthAdjust="spacingAndGlyphs">б</tspan><tspan x="314.14" font-family="Liberation Mono" font-size="10.47px" textLength="5.29" lengthAdjust="spacingAndGlyphs">ч</tspan><tspan x="319.43" font-family="Liberation Mono" font-size="10.47px" textLength="5.29" lengthAdjust="spacingAndGlyphs">а</tspan><tspan x="324.72" font-family="Liberation Mono" font-size="10.47px" textLength="5.29" lengthAdjust="spacingAndGlyphs">т</tspan><tspan x="330.00" font-family="Liberation Mono" font-size="10.47px" textLength="5.29" lengthAdjust="spacingAndGlyphs">а</tspan><tspan x="335.29" font-family="Liberation Mono" font-size="10.47px" textLength="5.29" lengthAdjust="spacingAndGlyphs">я</tspan><tspan x="345.87" font-family="Liberation Mono" font-size="10.47px" textLength="5.29" lengthAdjust="spacingAndGlyphs">о</tspan><tspan x="351.15" font-family="Liberation Mono" font-size="10.47px" textLength="5.29" lengthAdjust="spacingAndGlyphs">п</tspan><tspan x="356.44" font-family="Liberation Mono" font-size="10.47px" textLength="5.29" lengthAdjust="spacingAndGlyphs">о</tspan><tspan x="361.73" font-family="Liberation Mono" font-size="10.47px" textLength="5.29" lengthAdjust="spacingAndGlyphs">р</tspan><tspan x="367.01" font-family="Liberation Mono" font-size="10.47px" textLength="5.29" lengthAdjust="spacingAndGlyphs">а</tspan></text>
<text y="481.50" fill="#111111" stroke="#111111" stroke-width="0.20" style='font-family:"Liberation Serif";font-size:10.38px;font-weight:bold'><tspan x="268.10" font-family="Liberation Mono" font-size="10.17px" textLength="5.24" lengthAdjust="spacingAndGlyphs">с</tspan><tspan x="278.58" font-family="Liberation Mono" font-size="10.17px" textLength="5.24" lengthAdjust="spacingAndGlyphs">д</tspan><tspan x="283.83" font-family="Liberation Mono" font-size="10.17px" textLength="5.24" lengthAdjust="spacingAndGlyphs">и</tspan><tspan x="289.07" font-family="Liberation Mono" font-size="10.17px" textLength="5.24" lengthAdjust="spacingAndGlyphs">а</tspan><tspan x="294.31" font-family="Liberation Mono" font-size="10.17px" textLength="5.24" lengthAdjust="spacingAndGlyphs">ф</tspan><tspan x="299.55" font-family="Liberation Mono" font-size="10.17px" textLength="5.24" lengthAdjust="spacingAndGlyphs">р</tspan><tspan x="304.79" font-family="Liberation Mono" font-size="10.17px" textLength="5.24" lengthAdjust="spacingAndGlyphs">а</tspan><tspan x="310.03" font-family="Liberation Mono" font-size="10.17px" textLength="5.24" lengthAdjust="spacingAndGlyphs">г</tspan><tspan x="315.27" font-family="Liberation Mono" font-size="10.17px" textLength="5.24" lengthAdjust="spacingAndGlyphs">м</tspan><tspan x="320.52" font-family="Liberation Mono" font-size="10.17px" textLength="5.24" lengthAdjust="spacingAndGlyphs">о</tspan><tspan x="325.76" font-family="Liberation Mono" font-size="10.17px" textLength="5.24" lengthAdjust="spacingAndGlyphs">й</tspan></text>
<text y="489.80" fill="#111111" stroke="#111111" stroke-width="0.20" style='font-family:"Liberation Serif";font-size:10.38px;font-weight:bold'><tspan x="268.10" textLength="5.21" lengthAdjust="spacingAndGlyphs">Н</tspan><tspan x="273.31" font-family="Liberation Mono" font-size="10.17px" textLength="5.21" lengthAdjust="spacingAndGlyphs">о</tspan><tspan x="283.73" textLength="5.21" lengthAdjust="spacingAndGlyphs">≥</tspan><tspan x="295.03" font-weight="normal" stroke="#1a1a1a" stroke-width="0.35">I</tspan><tspan x="299.37" font-weight="normal" stroke="#1a1a1a" stroke-width="0.35">5</tspan><tspan x="309.78" font-family="Liberation Mono" font-size="10.17px" textLength="5.21" lengthAdjust="spacingAndGlyphs">м</tspan><tspan x="316.30" font-weight="normal" stroke="#1a1a1a" stroke-width="0.35">,</tspan><tspan x="325.41" textLength="5.21" lengthAdjust="spacingAndGlyphs">Н</tspan><tspan x="330.62" font-family="Liberation Mono" font-size="10.17px" textLength="5.21" lengthAdjust="spacingAndGlyphs">о</tspan><tspan x="340.72" font-weight="normal" stroke="#1a1a1a" stroke-width="0.35">=</tspan><tspan x="352.34" font-weight="normal" stroke="#1a1a1a" stroke-width="0.35">I</tspan><tspan x="356.68" font-weight="normal" stroke="#1a1a1a" stroke-width="0.35">8</tspan><tspan x="367.09" font-family="Liberation Mono" font-size="10.17px" textLength="5.21" lengthAdjust="spacingAndGlyphs">м</tspan></text>
<text y="473.60" fill="#111111" stroke="#111111" stroke-width="0.20" style='font-family:"Liberation Serif";font-size:10.38px;font-weight:bold'><tspan x="420.90" font-family="Liberation Mono" font-size="10.17px" textLength="5.26" lengthAdjust="spacingAndGlyphs">е</tspan><tspan x="427.06">)</tspan><tspan x="436.67" textLength="5.26" lengthAdjust="spacingAndGlyphs">Т</tspan><tspan x="441.93" font-family="Liberation Mono" font-size="10.17px" textLength="5.26" lengthAdjust="spacingAndGlyphs">р</tspan><tspan x="447.18" font-family="Liberation Mono" font-size="10.17px" textLength="5.26" lengthAdjust="spacingAndGlyphs">е</tspan><tspan x="452.44" font-family="Liberation Mono" font-size="10.17px" textLength="5.26" lengthAdjust="spacingAndGlyphs">х</tspan><tspan x="457.70" font-family="Liberation Mono" font-size="10.17px" textLength="5.26" lengthAdjust="spacingAndGlyphs">с</tspan><tspan x="462.95" font-family="Liberation Mono" font-size="10.17px" textLength="5.26" lengthAdjust="spacingAndGlyphs">т</tspan><tspan x="468.21" font-family="Liberation Mono" font-size="10.17px" textLength="5.26" lengthAdjust="spacingAndGlyphs">о</tspan><tspan x="473.47" font-family="Liberation Mono" font-size="10.17px" textLength="5.26" lengthAdjust="spacingAndGlyphs">л</tspan><tspan x="478.72" font-family="Liberation Mono" font-size="10.17px" textLength="5.26" lengthAdjust="spacingAndGlyphs">б</tspan><tspan x="483.98" font-family="Liberation Mono" font-size="10.17px" textLength="5.26" lengthAdjust="spacingAndGlyphs">ч</tspan><tspan x="489.23" font-family="Liberation Mono" font-size="10.17px" textLength="5.26" lengthAdjust="spacingAndGlyphs">а</tspan><tspan x="494.49" font-family="Liberation Mono" font-size="10.17px" textLength="5.26" lengthAdjust="spacingAndGlyphs">т</tspan><tspan x="499.75" font-family="Liberation Mono" font-size="10.17px" textLength="5.26" lengthAdjust="spacingAndGlyphs">а</tspan><tspan x="505.00" font-family="Liberation Mono" font-size="10.17px" textLength="5.26" lengthAdjust="spacingAndGlyphs">я</tspan><tspan x="515.52" font-family="Liberation Mono" font-size="10.17px" textLength="5.26" lengthAdjust="spacingAndGlyphs">о</tspan><tspan x="520.77" font-family="Liberation Mono" font-size="10.17px" textLength="5.26" lengthAdjust="spacingAndGlyphs">п</tspan><tspan x="526.03" font-family="Liberation Mono" font-size="10.17px" textLength="5.26" lengthAdjust="spacingAndGlyphs">о</tspan><tspan x="531.29" font-family="Liberation Mono" font-size="10.17px" textLength="5.26" lengthAdjust="spacingAndGlyphs">р</tspan><tspan x="536.54" font-family="Liberation Mono" font-size="10.17px" textLength="5.26" lengthAdjust="spacingAndGlyphs">а</tspan></text>
<text y="482.00" fill="#111111" stroke="#111111" stroke-width="0.20" style='font-family:"Liberation Serif";font-size:10.38px;font-weight:bold'><tspan x="435.50" font-family="Liberation Mono" font-size="10.17px" textLength="5.21" lengthAdjust="spacingAndGlyphs">с</tspan><tspan x="445.92" font-family="Liberation Mono" font-size="10.17px" textLength="5.21" lengthAdjust="spacingAndGlyphs">д</tspan><tspan x="451.12" font-family="Liberation Mono" font-size="10.17px" textLength="5.21" lengthAdjust="spacingAndGlyphs">и</tspan><tspan x="456.33" font-family="Liberation Mono" font-size="10.17px" textLength="5.21" lengthAdjust="spacingAndGlyphs">а</tspan><tspan x="461.54" font-family="Liberation Mono" font-size="10.17px" textLength="5.21" lengthAdjust="spacingAndGlyphs">ф</tspan><tspan x="466.75" font-family="Liberation Mono" font-size="10.17px" textLength="5.21" lengthAdjust="spacingAndGlyphs">р</tspan><tspan x="471.96" font-family="Liberation Mono" font-size="10.17px" textLength="5.21" lengthAdjust="spacingAndGlyphs">а</tspan><tspan x="477.17" font-family="Liberation Mono" font-size="10.17px" textLength="5.21" lengthAdjust="spacingAndGlyphs">г</tspan><tspan x="482.38" font-family="Liberation Mono" font-size="10.17px" textLength="5.21" lengthAdjust="spacingAndGlyphs">м</tspan><tspan x="487.58" font-family="Liberation Mono" font-size="10.17px" textLength="5.21" lengthAdjust="spacingAndGlyphs">о</tspan><tspan x="492.79" font-family="Liberation Mono" font-size="10.17px" textLength="5.21" lengthAdjust="spacingAndGlyphs">й</tspan></text>
<text y="490.50" fill="#111111" stroke="#111111" stroke-width="0.20" style='font-family:"Liberation Serif";font-size:10.38px;font-weight:bold'><tspan x="435.50" textLength="5.24" lengthAdjust="spacingAndGlyphs">Н</tspan><tspan x="440.74" font-family="Liberation Mono" font-size="10.17px" textLength="5.24" lengthAdjust="spacingAndGlyphs">о</tspan><tspan x="451.20" textLength="5.24" lengthAdjust="spacingAndGlyphs">≥</tspan><tspan x="462.56" font-weight="normal" stroke="#1a1a1a" stroke-width="0.35">I</tspan><tspan x="466.93" font-weight="normal" stroke="#1a1a1a" stroke-width="0.35">5</tspan><tspan x="477.38" font-family="Liberation Mono" font-size="10.17px" textLength="5.24" lengthAdjust="spacingAndGlyphs">м</tspan><tspan x="483.93" font-weight="normal" stroke="#1a1a1a" stroke-width="0.35">,</tspan><tspan x="493.09" textLength="5.24" lengthAdjust="spacingAndGlyphs">Н</tspan><tspan x="498.32" font-family="Liberation Mono" font-size="10.17px" textLength="5.24" lengthAdjust="spacingAndGlyphs">о</tspan><tspan x="508.48" font-weight="normal" stroke="#1a1a1a" stroke-width="0.35">=</tspan><tspan x="520.15" font-weight="normal" stroke="#1a1a1a" stroke-width="0.35">I</tspan><tspan x="524.52" font-weight="normal" stroke="#1a1a1a" stroke-width="0.35">8</tspan><tspan x="534.97" font-family="Liberation Mono" font-size="10.17px" textLength="5.24" lengthAdjust="spacingAndGlyphs">м</tspan></text>
<text y="681.60" fill="#111111" stroke="#111111" stroke-width="0.20" style='font-family:"Liberation Serif";font-size:9.47px;font-weight:bold'><tspan x="103.40" font-family="Liberation Mono" font-size="9.28px" textLength="5.19" lengthAdjust="spacingAndGlyphs">а</tspan><tspan x="109.61">)</tspan><tspan x="118.97" font-family="Liberation Mono" font-size="9.28px" textLength="5.19" lengthAdjust="spacingAndGlyphs">с</tspan><tspan x="129.35" font-family="Liberation Mono" font-size="9.28px" textLength="5.19" lengthAdjust="spacingAndGlyphs">ф</tspan><tspan x="134.54" font-family="Liberation Mono" font-size="9.28px" textLength="5.19" lengthAdjust="spacingAndGlyphs">у</tspan><tspan x="139.73" font-family="Liberation Mono" font-size="9.28px" textLength="5.19" lengthAdjust="spacingAndGlyphs">н</tspan><tspan x="144.92" font-family="Liberation Mono" font-size="9.28px" textLength="5.19" lengthAdjust="spacingAndGlyphs">д</tspan><tspan x="150.11" font-family="Liberation Mono" font-size="9.28px" textLength="5.19" lengthAdjust="spacingAndGlyphs">а</tspan><tspan x="155.30" font-family="Liberation Mono" font-size="9.28px" textLength="5.19" lengthAdjust="spacingAndGlyphs">м</tspan><tspan x="160.49" font-family="Liberation Mono" font-size="9.28px" textLength="5.19" lengthAdjust="spacingAndGlyphs">е</tspan><tspan x="165.68" font-family="Liberation Mono" font-size="9.28px" textLength="5.19" lengthAdjust="spacingAndGlyphs">н</tspan><tspan x="170.87" font-family="Liberation Mono" font-size="9.28px" textLength="5.19" lengthAdjust="spacingAndGlyphs">т</tspan><tspan x="176.06" font-family="Liberation Mono" font-size="9.28px" textLength="5.19" lengthAdjust="spacingAndGlyphs">н</tspan><tspan x="181.25" font-family="Liberation Mono" font-size="9.28px" textLength="5.19" lengthAdjust="spacingAndGlyphs">о</tspan><tspan x="186.45" font-family="Liberation Mono" font-size="9.28px" textLength="5.19" lengthAdjust="spacingAndGlyphs">й</tspan><tspan x="196.83" font-family="Liberation Mono" font-size="9.28px" textLength="5.19" lengthAdjust="spacingAndGlyphs">ч</tspan><tspan x="202.02" font-family="Liberation Mono" font-size="9.28px" textLength="5.19" lengthAdjust="spacingAndGlyphs">а</tspan><tspan x="207.21" font-family="Liberation Mono" font-size="9.28px" textLength="5.19" lengthAdjust="spacingAndGlyphs">с</tspan><tspan x="212.40" font-family="Liberation Mono" font-size="9.28px" textLength="5.19" lengthAdjust="spacingAndGlyphs">т</tspan><tspan x="217.59" font-family="Liberation Mono" font-size="9.28px" textLength="5.19" lengthAdjust="spacingAndGlyphs">ь</tspan><tspan x="222.78" font-family="Liberation Mono" font-size="9.28px" textLength="5.19" lengthAdjust="spacingAndGlyphs">ю</tspan><tspan x="229.38" font-weight="normal" stroke="#1a1a1a" stroke-width="0.35">,</tspan><tspan x="233.16" font-family="Liberation Mono" font-size="9.28px" textLength="5.19" lengthAdjust="spacingAndGlyphs">у</tspan><tspan x="238.35" font-family="Liberation Mono" font-size="9.28px" textLength="5.19" lengthAdjust="spacingAndGlyphs">п</tspan><tspan x="243.54" font-family="Liberation Mono" font-size="9.28px" textLength="5.19" lengthAdjust="spacingAndGlyphs">р</tspan><tspan x="248.73" font-family="Liberation Mono" font-size="9.28px" textLength="5.19" lengthAdjust="spacingAndGlyphs">у</tspan><tspan x="253.92" font-family="Liberation Mono" font-size="9.28px" textLength="5.19" lengthAdjust="spacingAndGlyphs">г</tspan><tspan x="259.11" font-family="Liberation Mono" font-size="9.28px" textLength="5.19" lengthAdjust="spacingAndGlyphs">о</tspan></text>
<text y="690.60" fill="#111111" stroke="#111111" stroke-width="0.20" style='font-family:"Liberation Serif";font-size:9.47px;font-weight:bold'><tspan x="113.20" font-family="Liberation Mono" font-size="9.28px" textLength="5.21" lengthAdjust="spacingAndGlyphs">з</tspan><tspan x="118.41" font-family="Liberation Mono" font-size="9.28px" textLength="5.21" lengthAdjust="spacingAndGlyphs">а</tspan><tspan x="123.62" font-family="Liberation Mono" font-size="9.28px" textLength="5.21" lengthAdjust="spacingAndGlyphs">д</tspan><tspan x="128.83" font-family="Liberation Mono" font-size="9.28px" textLength="5.21" lengthAdjust="spacingAndGlyphs">е</tspan><tspan x="134.04" font-family="Liberation Mono" font-size="9.28px" textLength="5.21" lengthAdjust="spacingAndGlyphs">л</tspan><tspan x="139.26" font-family="Liberation Mono" font-size="9.28px" textLength="5.21" lengthAdjust="spacingAndGlyphs">а</tspan><tspan x="144.47" font-family="Liberation Mono" font-size="9.28px" textLength="5.21" lengthAdjust="spacingAndGlyphs">н</tspan><tspan x="149.68" font-family="Liberation Mono" font-size="9.28px" textLength="5.21" lengthAdjust="spacingAndGlyphs">н</tspan><tspan x="154.89" font-family="Liberation Mono" font-size="9.28px" textLength="5.21" lengthAdjust="spacingAndGlyphs">о</tspan><tspan x="160.10" font-family="Liberation Mono" font-size="9.28px" textLength="5.21" lengthAdjust="spacingAndGlyphs">й</tspan><tspan x="170.52" font-family="Liberation Mono" font-size="9.28px" textLength="5.21" lengthAdjust="spacingAndGlyphs">в</tspan><tspan x="180.94" font-family="Liberation Mono" font-size="9.28px" textLength="5.21" lengthAdjust="spacingAndGlyphs">п</tspan><tspan x="186.16" font-family="Liberation Mono" font-size="9.28px" textLength="5.21" lengthAdjust="spacingAndGlyphs">е</tspan><tspan x="191.37" font-family="Liberation Mono" font-size="9.28px" textLength="5.21" lengthAdjust="spacingAndGlyphs">с</tspan><tspan x="196.58" font-family="Liberation Mono" font-size="9.28px" textLength="5.21" lengthAdjust="spacingAndGlyphs">ч</tspan><tspan x="201.79" font-family="Liberation Mono" font-size="9.28px" textLength="5.21" lengthAdjust="spacingAndGlyphs">а</tspan><tspan x="207.00" font-family="Liberation Mono" font-size="9.28px" textLength="5.21" lengthAdjust="spacingAndGlyphs">н</tspan><tspan x="212.21" font-family="Liberation Mono" font-size="9.28px" textLength="5.21" lengthAdjust="spacingAndGlyphs">ы</tspan><tspan x="217.42" font-family="Liberation Mono" font-size="9.28px" textLength="5.21" lengthAdjust="spacingAndGlyphs">й</tspan><tspan x="227.84" font-family="Liberation Mono" font-size="9.28px" textLength="5.21" lengthAdjust="spacingAndGlyphs">г</tspan><tspan x="233.06" font-family="Liberation Mono" font-size="9.28px" textLength="5.21" lengthAdjust="spacingAndGlyphs">р</tspan><tspan x="238.27" font-family="Liberation Mono" font-size="9.28px" textLength="5.21" lengthAdjust="spacingAndGlyphs">у</tspan><tspan x="243.48" font-family="Liberation Mono" font-size="9.28px" textLength="5.21" lengthAdjust="spacingAndGlyphs">н</tspan><tspan x="248.69" font-family="Liberation Mono" font-size="9.28px" textLength="5.21" lengthAdjust="spacingAndGlyphs">т</tspan></text>
<text y="682.10" fill="#111111" stroke="#111111" stroke-width="0.20" style='font-family:"Liberation Serif";font-size:9.47px;font-weight:bold'><tspan x="365.00" font-family="Liberation Mono" font-size="9.28px" textLength="5.23" lengthAdjust="spacingAndGlyphs">б</tspan><tspan x="371.27">)</tspan><tspan x="380.70" font-family="Liberation Mono" font-size="9.28px" textLength="5.23" lengthAdjust="spacingAndGlyphs">с</tspan><tspan x="391.16" font-family="Liberation Mono" font-size="9.28px" textLength="5.23" lengthAdjust="spacingAndGlyphs">ф</tspan><tspan x="396.39" font-family="Liberation Mono" font-size="9.28px" textLength="5.23" lengthAdjust="spacingAndGlyphs">у</tspan><tspan x="401.63" font-family="Liberation Mono" font-size="9.28px" textLength="5.23" lengthAdjust="spacingAndGlyphs">н</tspan><tspan x="406.86" font-family="Liberation Mono" font-size="9.28px" textLength="5.23" lengthAdjust="spacingAndGlyphs">д</tspan><tspan x="412.09" font-family="Liberation Mono" font-size="9.28px" textLength="5.23" lengthAdjust="spacingAndGlyphs">а</tspan><tspan x="417.32" font-family="Liberation Mono" font-size="9.28px" textLength="5.23" lengthAdjust="spacingAndGlyphs">м</tspan><tspan x="422.55" font-family="Liberation Mono" font-size="9.28px" textLength="5.23" lengthAdjust="spacingAndGlyphs">е</tspan><tspan x="427.79" font-family="Liberation Mono" font-size="9.28px" textLength="5.23" lengthAdjust="spacingAndGlyphs">н</tspan><tspan x="433.02" font-family="Liberation Mono" font-size="9.28px" textLength="5.23" lengthAdjust="spacingAndGlyphs">т</tspan><tspan x="438.25" font-family="Liberation Mono" font-size="9.28px" textLength="5.23" lengthAdjust="spacingAndGlyphs">н</tspan><tspan x="443.48" font-family="Liberation Mono" font-size="9.28px" textLength="5.23" lengthAdjust="spacingAndGlyphs">о</tspan><tspan x="448.72" font-family="Liberation Mono" font-size="9.28px" textLength="5.23" lengthAdjust="spacingAndGlyphs">й</tspan><tspan x="459.18" font-family="Liberation Mono" font-size="9.28px" textLength="5.23" lengthAdjust="spacingAndGlyphs">ч</tspan><tspan x="464.41" font-family="Liberation Mono" font-size="9.28px" textLength="5.23" lengthAdjust="spacingAndGlyphs">а</tspan><tspan x="469.65" font-family="Liberation Mono" font-size="9.28px" textLength="5.23" lengthAdjust="spacingAndGlyphs">с</tspan><tspan x="474.88" font-family="Liberation Mono" font-size="9.28px" textLength="5.23" lengthAdjust="spacingAndGlyphs">т</tspan><tspan x="480.11" font-family="Liberation Mono" font-size="9.28px" textLength="5.23" lengthAdjust="spacingAndGlyphs">ь</tspan><tspan x="485.34" font-family="Liberation Mono" font-size="9.28px" textLength="5.23" lengthAdjust="spacingAndGlyphs">ю</tspan><tspan x="492.01" font-weight="normal" stroke="#1a1a1a" stroke-width="0.35">,</tspan><tspan x="495.81" font-family="Liberation Mono" font-size="9.28px" textLength="5.23" lengthAdjust="spacingAndGlyphs">ж</tspan><tspan x="501.04" font-family="Liberation Mono" font-size="9.28px" textLength="5.23" lengthAdjust="spacingAndGlyphs">е</tspan><tspan x="506.27" font-family="Liberation Mono" font-size="9.28px" textLength="5.23" lengthAdjust="spacingAndGlyphs">с</tspan><tspan x="511.50" font-family="Liberation Mono" font-size="9.28px" textLength="5.23" lengthAdjust="spacingAndGlyphs">т</tspan><tspan x="516.74" font-family="Liberation Mono" font-size="9.28px" textLength="5.23" lengthAdjust="spacingAndGlyphs">к</tspan><tspan x="521.97" font-family="Liberation Mono" font-size="9.28px" textLength="5.23" lengthAdjust="spacingAndGlyphs">о</tspan></text>
<text y="691.10" fill="#111111" stroke="#111111" stroke-width="0.20" style='font-family:"Liberation Serif";font-size:9.47px;font-weight:bold'><tspan x="381.50" font-family="Liberation Mono" font-size="9.28px" textLength="5.23" lengthAdjust="spacingAndGlyphs">з</tspan><tspan x="386.73" font-family="Liberation Mono" font-size="9.28px" textLength="5.23" lengthAdjust="spacingAndGlyphs">а</tspan><tspan x="391.96" font-family="Liberation Mono" font-size="9.28px" textLength="5.23" lengthAdjust="spacingAndGlyphs">д</tspan><tspan x="397.20" font-family="Liberation Mono" font-size="9.28px" textLength="5.23" lengthAdjust="spacingAndGlyphs">е</tspan><tspan x="402.43" font-family="Liberation Mono" font-size="9.28px" textLength="5.23" lengthAdjust="spacingAndGlyphs">л</tspan><tspan x="407.66" font-family="Liberation Mono" font-size="9.28px" textLength="5.23" lengthAdjust="spacingAndGlyphs">а</tspan><tspan x="412.89" font-family="Liberation Mono" font-size="9.28px" textLength="5.23" lengthAdjust="spacingAndGlyphs">н</tspan><tspan x="418.12" font-family="Liberation Mono" font-size="9.28px" textLength="5.23" lengthAdjust="spacingAndGlyphs">н</tspan><tspan x="423.36" font-family="Liberation Mono" font-size="9.28px" textLength="5.23" lengthAdjust="spacingAndGlyphs">о</tspan><tspan x="428.59" font-family="Liberation Mono" font-size="9.28px" textLength="5.23" lengthAdjust="spacingAndGlyphs">й</tspan><tspan x="440.09">(</tspan><tspan x="444.28" font-family="Liberation Mono" font-size="9.28px" textLength="5.23" lengthAdjust="spacingAndGlyphs">з</tspan><tspan x="449.52" font-family="Liberation Mono" font-size="9.28px" textLength="5.23" lengthAdjust="spacingAndGlyphs">а</tspan><tspan x="454.75" font-family="Liberation Mono" font-size="9.28px" textLength="5.23" lengthAdjust="spacingAndGlyphs">б</tspan><tspan x="459.98" font-family="Liberation Mono" font-size="9.28px" textLength="5.23" lengthAdjust="spacingAndGlyphs">у</tspan><tspan x="465.21" font-family="Liberation Mono" font-size="9.28px" textLength="5.23" lengthAdjust="spacingAndGlyphs">р</tspan><tspan x="470.44" font-family="Liberation Mono" font-size="9.28px" textLength="5.23" lengthAdjust="spacingAndGlyphs">е</tspan><tspan x="475.68" font-family="Liberation Mono" font-size="9.28px" textLength="5.23" lengthAdjust="spacingAndGlyphs">н</tspan><tspan x="480.91" font-family="Liberation Mono" font-size="9.28px" textLength="5.23" lengthAdjust="spacingAndGlyphs">н</tspan><tspan x="486.14" font-family="Liberation Mono" font-size="9.28px" textLength="5.23" lengthAdjust="spacingAndGlyphs">о</tspan><tspan x="491.37" font-family="Liberation Mono" font-size="9.28px" textLength="5.23" lengthAdjust="spacingAndGlyphs">й</tspan><tspan x="497.64">)</tspan><tspan x="507.07" font-family="Liberation Mono" font-size="9.28px" textLength="5.23" lengthAdjust="spacingAndGlyphs">в</tspan></text>
<text y="699.30" fill="#111111" stroke="#111111" stroke-width="0.20" style='font-family:"Liberation Serif";font-size:9.47px;font-weight:bold'><tspan x="381.50" font-family="Liberation Mono" font-size="9.28px" textLength="5.32" lengthAdjust="spacingAndGlyphs">с</tspan><tspan x="386.82" font-family="Liberation Mono" font-size="9.28px" textLength="5.32" lengthAdjust="spacingAndGlyphs">к</tspan><tspan x="392.14" font-family="Liberation Mono" font-size="9.28px" textLength="5.32" lengthAdjust="spacingAndGlyphs">а</tspan><tspan x="397.46" font-family="Liberation Mono" font-size="9.28px" textLength="5.32" lengthAdjust="spacingAndGlyphs">л</tspan><tspan x="402.79" font-family="Liberation Mono" font-size="9.28px" textLength="5.32" lengthAdjust="spacingAndGlyphs">ь</tspan><tspan x="408.11" font-family="Liberation Mono" font-size="9.28px" textLength="5.32" lengthAdjust="spacingAndGlyphs">н</tspan><tspan x="413.43" font-family="Liberation Mono" font-size="9.28px" textLength="5.32" lengthAdjust="spacingAndGlyphs">ы</tspan><tspan x="418.75" font-family="Liberation Mono" font-size="9.28px" textLength="5.32" lengthAdjust="spacingAndGlyphs">й</tspan><tspan x="429.39" font-family="Liberation Mono" font-size="9.28px" textLength="5.32" lengthAdjust="spacingAndGlyphs">г</tspan><tspan x="434.71" font-family="Liberation Mono" font-size="9.28px" textLength="5.32" lengthAdjust="spacingAndGlyphs">р</tspan><tspan x="440.04" font-family="Liberation Mono" font-size="9.28px" textLength="5.32" lengthAdjust="spacingAndGlyphs">у</tspan><tspan x="445.36" font-family="Liberation Mono" font-size="9.28px" textLength="5.32" lengthAdjust="spacingAndGlyphs">н</tspan><tspan x="450.68" font-family="Liberation Mono" font-size="9.28px" textLength="5.32" lengthAdjust="spacingAndGlyphs">т</tspan></text>
<text transform="translate(174.26 321.96) scale(1.6106 1)" x="0" y="0" fill="#111111" stroke="#111111" stroke-width="0.15" style='font-family:"Liberation Sans";font-size:5.97px;font-style:italic;font-kerning:none'>ℓр</text>
<line x1="148.7" y1="325.6" x2="202.4" y2="325.6" stroke="#111111" stroke-width="0.90"/>
<circle cx="148.9" cy="325.6" r="1.0" stroke="#111111" stroke-width="0.00" fill="#111111"/>
<circle cx="202.2" cy="325.6" r="1.0" stroke="#111111" stroke-width="0.00" fill="#111111"/>
<line x1="149.2" y1="325.6" x2="149.2" y2="335.6" stroke="#111111" stroke-width="0.80"/>
<line x1="200.9" y1="325.6" x2="200.9" y2="335.6" stroke="#111111" stroke-width="0.80"/>
<path d="M149.2 335.6 L200.9 335.6 L200.9 337.2 Q197 338.6 183 341.3 L168 341.3 Q153 338.6 149.2 337.2 Z" stroke="#111111" stroke-width="1.30" fill="#fff" stroke-linejoin="round" stroke-linecap="round"/>
<rect x="169.6" y="341.3" width="11.8" height="3.1" stroke="#111111" stroke-width="1.00" fill="#fff"/>
<rect x="171.0" y="344.4" width="7.4" height="81.7" stroke="#111111" stroke-width="1.35" fill="#fff"/>
<line x1="152.3" y1="346.6" x2="218.8" y2="346.6" stroke="#111111" stroke-width="0.90"/>
<line x1="149.6" y1="366.5" x2="222.0" y2="366.5" stroke="#111111" stroke-width="0.90"/>
<line x1="140.5" y1="378.5" x2="214.7" y2="378.5" stroke="#111111" stroke-width="0.90"/>
<line x1="144.0" y1="381.1" x2="144.9" y2="379.2" stroke="#333" stroke-width="0.75"/>
<line x1="145.6" y1="381.1" x2="146.5" y2="379.2" stroke="#333" stroke-width="0.75"/>
<line x1="147.2" y1="381.1" x2="148.1" y2="379.2" stroke="#333" stroke-width="0.75"/>
<line x1="148.8" y1="381.1" x2="149.7" y2="379.2" stroke="#333" stroke-width="0.75"/>
<line x1="156.5" y1="381.1" x2="157.4" y2="379.2" stroke="#333" stroke-width="0.75"/>
<line x1="158.1" y1="381.1" x2="159.0" y2="379.2" stroke="#333" stroke-width="0.75"/>
<line x1="159.7" y1="381.1" x2="160.6" y2="379.2" stroke="#333" stroke-width="0.75"/>
<line x1="161.3" y1="381.1" x2="162.2" y2="379.2" stroke="#333" stroke-width="0.75"/>
<line x1="169.0" y1="381.1" x2="169.9" y2="379.2" stroke="#333" stroke-width="0.75"/>
<line x1="170.6" y1="381.1" x2="171.5" y2="379.2" stroke="#333" stroke-width="0.75"/>
<line x1="172.2" y1="381.1" x2="173.1" y2="379.2" stroke="#333" stroke-width="0.75"/>
<line x1="173.8" y1="381.1" x2="174.7" y2="379.2" stroke="#333" stroke-width="0.75"/>
<line x1="181.5" y1="381.1" x2="182.4" y2="379.2" stroke="#333" stroke-width="0.75"/>
<line x1="183.1" y1="381.1" x2="184.0" y2="379.2" stroke="#333" stroke-width="0.75"/>
<line x1="184.7" y1="381.1" x2="185.6" y2="379.2" stroke="#333" stroke-width="0.75"/>
<line x1="186.3" y1="381.1" x2="187.2" y2="379.2" stroke="#333" stroke-width="0.75"/>
<line x1="194.0" y1="381.1" x2="194.9" y2="379.2" stroke="#333" stroke-width="0.75"/>
<line x1="195.6" y1="381.1" x2="196.5" y2="379.2" stroke="#333" stroke-width="0.75"/>
<line x1="197.2" y1="381.1" x2="198.1" y2="379.2" stroke="#333" stroke-width="0.75"/>
<line x1="198.8" y1="381.1" x2="199.7" y2="379.2" stroke="#333" stroke-width="0.75"/>
<line x1="206.5" y1="381.1" x2="207.4" y2="379.2" stroke="#333" stroke-width="0.75"/>
<line x1="208.1" y1="381.1" x2="209.0" y2="379.2" stroke="#333" stroke-width="0.75"/>
<line x1="209.7" y1="381.1" x2="210.6" y2="379.2" stroke="#333" stroke-width="0.75"/>
<line x1="211.3" y1="381.1" x2="212.2" y2="379.2" stroke="#333" stroke-width="0.75"/>
<line x1="141.4" y1="335.0" x2="141.4" y2="426.1" stroke="#111111" stroke-width="0.80"/>
<circle cx="141.4" cy="335.0" r="1.0" stroke="#111111" stroke-width="0.00" fill="#111111"/>
<circle cx="141.4" cy="426.1" r="1.0" stroke="#111111" stroke-width="0.00" fill="#111111"/>
<circle cx="141.4" cy="378.5" r="0.8" stroke="#111111" stroke-width="0.00" fill="#111111"/>
<line x1="141.4" y1="335.0" x2="149.2" y2="335.0" stroke="#111111" stroke-width="0.70"/>
<line x1="141.4" y1="426.1" x2="171.0" y2="426.1" stroke="#111111" stroke-width="0.80"/>
<text transform="translate(136.8 357.0) rotate(-90)" x="-5.0" y="3.2" fill="#111111" stroke="#111111" stroke-width="0.3" style='font-family:"Liberation Sans", sans-serif;font-size:9.45px;font-weight:normal;font-style:italic;' textLength="10.0" lengthAdjust="spacingAndGlyphs">Но</text>
<text transform="translate(136.8 400.5) rotate(-90)" x="-6.0" y="3.2" fill="#111111" stroke="#111111" stroke-width="0.3" style='font-family:"Liberation Sans", sans-serif;font-size:9.45px;font-weight:normal;font-style:italic;' textLength="12.0" lengthAdjust="spacingAndGlyphs">Нф</text>
<text x="208.9" y="345.0" fill="#111111" stroke="#111111" stroke-width="0.30" style='font-family:"Liberation Sans",sans-serif;font-size:6.87px;font-style:italic;' textLength="11.0" lengthAdjust="spacingAndGlyphs">увл</text>
<text x="222.8" y="345.0" fill="#111111" stroke="#111111" stroke-width="0.30" style='font-family:"Liberation Sans",sans-serif;font-size:6.87px;font-style:italic;' textLength="28.4" lengthAdjust="spacingAndGlyphs">(уровень</text>
<text x="226.3" y="349.8" fill="#111111" stroke="#111111" stroke-width="0.30" style='font-family:"Liberation Sans",sans-serif;font-size:5.94px;font-style:italic;' textLength="28.4" lengthAdjust="spacingAndGlyphs">высокого</text>
<text x="224.5" y="354.9" fill="#111111" stroke="#111111" stroke-width="0.30" style='font-family:"Liberation Sans",sans-serif;font-size:6.25px;font-style:italic;' textLength="31.3" lengthAdjust="spacingAndGlyphs">ледохода)</text>
<text x="208.3" y="364.8" fill="#111111" stroke="#111111" stroke-width="0.30" style='font-family:"Liberation Sans",sans-serif;font-size:6.41px;font-style:italic;' textLength="14.5" lengthAdjust="spacingAndGlyphs">уппл</text>
<text x="207.7" y="376.6" fill="#111111" stroke="#111111" stroke-width="0.30" style='font-family:"Liberation Sans",sans-serif;font-size:5.78px;font-style:italic;' textLength="12.2" lengthAdjust="spacingAndGlyphs">умр</text>
<line x1="213.4" y1="316.3" x2="213.4" y2="329.3" stroke="#111111" stroke-width="1.50"/>
<line x1="213.4" y1="318.9" x2="220.8" y2="318.9" stroke="#111111" stroke-width="1.50"/>
<polygon points="220.0,317.6 223.6,318.9 220.0,320.2" stroke="#111111" stroke-width="0.30" fill="#111111" stroke-linejoin="round"/>
<line x1="223.3" y1="318.9" x2="229.9" y2="318.9" stroke="#111111" stroke-width="0.70"/>
<text x="227.8" y="316.0" fill="#111111" stroke="#111111" stroke-width="0.00" style='font-family:"Liberation Sans",sans-serif;font-size:9.30px;font-style:italic;'>I</text>
<line x1="214.0" y1="425.5" x2="214.0" y2="438.5" stroke="#111111" stroke-width="1.50"/>
<line x1="214.0" y1="435.6" x2="221.4" y2="435.6" stroke="#111111" stroke-width="1.50"/>
<polygon points="220.6,434.3 224.2,435.6 220.6,436.9" stroke="#111111" stroke-width="0.30" fill="#111111" stroke-linejoin="round"/>
<line x1="223.9" y1="435.6" x2="230.5" y2="435.6" stroke="#111111" stroke-width="0.70"/>
<text x="229.0" y="444.3" fill="#111111" stroke="#111111" stroke-width="0.00" style='font-family:"Liberation Sans",sans-serif;font-size:9.16px;font-style:italic;'>I</text>
<text x="69.9" y="315.2" fill="#111111" stroke="#111111" stroke-width="0.30" style='font-family:"Liberation Sans",sans-serif;font-size:9.59px;font-style:italic;' textLength="31.8" lengthAdjust="spacingAndGlyphs">Вид I-I</text>
<line x1="68.5" y1="317.5" x2="103.0" y2="317.5" stroke="#111111" stroke-width="1.00"/>
<path d="M71.2 335.5 L88.5 335.5 Q89.7 335.5 89.7 337.6 Q89.7 339.7 88.5 339.7 L71.2 339.7 Z" stroke="#111111" stroke-width="1.10" fill="#fff" stroke-linejoin="round" stroke-linecap="round"/>
<path d="M71.2 339.7 L90.5 339.7 Q92.6 339.7 92.6 341.85 Q92.6 344 90.5 344 L71.2 344 Z" stroke="#111111" stroke-width="1.10" fill="#fff" stroke-linejoin="round" stroke-linecap="round"/>
<line x1="82.5" y1="335.5" x2="82.5" y2="344.0" stroke="#111111" stroke-width="0.90"/>
<rect x="82.5" y="344.0" width="7.0" height="82.0" stroke="#111111" stroke-width="1.35" fill="#fff"/>
<line x1="65.9" y1="346.6" x2="122.2" y2="346.6" stroke="#111111" stroke-width="0.90"/>
<line x1="59.9" y1="366.2" x2="122.2" y2="366.2" stroke="#111111" stroke-width="0.90"/>
<line x1="57.3" y1="379.0" x2="120.9" y2="379.0" stroke="#111111" stroke-width="0.90"/>
<line x1="61.0" y1="381.6" x2="61.9" y2="379.7" stroke="#333" stroke-width="0.75"/>
<line x1="62.6" y1="381.6" x2="63.5" y2="379.7" stroke="#333" stroke-width="0.75"/>
<line x1="64.2" y1="381.6" x2="65.1" y2="379.7" stroke="#333" stroke-width="0.75"/>
<line x1="65.8" y1="381.6" x2="66.7" y2="379.7" stroke="#333" stroke-width="0.75"/>
<line x1="73.5" y1="381.6" x2="74.4" y2="379.7" stroke="#333" stroke-width="0.75"/>
<line x1="75.1" y1="381.6" x2="76.0" y2="379.7" stroke="#333" stroke-width="0.75"/>
<line x1="76.7" y1="381.6" x2="77.6" y2="379.7" stroke="#333" stroke-width="0.75"/>
<line x1="78.3" y1="381.6" x2="79.2" y2="379.7" stroke="#333" stroke-width="0.75"/>
<line x1="86.0" y1="381.6" x2="86.9" y2="379.7" stroke="#333" stroke-width="0.75"/>
<line x1="87.6" y1="381.6" x2="88.5" y2="379.7" stroke="#333" stroke-width="0.75"/>
<line x1="89.2" y1="381.6" x2="90.1" y2="379.7" stroke="#333" stroke-width="0.75"/>
<line x1="90.8" y1="381.6" x2="91.7" y2="379.7" stroke="#333" stroke-width="0.75"/>
<line x1="98.5" y1="381.6" x2="99.4" y2="379.7" stroke="#333" stroke-width="0.75"/>
<line x1="100.1" y1="381.6" x2="101.0" y2="379.7" stroke="#333" stroke-width="0.75"/>
<line x1="101.7" y1="381.6" x2="102.6" y2="379.7" stroke="#333" stroke-width="0.75"/>
<line x1="103.3" y1="381.6" x2="104.2" y2="379.7" stroke="#333" stroke-width="0.75"/>
<line x1="111.0" y1="381.6" x2="111.9" y2="379.7" stroke="#333" stroke-width="0.75"/>
<line x1="112.6" y1="381.6" x2="113.5" y2="379.7" stroke="#333" stroke-width="0.75"/>
<line x1="114.2" y1="381.6" x2="115.1" y2="379.7" stroke="#333" stroke-width="0.75"/>
<line x1="115.8" y1="381.6" x2="116.7" y2="379.7" stroke="#333" stroke-width="0.75"/>
<text x="108.3" y="344.4" fill="#111111" stroke="#111111" stroke-width="0.30" style='font-family:"Liberation Sans",sans-serif;font-size:6.25px;font-style:italic;' textLength="11.2" lengthAdjust="spacingAndGlyphs">увл</text>
<text x="108.3" y="364.9" fill="#111111" stroke="#111111" stroke-width="0.30" style='font-family:"Liberation Sans",sans-serif;font-size:7.19px;font-style:italic;' textLength="10.6" lengthAdjust="spacingAndGlyphs">уппл</text>
<text x="107.6" y="376.2" fill="#111111" stroke="#111111" stroke-width="0.30" style='font-family:"Liberation Sans",sans-serif;font-size:7.34px;font-style:italic;' textLength="12.6" lengthAdjust="spacingAndGlyphs">умр</text>
<line x1="82.0" y1="414.0" x2="105.6" y2="414.0" stroke="#111111" stroke-width="0.80"/>
<text x="96.9" y="413.3" fill="#111111" stroke="#111111" stroke-width="0.30" style='font-family:"Liberation Sans",sans-serif;font-size:6.83px;font-style:italic;' textLength="4.6" lengthAdjust="spacingAndGlyphs">d</text>
<line x1="82.5" y1="352.3" x2="92.0" y2="352.3" stroke="#111111" stroke-width="0.70"/>
<path d="M89.7 352.3 L91 357 L103.6 357" stroke="#111111" stroke-width="0.80" fill="none" stroke-linejoin="round" stroke-linecap="round"/>
<text x="97.0" y="356.3" fill="#111111" stroke="#111111" stroke-width="0.30" style='font-family:"Liberation Sans",sans-serif;font-size:4.53px;font-style:italic;' textLength="4.0" lengthAdjust="spacingAndGlyphs">к</text>
<text transform="translate(58.0 323.2) rotate(-90)" x="-4.0" y="2.0" fill="#111111" stroke="#111111" stroke-width="0.3" style='font-family:"Liberation Sans", sans-serif;font-size:5.81px;font-weight:normal;font-style:italic;' textLength="8.0" lengthAdjust="spacingAndGlyphs">hб</text>
<path d="M62.6 326.5 L63.2 331.8 L71.2 335.5" stroke="#111111" stroke-width="0.80" fill="none" stroke-linejoin="round" stroke-linecap="round"/>
<text transform="translate(58.0 349.6) rotate(-90)" x="-4.7" y="2.0" fill="#111111" stroke="#111111" stroke-width="0.3" style='font-family:"Liberation Sans", sans-serif;font-size:5.81px;font-weight:normal;font-style:italic;' textLength="9.3" lengthAdjust="spacingAndGlyphs">hн</text>
<path d="M62.6 353 L63 344 L71.2 339.7" stroke="#111111" stroke-width="0.80" fill="none" stroke-linejoin="round" stroke-linecap="round"/>
<circle cx="71.2" cy="335.5" r="1.0" stroke="#111111" stroke-width="0.00" fill="#111111"/>
<circle cx="71.2" cy="339.7" r="1.0" stroke="#111111" stroke-width="0.00" fill="#111111"/>
<text transform="translate(306.07 320.45) scale(1.3111 1)" x="0" y="0" fill="#111111" stroke="#111111" stroke-width="0.15" style='font-family:"Liberation Sans";font-size:7.95px;font-style:italic;font-kerning:none'>ℓр</text>
<line x1="285.1" y1="324.1" x2="336.2" y2="324.1" stroke="#111111" stroke-width="0.90"/>
<circle cx="285.1" cy="324.1" r="1.0" stroke="#111111" stroke-width="0.00" fill="#111111"/>
<circle cx="336.2" cy="324.1" r="1.0" stroke="#111111" stroke-width="0.00" fill="#111111"/>
<line x1="285.1" y1="324.1" x2="285.1" y2="334.5" stroke="#111111" stroke-width="0.90"/>
<line x1="336.2" y1="324.1" x2="336.2" y2="334.5" stroke="#111111" stroke-width="0.90"/>
<path d="M285.1 334.5 L336.2 334.5 L336.2 335.3 Q336.2 338.5 332.2 338.5 L289.1 338.5 Q285.1 338.5 285.1 335.3 Z" stroke="#111111" stroke-width="1.30" fill="#fff" stroke-linejoin="round" stroke-linecap="round"/>
<rect x="295.6" y="339.6" width="8.9" height="2.7" stroke="#111111" stroke-width="0.90" fill="#fff"/>
<rect x="315.4" y="339.6" width="9.2" height="2.7" stroke="#111111" stroke-width="0.90" fill="#fff"/>
<rect x="297.0" y="342.3" width="7.0" height="81.9" stroke="#111111" stroke-width="1.35" fill="#fff"/>
<rect x="316.4" y="342.3" width="6.0" height="81.9" stroke="#111111" stroke-width="1.35" fill="#fff"/>
<line x1="278.4" y1="345.0" x2="359.0" y2="345.0" stroke="#111111" stroke-width="0.90"/>
<line x1="276.2" y1="366.0" x2="358.4" y2="366.0" stroke="#111111" stroke-width="0.90"/>
<line x1="273.2" y1="377.7" x2="359.0" y2="377.7" stroke="#111111" stroke-width="0.90"/>
<line x1="276.2" y1="380.3" x2="277.1" y2="378.4" stroke="#333" stroke-width="0.75"/>
<line x1="277.8" y1="380.3" x2="278.7" y2="378.4" stroke="#333" stroke-width="0.75"/>
<line x1="279.4" y1="380.3" x2="280.3" y2="378.4" stroke="#333" stroke-width="0.75"/>
<line x1="281.0" y1="380.3" x2="281.9" y2="378.4" stroke="#333" stroke-width="0.75"/>
<line x1="288.7" y1="380.3" x2="289.6" y2="378.4" stroke="#333" stroke-width="0.75"/>
<line x1="290.3" y1="380.3" x2="291.2" y2="378.4" stroke="#333" stroke-width="0.75"/>
<line x1="291.9" y1="380.3" x2="292.8" y2="378.4" stroke="#333" stroke-width="0.75"/>
<line x1="293.5" y1="380.3" x2="294.4" y2="378.4" stroke="#333" stroke-width="0.75"/>
<line x1="301.2" y1="380.3" x2="302.1" y2="378.4" stroke="#333" stroke-width="0.75"/>
<line x1="302.8" y1="380.3" x2="303.7" y2="378.4" stroke="#333" stroke-width="0.75"/>
<line x1="304.4" y1="380.3" x2="305.3" y2="378.4" stroke="#333" stroke-width="0.75"/>
<line x1="306.0" y1="380.3" x2="306.9" y2="378.4" stroke="#333" stroke-width="0.75"/>
<line x1="313.7" y1="380.3" x2="314.6" y2="378.4" stroke="#333" stroke-width="0.75"/>
<line x1="315.3" y1="380.3" x2="316.2" y2="378.4" stroke="#333" stroke-width="0.75"/>
<line x1="316.9" y1="380.3" x2="317.8" y2="378.4" stroke="#333" stroke-width="0.75"/>
<line x1="318.5" y1="380.3" x2="319.4" y2="378.4" stroke="#333" stroke-width="0.75"/>
<line x1="326.2" y1="380.3" x2="327.1" y2="378.4" stroke="#333" stroke-width="0.75"/>
<line x1="327.8" y1="380.3" x2="328.7" y2="378.4" stroke="#333" stroke-width="0.75"/>
<line x1="329.4" y1="380.3" x2="330.3" y2="378.4" stroke="#333" stroke-width="0.75"/>
<line x1="331.0" y1="380.3" x2="331.9" y2="378.4" stroke="#333" stroke-width="0.75"/>
<line x1="338.7" y1="380.3" x2="339.6" y2="378.4" stroke="#333" stroke-width="0.75"/>
<line x1="340.3" y1="380.3" x2="341.2" y2="378.4" stroke="#333" stroke-width="0.75"/>
<line x1="341.9" y1="380.3" x2="342.8" y2="378.4" stroke="#333" stroke-width="0.75"/>
<line x1="343.5" y1="380.3" x2="344.4" y2="378.4" stroke="#333" stroke-width="0.75"/>
<line x1="351.2" y1="380.3" x2="352.1" y2="378.4" stroke="#333" stroke-width="0.75"/>
<line x1="352.8" y1="380.3" x2="353.7" y2="378.4" stroke="#333" stroke-width="0.75"/>
<line x1="354.4" y1="380.3" x2="355.3" y2="378.4" stroke="#333" stroke-width="0.75"/>
<line x1="356.0" y1="380.3" x2="356.9" y2="378.4" stroke="#333" stroke-width="0.75"/>
<line x1="273.9" y1="334.8" x2="273.9" y2="424.2" stroke="#111111" stroke-width="0.80"/>
<circle cx="273.9" cy="334.8" r="1.0" stroke="#111111" stroke-width="0.00" fill="#111111"/>
<circle cx="273.9" cy="424.2" r="1.0" stroke="#111111" stroke-width="0.00" fill="#111111"/>
<circle cx="273.9" cy="377.7" r="0.8" stroke="#111111" stroke-width="0.00" fill="#111111"/>
<line x1="273.9" y1="334.8" x2="285.1" y2="334.8" stroke="#111111" stroke-width="0.80"/>
<line x1="273.9" y1="424.2" x2="297.0" y2="424.2" stroke="#111111" stroke-width="0.80"/>
<text transform="translate(270.5 356.4) rotate(-90)" x="-5.0" y="3.2" fill="#111111" stroke="#111111" stroke-width="0.3" style='font-family:"Liberation Sans", sans-serif;font-size:9.45px;font-weight:normal;font-style:italic;' textLength="10.0" lengthAdjust="spacingAndGlyphs">Но</text>
<text transform="translate(270.3 399.0) rotate(-90)" x="-6.0" y="3.2" fill="#111111" stroke="#111111" stroke-width="0.3" style='font-family:"Liberation Sans", sans-serif;font-size:9.45px;font-weight:normal;font-style:italic;' textLength="12.0" lengthAdjust="spacingAndGlyphs">Нф</text>
<text x="345.1" y="343.3" fill="#111111" stroke="#111111" stroke-width="0.30" style='font-family:"Liberation Sans",sans-serif;font-size:7.19px;font-style:italic;' textLength="12.7" lengthAdjust="spacingAndGlyphs">увл</text>
<text x="342.2" y="364.2" fill="#111111" stroke="#111111" stroke-width="0.30" style='font-family:"Liberation Sans",sans-serif;font-size:7.50px;font-style:italic;' textLength="17.3" lengthAdjust="spacingAndGlyphs">уппл</text>
<text x="343.9" y="374.6" fill="#111111" stroke="#111111" stroke-width="0.30" style='font-family:"Liberation Sans",sans-serif;font-size:7.19px;font-style:italic;' textLength="14.5" lengthAdjust="spacingAndGlyphs">умр</text>
<line x1="369.9" y1="315.3" x2="369.9" y2="328.7" stroke="#111111" stroke-width="1.50"/>
<line x1="369.9" y1="317.7" x2="377.0" y2="317.7" stroke="#111111" stroke-width="1.50"/>
<polygon points="376.2,316.4 379.6,317.7 376.2,319.0" stroke="#111111" stroke-width="0.30" fill="#111111" stroke-linejoin="round"/>
<line x1="379.3" y1="317.7" x2="385.6" y2="317.7" stroke="#111111" stroke-width="0.70"/>
<text x="383.4" y="314.4" fill="#111111" stroke="#111111" stroke-width="0.00" style='font-family:"Liberation Sans",sans-serif;font-size:9.01px;font-style:italic;'>I</text>
<line x1="370.7" y1="423.8" x2="370.7" y2="438.6" stroke="#111111" stroke-width="1.50"/>
<line x1="370.7" y1="435.4" x2="377.5" y2="435.4" stroke="#111111" stroke-width="1.50"/>
<polygon points="376.7,434.1 380.1,435.4 376.7,436.7" stroke="#111111" stroke-width="0.30" fill="#111111" stroke-linejoin="round"/>
<line x1="379.8" y1="435.4" x2="385.8" y2="435.4" stroke="#111111" stroke-width="0.70"/>
<text x="383.3" y="445.2" fill="#111111" stroke="#111111" stroke-width="0.00" style='font-family:"Liberation Sans",sans-serif;font-size:10.03px;font-style:italic;'>I</text>
<text transform="translate(466.37 318.58) scale(1.5910 1)" x="0" y="0" fill="#111111" stroke="#111111" stroke-width="0.15" style='font-family:"Liberation Sans";font-size:6.85px;font-style:italic;font-kerning:none'>ℓр</text>
<line x1="438.8" y1="320.5" x2="498.8" y2="320.5" stroke="#111111" stroke-width="0.90"/>
<circle cx="438.8" cy="320.5" r="1.0" stroke="#111111" stroke-width="0.00" fill="#111111"/>
<circle cx="498.8" cy="320.5" r="1.0" stroke="#111111" stroke-width="0.00" fill="#111111"/>
<line x1="438.8" y1="320.5" x2="438.8" y2="334.2" stroke="#111111" stroke-width="0.90"/>
<line x1="498.8" y1="320.5" x2="498.8" y2="334.2" stroke="#111111" stroke-width="0.90"/>
<path d="M438.8 334.2 L498.8 334.2 L498.8 335.0 Q498.8 338.7 494.8 338.7 L442.8 338.7 Q438.8 338.7 438.8 335.0 Z" stroke="#111111" stroke-width="1.30" fill="#fff" stroke-linejoin="round" stroke-linecap="round"/>
<rect x="443.8" y="339.0" width="9.0" height="2.6" stroke="#111111" stroke-width="0.90" fill="#fff"/>
<rect x="463.3" y="339.0" width="9.7" height="2.6" stroke="#111111" stroke-width="0.90" fill="#fff"/>
<rect x="484.1" y="339.0" width="9.8" height="2.6" stroke="#111111" stroke-width="0.90" fill="#fff"/>
<rect x="445.2" y="341.6" width="6.6" height="83.2" stroke="#111111" stroke-width="1.35" fill="#fff"/>
<rect x="464.7" y="341.6" width="6.9" height="83.2" stroke="#111111" stroke-width="1.35" fill="#fff"/>
<rect x="485.5" y="341.6" width="7.0" height="83.2" stroke="#111111" stroke-width="1.35" fill="#fff"/>
<line x1="428.9" y1="344.8" x2="525.3" y2="344.8" stroke="#111111" stroke-width="0.90"/>
<line x1="428.9" y1="365.3" x2="525.9" y2="365.3" stroke="#111111" stroke-width="0.90"/>
<line x1="423.0" y1="377.5" x2="528.2" y2="377.5" stroke="#111111" stroke-width="0.90"/>
<line x1="426.0" y1="380.1" x2="426.9" y2="378.2" stroke="#333" stroke-width="0.75"/>
<line x1="427.6" y1="380.1" x2="428.5" y2="378.2" stroke="#333" stroke-width="0.75"/>
<line x1="429.2" y1="380.1" x2="430.1" y2="378.2" stroke="#333" stroke-width="0.75"/>
<line x1="430.8" y1="380.1" x2="431.7" y2="378.2" stroke="#333" stroke-width="0.75"/>
<line x1="438.5" y1="380.1" x2="439.4" y2="378.2" stroke="#333" stroke-width="0.75"/>
<line x1="440.1" y1="380.1" x2="441.0" y2="378.2" stroke="#333" stroke-width="0.75"/>
<line x1="441.7" y1="380.1" x2="442.6" y2="378.2" stroke="#333" stroke-width="0.75"/>
<line x1="443.3" y1="380.1" x2="444.2" y2="378.2" stroke="#333" stroke-width="0.75"/>
<line x1="451.0" y1="380.1" x2="451.9" y2="378.2" stroke="#333" stroke-width="0.75"/>
<line x1="452.6" y1="380.1" x2="453.5" y2="378.2" stroke="#333" stroke-width="0.75"/>
<line x1="454.2" y1="380.1" x2="455.1" y2="378.2" stroke="#333" stroke-width="0.75"/>
<line x1="455.8" y1="380.1" x2="456.7" y2="378.2" stroke="#333" stroke-width="0.75"/>
<line x1="463.5" y1="380.1" x2="464.4" y2="378.2" stroke="#333" stroke-width="0.75"/>
<line x1="465.1" y1="380.1" x2="466.0" y2="378.2" stroke="#333" stroke-width="0.75"/>
<line x1="466.7" y1="380.1" x2="467.6" y2="378.2" stroke="#333" stroke-width="0.75"/>
<line x1="468.3" y1="380.1" x2="469.2" y2="378.2" stroke="#333" stroke-width="0.75"/>
<line x1="476.0" y1="380.1" x2="476.9" y2="378.2" stroke="#333" stroke-width="0.75"/>
<line x1="477.6" y1="380.1" x2="478.5" y2="378.2" stroke="#333" stroke-width="0.75"/>
<line x1="479.2" y1="380.1" x2="480.1" y2="378.2" stroke="#333" stroke-width="0.75"/>
<line x1="480.8" y1="380.1" x2="481.7" y2="378.2" stroke="#333" stroke-width="0.75"/>
<line x1="488.5" y1="380.1" x2="489.4" y2="378.2" stroke="#333" stroke-width="0.75"/>
<line x1="490.1" y1="380.1" x2="491.0" y2="378.2" stroke="#333" stroke-width="0.75"/>
<line x1="491.7" y1="380.1" x2="492.6" y2="378.2" stroke="#333" stroke-width="0.75"/>
<line x1="493.3" y1="380.1" x2="494.2" y2="378.2" stroke="#333" stroke-width="0.75"/>
<line x1="501.0" y1="380.1" x2="501.9" y2="378.2" stroke="#333" stroke-width="0.75"/>
<line x1="502.6" y1="380.1" x2="503.5" y2="378.2" stroke="#333" stroke-width="0.75"/>
<line x1="504.2" y1="380.1" x2="505.1" y2="378.2" stroke="#333" stroke-width="0.75"/>
<line x1="505.8" y1="380.1" x2="506.7" y2="378.2" stroke="#333" stroke-width="0.75"/>
<line x1="513.5" y1="380.1" x2="514.4" y2="378.2" stroke="#333" stroke-width="0.75"/>
<line x1="515.1" y1="380.1" x2="516.0" y2="378.2" stroke="#333" stroke-width="0.75"/>
<line x1="516.7" y1="380.1" x2="517.6" y2="378.2" stroke="#333" stroke-width="0.75"/>
<line x1="518.3" y1="380.1" x2="519.2" y2="378.2" stroke="#333" stroke-width="0.75"/>
<line x1="422.7" y1="334.0" x2="422.7" y2="424.8" stroke="#111111" stroke-width="0.80"/>
<circle cx="422.7" cy="334.0" r="1.0" stroke="#111111" stroke-width="0.00" fill="#111111"/>
<circle cx="422.7" cy="424.8" r="1.0" stroke="#111111" stroke-width="0.00" fill="#111111"/>
<circle cx="422.7" cy="377.3" r="0.8" stroke="#111111" stroke-width="0.00" fill="#111111"/>
<line x1="422.7" y1="334.0" x2="438.8" y2="334.0" stroke="#111111" stroke-width="0.80"/>
<line x1="422.7" y1="424.8" x2="445.2" y2="424.8" stroke="#111111" stroke-width="0.80"/>
<text transform="translate(418.0 357.0) rotate(-90)" x="-5.0" y="3.2" fill="#111111" stroke="#111111" stroke-width="0.3" style='font-family:"Liberation Sans", sans-serif;font-size:9.45px;font-weight:normal;font-style:italic;' textLength="10.0" lengthAdjust="spacingAndGlyphs">Но</text>
<text transform="translate(417.5 402.3) rotate(-90)" x="-6.0" y="3.2" fill="#111111" stroke="#111111" stroke-width="0.3" style='font-family:"Liberation Sans", sans-serif;font-size:9.45px;font-weight:normal;font-style:italic;' textLength="12.0" lengthAdjust="spacingAndGlyphs">Нф</text>
<text x="511.4" y="343.9" fill="#111111" stroke="#111111" stroke-width="0.30" style='font-family:"Liberation Sans",sans-serif;font-size:7.19px;font-style:italic;' textLength="13.4" lengthAdjust="spacingAndGlyphs">увл</text>
<text x="510.9" y="364.2" fill="#111111" stroke="#111111" stroke-width="0.30" style='font-family:"Liberation Sans",sans-serif;font-size:7.34px;font-style:italic;' textLength="17.3" lengthAdjust="spacingAndGlyphs">уппл</text>
<text x="512.6" y="375.8" fill="#111111" stroke="#111111" stroke-width="0.30" style='font-family:"Liberation Sans",sans-serif;font-size:7.34px;font-style:italic;' textLength="14.5" lengthAdjust="spacingAndGlyphs">умр</text>
<line x1="527.2" y1="312.5" x2="527.2" y2="326.1" stroke="#111111" stroke-width="1.50"/>
<line x1="527.2" y1="315.0" x2="534.8" y2="315.0" stroke="#111111" stroke-width="1.50"/>
<polygon points="533.9,313.7 537.6,315.0 533.9,316.3" stroke="#111111" stroke-width="0.30" fill="#111111" stroke-linejoin="round"/>
<line x1="537.3" y1="315.0" x2="544.0" y2="315.0" stroke="#111111" stroke-width="0.70"/>
<text x="543.6" y="312.0" fill="#111111" stroke="#111111" stroke-width="0.00" style='font-family:"Liberation Sans",sans-serif;font-size:10.76px;font-style:italic;'>I</text>
<line x1="528.4" y1="422.0" x2="528.4" y2="436.4" stroke="#111111" stroke-width="1.50"/>
<line x1="528.4" y1="433.8" x2="536.6" y2="433.8" stroke="#111111" stroke-width="1.50"/>
<polygon points="535.7,432.5 539.7,433.8 535.7,435.1" stroke="#111111" stroke-width="0.30" fill="#111111" stroke-linejoin="round"/>
<line x1="539.4" y1="433.8" x2="546.7" y2="433.8" stroke="#111111" stroke-width="0.70"/>
<text x="542.8" y="443.4" fill="#111111" stroke="#111111" stroke-width="0.00" style='font-family:"Liberation Sans",sans-serif;font-size:9.30px;font-style:italic;'>I</text>
<text x="73.5" y="517.1" fill="#111111" stroke="#111111" stroke-width="0.30" style='font-family:"Liberation Sans",sans-serif;font-size:9.30px;font-style:italic;' textLength="32.1" lengthAdjust="spacingAndGlyphs">Вид 2-2</text>
<line x1="70.0" y1="519.3" x2="108.5" y2="519.3" stroke="#111111" stroke-width="1.00"/>
<path d="M67.8 537.1 L87 537.1 Q88.2 537.1 88.2 538.85 Q88.2 540.6 87 540.6 L67.8 540.6 Z" stroke="#111111" stroke-width="1.10" fill="#fff" stroke-linejoin="round" stroke-linecap="round"/>
<path d="M67.8 540.6 L88 540.6 Q89.9 540.6 89.9 542.2 Q89.9 543.8 88 543.8 L67.8 543.8 Z" stroke="#111111" stroke-width="1.10" fill="#fff" stroke-linejoin="round" stroke-linecap="round"/>
<line x1="82.1" y1="537.1" x2="82.1" y2="543.8" stroke="#111111" stroke-width="0.90"/>
<rect x="82.5" y="543.8" width="6.7" height="82.4" stroke="#111111" stroke-width="1.35" fill="#fff"/>
<line x1="69.2" y1="546.6" x2="115.6" y2="546.6" stroke="#111111" stroke-width="0.90"/>
<line x1="70.0" y1="568.6" x2="115.0" y2="568.6" stroke="#111111" stroke-width="0.90"/>
<line x1="67.8" y1="587.4" x2="117.0" y2="587.4" stroke="#111111" stroke-width="0.90"/>
<line x1="71.0" y1="590.0" x2="71.9" y2="588.1" stroke="#333" stroke-width="0.75"/>
<line x1="72.6" y1="590.0" x2="73.5" y2="588.1" stroke="#333" stroke-width="0.75"/>
<line x1="74.2" y1="590.0" x2="75.1" y2="588.1" stroke="#333" stroke-width="0.75"/>
<line x1="75.8" y1="590.0" x2="76.7" y2="588.1" stroke="#333" stroke-width="0.75"/>
<line x1="83.5" y1="590.0" x2="84.4" y2="588.1" stroke="#333" stroke-width="0.75"/>
<line x1="85.1" y1="590.0" x2="86.0" y2="588.1" stroke="#333" stroke-width="0.75"/>
<line x1="86.7" y1="590.0" x2="87.6" y2="588.1" stroke="#333" stroke-width="0.75"/>
<line x1="88.3" y1="590.0" x2="89.2" y2="588.1" stroke="#333" stroke-width="0.75"/>
<line x1="96.0" y1="590.0" x2="96.9" y2="588.1" stroke="#333" stroke-width="0.75"/>
<line x1="97.6" y1="590.0" x2="98.5" y2="588.1" stroke="#333" stroke-width="0.75"/>
<line x1="99.2" y1="590.0" x2="100.1" y2="588.1" stroke="#333" stroke-width="0.75"/>
<line x1="100.8" y1="590.0" x2="101.7" y2="588.1" stroke="#333" stroke-width="0.75"/>
<line x1="108.5" y1="590.0" x2="109.4" y2="588.1" stroke="#333" stroke-width="0.75"/>
<line x1="110.1" y1="590.0" x2="111.0" y2="588.1" stroke="#333" stroke-width="0.75"/>
<line x1="111.7" y1="590.0" x2="112.6" y2="588.1" stroke="#333" stroke-width="0.75"/>
<line x1="113.3" y1="590.0" x2="114.2" y2="588.1" stroke="#333" stroke-width="0.75"/>
<text x="102.0" y="544.9" fill="#111111" stroke="#111111" stroke-width="0.30" style='font-family:"Liberation Sans",sans-serif;font-size:6.72px;font-style:italic;' textLength="11.5" lengthAdjust="spacingAndGlyphs">увл</text>
<text x="101.3" y="564.4" fill="#111111" stroke="#111111" stroke-width="0.30" style='font-family:"Liberation Sans",sans-serif;font-size:6.87px;font-style:italic;' textLength="12.2" lengthAdjust="spacingAndGlyphs">уппл</text>
<text x="103.5" y="585.0" fill="#111111" stroke="#111111" stroke-width="0.30" style='font-family:"Liberation Sans",sans-serif;font-size:5.78px;font-style:italic;' textLength="13.5" lengthAdjust="spacingAndGlyphs">умр</text>
<line x1="82.0" y1="612.2" x2="102.8" y2="612.2" stroke="#111111" stroke-width="0.80"/>
<text x="95.6" y="610.5" fill="#111111" stroke="#111111" stroke-width="0.30" style='font-family:"Liberation Sans",sans-serif;font-size:7.27px;font-style:italic;' textLength="3.6" lengthAdjust="spacingAndGlyphs">d</text>
<line x1="82.1" y1="553.5" x2="90.5" y2="553.5" stroke="#111111" stroke-width="0.70"/>
<path d="M90 553.5 L92 558 L102 558" stroke="#111111" stroke-width="0.80" fill="none" stroke-linejoin="round" stroke-linecap="round"/>
<text x="92.8" y="557.0" fill="#111111" stroke="#111111" stroke-width="0.30" style='font-family:"Liberation Sans",sans-serif;font-size:4.37px;font-style:italic;' textLength="4.2" lengthAdjust="spacingAndGlyphs">к</text>
<text transform="translate(58.2 526.4) rotate(-90)" x="-5.0" y="2.1" fill="#111111" stroke="#111111" stroke-width="0.3" style='font-family:"Liberation Sans", sans-serif;font-size:6.10px;font-weight:normal;font-style:italic;' textLength="10.0" lengthAdjust="spacingAndGlyphs">hб</text>
<path d="M60.7 530 Q62 535.5 67.8 537.1" stroke="#111111" stroke-width="0.80" fill="none" stroke-linejoin="round" stroke-linecap="round"/>
<text transform="translate(58.2 553.1) rotate(-90)" x="-5.3" y="2.1" fill="#111111" stroke="#111111" stroke-width="0.3" style='font-family:"Liberation Sans", sans-serif;font-size:6.10px;font-weight:normal;font-style:italic;' textLength="10.7" lengthAdjust="spacingAndGlyphs">hн</text>
<path d="M61 548 Q62 542 67.8 540.6" stroke="#111111" stroke-width="0.80" fill="none" stroke-linejoin="round" stroke-linecap="round"/>
<circle cx="67.8" cy="537.1" r="1.0" stroke="#111111" stroke-width="0.00" fill="#111111"/>
<circle cx="67.8" cy="540.6" r="1.0" stroke="#111111" stroke-width="0.00" fill="#111111"/>
<text transform="translate(168.47 519.86) scale(1.5356 1)" x="0" y="0" fill="#111111" stroke="#111111" stroke-width="0.15" style='font-family:"Liberation Sans";font-size:7.40px;font-style:italic;font-kerning:none'>ℓр</text>
<line x1="142.1" y1="522.6" x2="202.7" y2="522.6" stroke="#111111" stroke-width="0.90"/>
<circle cx="142.1" cy="522.6" r="1.0" stroke="#111111" stroke-width="0.00" fill="#111111"/>
<circle cx="202.7" cy="522.6" r="1.0" stroke="#111111" stroke-width="0.00" fill="#111111"/>
<line x1="142.1" y1="522.6" x2="142.1" y2="536.6" stroke="#111111" stroke-width="0.90"/>
<line x1="202.7" y1="522.6" x2="202.7" y2="536.6" stroke="#111111" stroke-width="0.90"/>
<path d="M142.1 536.6 L202.7 536.6 L202.7 537.4 Q202.7 540.8 198.7 540.8 L146.1 540.8 Q142.1 540.8 142.1 537.4 Z" stroke="#111111" stroke-width="1.30" fill="#fff" stroke-linejoin="round" stroke-linecap="round"/>
<rect x="148.3" y="540.8" width="8.2" height="2.6" stroke="#111111" stroke-width="0.90" fill="#fff"/>
<rect x="168.4" y="540.8" width="8.2" height="2.6" stroke="#111111" stroke-width="0.90" fill="#fff"/>
<rect x="189.3" y="540.8" width="7.4" height="2.6" stroke="#111111" stroke-width="0.90" fill="#fff"/>
<rect x="149.8" y="543.4" width="5.7" height="81.6" stroke="#111111" stroke-width="1.35" fill="#fff"/>
<rect x="169.9" y="543.4" width="6.0" height="81.6" stroke="#111111" stroke-width="1.35" fill="#fff"/>
<rect x="190.8" y="543.4" width="5.5" height="81.6" stroke="#111111" stroke-width="1.35" fill="#fff"/>
<line x1="136.4" y1="545.3" x2="221.9" y2="545.3" stroke="#111111" stroke-width="0.90"/>
<line x1="137.1" y1="567.8" x2="220.1" y2="567.8" stroke="#111111" stroke-width="0.90"/>
<line x1="129.7" y1="586.6" x2="218.4" y2="586.6" stroke="#111111" stroke-width="0.90"/>
<line x1="132.7" y1="589.2" x2="133.6" y2="587.3" stroke="#333" stroke-width="0.75"/>
<line x1="134.3" y1="589.2" x2="135.2" y2="587.3" stroke="#333" stroke-width="0.75"/>
<line x1="135.9" y1="589.2" x2="136.8" y2="587.3" stroke="#333" stroke-width="0.75"/>
<line x1="137.5" y1="589.2" x2="138.4" y2="587.3" stroke="#333" stroke-width="0.75"/>
<line x1="145.2" y1="589.2" x2="146.1" y2="587.3" stroke="#333" stroke-width="0.75"/>
<line x1="146.8" y1="589.2" x2="147.7" y2="587.3" stroke="#333" stroke-width="0.75"/>
<line x1="148.4" y1="589.2" x2="149.3" y2="587.3" stroke="#333" stroke-width="0.75"/>
<line x1="150.0" y1="589.2" x2="150.9" y2="587.3" stroke="#333" stroke-width="0.75"/>
<line x1="157.7" y1="589.2" x2="158.6" y2="587.3" stroke="#333" stroke-width="0.75"/>
<line x1="159.3" y1="589.2" x2="160.2" y2="587.3" stroke="#333" stroke-width="0.75"/>
<line x1="160.9" y1="589.2" x2="161.8" y2="587.3" stroke="#333" stroke-width="0.75"/>
<line x1="162.5" y1="589.2" x2="163.4" y2="587.3" stroke="#333" stroke-width="0.75"/>
<line x1="170.2" y1="589.2" x2="171.1" y2="587.3" stroke="#333" stroke-width="0.75"/>
<line x1="171.8" y1="589.2" x2="172.7" y2="587.3" stroke="#333" stroke-width="0.75"/>
<line x1="173.4" y1="589.2" x2="174.3" y2="587.3" stroke="#333" stroke-width="0.75"/>
<line x1="175.0" y1="589.2" x2="175.9" y2="587.3" stroke="#333" stroke-width="0.75"/>
<line x1="182.7" y1="589.2" x2="183.6" y2="587.3" stroke="#333" stroke-width="0.75"/>
<line x1="184.3" y1="589.2" x2="185.2" y2="587.3" stroke="#333" stroke-width="0.75"/>
<line x1="185.9" y1="589.2" x2="186.8" y2="587.3" stroke="#333" stroke-width="0.75"/>
<line x1="187.5" y1="589.2" x2="188.4" y2="587.3" stroke="#333" stroke-width="0.75"/>
<line x1="195.2" y1="589.2" x2="196.1" y2="587.3" stroke="#333" stroke-width="0.75"/>
<line x1="196.8" y1="589.2" x2="197.7" y2="587.3" stroke="#333" stroke-width="0.75"/>
<line x1="198.4" y1="589.2" x2="199.3" y2="587.3" stroke="#333" stroke-width="0.75"/>
<line x1="200.0" y1="589.2" x2="200.9" y2="587.3" stroke="#333" stroke-width="0.75"/>
<line x1="207.7" y1="589.2" x2="208.6" y2="587.3" stroke="#333" stroke-width="0.75"/>
<line x1="209.3" y1="589.2" x2="210.2" y2="587.3" stroke="#333" stroke-width="0.75"/>
<line x1="210.9" y1="589.2" x2="211.8" y2="587.3" stroke="#333" stroke-width="0.75"/>
<line x1="212.5" y1="589.2" x2="213.4" y2="587.3" stroke="#333" stroke-width="0.75"/>
<line x1="131.2" y1="536.6" x2="131.2" y2="625.0" stroke="#111111" stroke-width="0.80"/>
<circle cx="131.2" cy="536.6" r="1.0" stroke="#111111" stroke-width="0.00" fill="#111111"/>
<circle cx="131.2" cy="625.0" r="1.0" stroke="#111111" stroke-width="0.00" fill="#111111"/>
<circle cx="131.2" cy="586.6" r="0.8" stroke="#111111" stroke-width="0.00" fill="#111111"/>
<line x1="131.2" y1="536.6" x2="142.1" y2="536.6" stroke="#111111" stroke-width="0.80"/>
<line x1="131.2" y1="625.0" x2="149.8" y2="625.0" stroke="#111111" stroke-width="0.80"/>
<text transform="translate(127.0 561.0) rotate(-90)" x="-5.0" y="3.2" fill="#111111" stroke="#111111" stroke-width="0.3" style='font-family:"Liberation Sans", sans-serif;font-size:9.45px;font-weight:normal;font-style:italic;' textLength="10.0" lengthAdjust="spacingAndGlyphs">Но</text>
<text transform="translate(127.0 602.6) rotate(-90)" x="-6.0" y="3.2" fill="#111111" stroke="#111111" stroke-width="0.3" style='font-family:"Liberation Sans", sans-serif;font-size:9.45px;font-weight:normal;font-style:italic;' textLength="12.0" lengthAdjust="spacingAndGlyphs">Нф</text>
<text x="210.3" y="543.9" fill="#111111" stroke="#111111" stroke-width="0.30" style='font-family:"Liberation Sans",sans-serif;font-size:7.19px;font-style:italic;' textLength="11.0" lengthAdjust="spacingAndGlyphs">увл</text>
<text x="205.1" y="565.9" fill="#111111" stroke="#111111" stroke-width="0.30" style='font-family:"Liberation Sans",sans-serif;font-size:7.19px;font-style:italic;' textLength="14.4" lengthAdjust="spacingAndGlyphs">уппл</text>
<text x="221.6" y="566.0" fill="#111111" stroke="#111111" stroke-width="0.30" style='font-family:"Liberation Sans",sans-serif;font-size:7.19px;font-style:italic;' textLength="29.6" lengthAdjust="spacingAndGlyphs">(уровень</text>
<text x="226.0" y="571.6" fill="#111111" stroke="#111111" stroke-width="0.30" style='font-family:"Liberation Sans",sans-serif;font-size:5.31px;font-style:italic;' textLength="22.6" lengthAdjust="spacingAndGlyphs">первой</text>
<text x="222.5" y="577.0" fill="#111111" stroke="#111111" stroke-width="0.30" style='font-family:"Liberation Sans",sans-serif;font-size:6.25px;font-style:italic;' textLength="45.2" lengthAdjust="spacingAndGlyphs">подвижки льда)</text>
<text x="206.2" y="584.5" fill="#111111" stroke="#111111" stroke-width="0.30" style='font-family:"Liberation Sans",sans-serif;font-size:6.41px;font-style:italic;' textLength="12.8" lengthAdjust="spacingAndGlyphs">умр</text>
<line x1="216.7" y1="520.3" x2="216.7" y2="533.6" stroke="#111111" stroke-width="1.50"/>
<line x1="216.7" y1="522.0" x2="225.1" y2="522.0" stroke="#111111" stroke-width="1.50"/>
<polygon points="224.1,520.7 228.2,522.0 224.1,523.3" stroke="#111111" stroke-width="0.30" fill="#111111" stroke-linejoin="round"/>
<line x1="227.9" y1="522.0" x2="235.3" y2="522.0" stroke="#111111" stroke-width="0.70"/>
<text x="232.4" y="519.1" fill="#111111" stroke="#111111" stroke-width="0.00" style='font-family:"Liberation Sans",sans-serif;font-size:8.43px;font-style:italic;' textLength="4.0" lengthAdjust="spacingAndGlyphs">2</text>
<line x1="217.7" y1="625.8" x2="217.7" y2="640.7" stroke="#111111" stroke-width="1.50"/>
<line x1="217.7" y1="637.0" x2="224.9" y2="637.0" stroke="#111111" stroke-width="1.50"/>
<polygon points="224.1,635.7 227.7,637.0 224.1,638.3" stroke="#111111" stroke-width="0.30" fill="#111111" stroke-linejoin="round"/>
<line x1="227.4" y1="637.0" x2="233.8" y2="637.0" stroke="#111111" stroke-width="0.70"/>
<text x="230.8" y="644.7" fill="#111111" stroke="#111111" stroke-width="0.00" style='font-family:"Liberation Sans",sans-serif;font-size:7.99px;font-style:italic;' textLength="4.0" lengthAdjust="spacingAndGlyphs">2</text>
<text transform="translate(309.28 518.74) scale(1.3618 1)" x="0" y="0" fill="#111111" stroke="#111111" stroke-width="0.15" style='font-family:"Liberation Sans";font-size:8.95px;font-style:italic;font-kerning:none'>ℓр</text>
<line x1="286.1" y1="521.4" x2="337.5" y2="521.4" stroke="#111111" stroke-width="0.90"/>
<circle cx="286.1" cy="521.4" r="1.0" stroke="#111111" stroke-width="0.00" fill="#111111"/>
<circle cx="337.5" cy="521.4" r="1.0" stroke="#111111" stroke-width="0.00" fill="#111111"/>
<line x1="286.1" y1="521.4" x2="286.1" y2="534.8" stroke="#111111" stroke-width="0.90"/>
<line x1="337.5" y1="521.4" x2="337.5" y2="534.8" stroke="#111111" stroke-width="0.90"/>
<path d="M286.1 534.8 L337.5 534.8 L337.5 535.6 Q337.5 538.1 333.5 538.1 L290.1 538.1 Q286.1 538.1 286.1 535.6 Z" stroke="#111111" stroke-width="1.30" fill="#fff" stroke-linejoin="round" stroke-linecap="round"/>
<rect x="297.3" y="539.6" width="8.9" height="2.7" stroke="#111111" stroke-width="0.90" fill="#fff"/>
<rect x="318.1" y="539.6" width="7.5" height="2.7" stroke="#111111" stroke-width="0.90" fill="#fff"/>
<rect x="298.7" y="542.3" width="6.0" height="81.9" stroke="#111111" stroke-width="1.35" fill="#fff"/>
<rect x="319.6" y="542.3" width="5.7" height="81.9" stroke="#111111" stroke-width="1.35" fill="#fff"/>
<line x1="283.8" y1="544.3" x2="356.2" y2="544.3" stroke="#111111" stroke-width="0.90"/>
<line x1="283.8" y1="566.2" x2="365.8" y2="566.2" stroke="#111111" stroke-width="0.90"/>
<line x1="271.2" y1="585.0" x2="353.8" y2="585.0" stroke="#111111" stroke-width="0.90"/>
<line x1="274.2" y1="587.6" x2="275.1" y2="585.7" stroke="#333" stroke-width="0.75"/>
<line x1="275.8" y1="587.6" x2="276.7" y2="585.7" stroke="#333" stroke-width="0.75"/>
<line x1="277.4" y1="587.6" x2="278.3" y2="585.7" stroke="#333" stroke-width="0.75"/>
<line x1="279.0" y1="587.6" x2="279.9" y2="585.7" stroke="#333" stroke-width="0.75"/>
<line x1="286.7" y1="587.6" x2="287.6" y2="585.7" stroke="#333" stroke-width="0.75"/>
<line x1="288.3" y1="587.6" x2="289.2" y2="585.7" stroke="#333" stroke-width="0.75"/>
<line x1="289.9" y1="587.6" x2="290.8" y2="585.7" stroke="#333" stroke-width="0.75"/>
<line x1="291.5" y1="587.6" x2="292.4" y2="585.7" stroke="#333" stroke-width="0.75"/>
<line x1="299.2" y1="587.6" x2="300.1" y2="585.7" stroke="#333" stroke-width="0.75"/>
<line x1="300.8" y1="587.6" x2="301.7" y2="585.7" stroke="#333" stroke-width="0.75"/>
<line x1="302.4" y1="587.6" x2="303.3" y2="585.7" stroke="#333" stroke-width="0.75"/>
<line x1="304.0" y1="587.6" x2="304.9" y2="585.7" stroke="#333" stroke-width="0.75"/>
<line x1="311.7" y1="587.6" x2="312.6" y2="585.7" stroke="#333" stroke-width="0.75"/>
<line x1="313.3" y1="587.6" x2="314.2" y2="585.7" stroke="#333" stroke-width="0.75"/>
<line x1="314.9" y1="587.6" x2="315.8" y2="585.7" stroke="#333" stroke-width="0.75"/>
<line x1="316.5" y1="587.6" x2="317.4" y2="585.7" stroke="#333" stroke-width="0.75"/>
<line x1="324.2" y1="587.6" x2="325.1" y2="585.7" stroke="#333" stroke-width="0.75"/>
<line x1="325.8" y1="587.6" x2="326.7" y2="585.7" stroke="#333" stroke-width="0.75"/>
<line x1="327.4" y1="587.6" x2="328.3" y2="585.7" stroke="#333" stroke-width="0.75"/>
<line x1="329.0" y1="587.6" x2="329.9" y2="585.7" stroke="#333" stroke-width="0.75"/>
<line x1="336.7" y1="587.6" x2="337.6" y2="585.7" stroke="#333" stroke-width="0.75"/>
<line x1="338.3" y1="587.6" x2="339.2" y2="585.7" stroke="#333" stroke-width="0.75"/>
<line x1="339.9" y1="587.6" x2="340.8" y2="585.7" stroke="#333" stroke-width="0.75"/>
<line x1="341.5" y1="587.6" x2="342.4" y2="585.7" stroke="#333" stroke-width="0.75"/>
<line x1="349.2" y1="587.6" x2="350.1" y2="585.7" stroke="#333" stroke-width="0.75"/>
<line x1="350.8" y1="587.6" x2="351.7" y2="585.7" stroke="#333" stroke-width="0.75"/>
<line x1="352.4" y1="587.6" x2="353.3" y2="585.7" stroke="#333" stroke-width="0.75"/>
<line x1="354.0" y1="587.6" x2="354.9" y2="585.7" stroke="#333" stroke-width="0.75"/>
<line x1="271.9" y1="534.8" x2="271.9" y2="624.2" stroke="#111111" stroke-width="0.80"/>
<circle cx="271.9" cy="534.8" r="1.0" stroke="#111111" stroke-width="0.00" fill="#111111"/>
<circle cx="271.9" cy="624.2" r="1.0" stroke="#111111" stroke-width="0.00" fill="#111111"/>
<circle cx="271.9" cy="585.3" r="0.8" stroke="#111111" stroke-width="0.00" fill="#111111"/>
<line x1="271.9" y1="534.8" x2="286.1" y2="534.8" stroke="#111111" stroke-width="0.80"/>
<line x1="271.9" y1="624.2" x2="298.7" y2="624.2" stroke="#111111" stroke-width="0.80"/>
<text transform="translate(266.7 559.0) rotate(-90)" x="-5.0" y="3.2" fill="#111111" stroke="#111111" stroke-width="0.3" style='font-family:"Liberation Sans", sans-serif;font-size:9.45px;font-weight:normal;font-style:italic;' textLength="10.0" lengthAdjust="spacingAndGlyphs">Но</text>
<text transform="translate(266.7 607.8) rotate(-90)" x="-6.0" y="3.2" fill="#111111" stroke="#111111" stroke-width="0.3" style='font-family:"Liberation Sans", sans-serif;font-size:9.45px;font-weight:normal;font-style:italic;' textLength="12.0" lengthAdjust="spacingAndGlyphs">Нф</text>
<rect x="304.7" y="559.4" width="14.9" height="4.6" stroke="#111111" stroke-width="1.00" fill="#fff"/>
<text x="342.9" y="542.4" fill="#111111" stroke="#111111" stroke-width="0.30" style='font-family:"Liberation Sans",sans-serif;font-size:6.41px;font-style:italic;' textLength="12.4" lengthAdjust="spacingAndGlyphs">увл</text>
<text x="327.2" y="554.5" fill="#111111" stroke="#111111" stroke-width="0.30" style='font-family:"Liberation Sans",sans-serif;font-size:5.94px;font-style:italic;' textLength="44.7" lengthAdjust="spacingAndGlyphs">диафрагма</text>
<path d="M311.4 560.1 L311.4 556.4 L313.7 555.7 L372 555.7" stroke="#111111" stroke-width="0.80" fill="none" stroke-linejoin="round" stroke-linecap="round"/>
<text x="341.3" y="564.8" fill="#111111" stroke="#111111" stroke-width="0.30" style='font-family:"Liberation Sans",sans-serif;font-size:6.56px;font-style:italic;' textLength="16.5" lengthAdjust="spacingAndGlyphs">уппл</text>
<text x="341.2" y="583.1" fill="#111111" stroke="#111111" stroke-width="0.30" style='font-family:"Liberation Sans",sans-serif;font-size:5.78px;font-style:italic;' textLength="11.9" lengthAdjust="spacingAndGlyphs">умр</text>
<text x="356.8" y="583.3" fill="#111111" stroke="#111111" stroke-width="0.30" style='font-family:"Liberation Sans",sans-serif;font-size:6.09px;font-style:italic;' textLength="54.4" lengthAdjust="spacingAndGlyphs">(уровень мест-</text>
<text x="357.6" y="589.0" fill="#111111" stroke="#111111" stroke-width="0.30" style='font-family:"Liberation Sans",sans-serif;font-size:5.78px;font-style:italic;' textLength="50.6" lengthAdjust="spacingAndGlyphs">ного размыва)</text>
<line x1="368.7" y1="518.3" x2="368.7" y2="532.2" stroke="#111111" stroke-width="1.50"/>
<line x1="368.7" y1="520.4" x2="376.0" y2="520.4" stroke="#111111" stroke-width="1.50"/>
<polygon points="375.2,519.1 378.7,520.4 375.2,521.7" stroke="#111111" stroke-width="0.30" fill="#111111" stroke-linejoin="round"/>
<line x1="378.4" y1="520.4" x2="384.9" y2="520.4" stroke="#111111" stroke-width="0.70"/>
<text x="380.9" y="518.3" fill="#111111" stroke="#111111" stroke-width="0.00" style='font-family:"Liberation Sans",sans-serif;font-size:9.16px;font-style:italic;'>I</text>
<line x1="368.8" y1="625.4" x2="368.8" y2="639.3" stroke="#111111" stroke-width="1.50"/>
<line x1="368.8" y1="635.6" x2="377.1" y2="635.6" stroke="#111111" stroke-width="1.50"/>
<polygon points="376.2,634.3 380.2,635.6 376.2,636.9" stroke="#111111" stroke-width="0.30" fill="#111111" stroke-linejoin="round"/>
<line x1="379.8" y1="635.6" x2="387.2" y2="635.6" stroke="#111111" stroke-width="0.70"/>
<text x="384.4" y="642.8" fill="#111111" stroke="#111111" stroke-width="0.00" style='font-family:"Liberation Sans",sans-serif;font-size:8.43px;font-style:italic;'>I</text>
<text transform="translate(465.97 517.32) scale(1.2547 1)" x="0" y="0" fill="#111111" stroke="#111111" stroke-width="0.15" style='font-family:"Liberation Sans";font-size:9.06px;font-style:italic;font-kerning:none'>ℓр</text>
<line x1="439.1" y1="519.9" x2="499.2" y2="519.9" stroke="#111111" stroke-width="0.90"/>
<circle cx="439.1" cy="519.9" r="1.0" stroke="#111111" stroke-width="0.00" fill="#111111"/>
<circle cx="499.2" cy="519.9" r="1.0" stroke="#111111" stroke-width="0.00" fill="#111111"/>
<line x1="439.1" y1="519.9" x2="439.1" y2="533.3" stroke="#111111" stroke-width="0.90"/>
<line x1="499.2" y1="519.9" x2="499.2" y2="533.3" stroke="#111111" stroke-width="0.90"/>
<path d="M439.1 533.3 L499.2 533.3 L499.2 534.1 Q499.2 538.5 495.2 538.5 L443.1 538.5 Q439.1 538.5 439.1 534.1 Z" stroke="#111111" stroke-width="1.30" fill="#fff" stroke-linejoin="round" stroke-linecap="round"/>
<rect x="444.6" y="539.0" width="8.6" height="2.5" stroke="#111111" stroke-width="0.90" fill="#fff"/>
<rect x="464.6" y="539.0" width="9.0" height="2.5" stroke="#111111" stroke-width="0.90" fill="#fff"/>
<rect x="484.8" y="539.0" width="8.8" height="2.5" stroke="#111111" stroke-width="0.90" fill="#fff"/>
<rect x="445.8" y="541.5" width="5.9" height="82.0" stroke="#111111" stroke-width="1.35" fill="#fff"/>
<rect x="465.9" y="541.5" width="6.4" height="82.0" stroke="#111111" stroke-width="1.35" fill="#fff"/>
<rect x="486.0" y="541.5" width="6.3" height="82.0" stroke="#111111" stroke-width="1.35" fill="#fff"/>
<line x1="432.4" y1="543.3" x2="525.0" y2="543.3" stroke="#111111" stroke-width="0.90"/>
<line x1="432.4" y1="565.8" x2="525.0" y2="565.8" stroke="#111111" stroke-width="0.90"/>
<line x1="421.9" y1="584.6" x2="525.0" y2="584.6" stroke="#111111" stroke-width="0.90"/>
<line x1="424.9" y1="587.2" x2="425.8" y2="585.3" stroke="#333" stroke-width="0.75"/>
<line x1="426.5" y1="587.2" x2="427.4" y2="585.3" stroke="#333" stroke-width="0.75"/>
<line x1="428.1" y1="587.2" x2="429.0" y2="585.3" stroke="#333" stroke-width="0.75"/>
<line x1="429.7" y1="587.2" x2="430.6" y2="585.3" stroke="#333" stroke-width="0.75"/>
<line x1="437.4" y1="587.2" x2="438.3" y2="585.3" stroke="#333" stroke-width="0.75"/>
<line x1="439.0" y1="587.2" x2="439.9" y2="585.3" stroke="#333" stroke-width="0.75"/>
<line x1="440.6" y1="587.2" x2="441.5" y2="585.3" stroke="#333" stroke-width="0.75"/>
<line x1="442.2" y1="587.2" x2="443.1" y2="585.3" stroke="#333" stroke-width="0.75"/>
<line x1="449.9" y1="587.2" x2="450.8" y2="585.3" stroke="#333" stroke-width="0.75"/>
<line x1="451.5" y1="587.2" x2="452.4" y2="585.3" stroke="#333" stroke-width="0.75"/>
<line x1="453.1" y1="587.2" x2="454.0" y2="585.3" stroke="#333" stroke-width="0.75"/>
<line x1="454.7" y1="587.2" x2="455.6" y2="585.3" stroke="#333" stroke-width="0.75"/>
<line x1="462.4" y1="587.2" x2="463.3" y2="585.3" stroke="#333" stroke-width="0.75"/>
<line x1="464.0" y1="587.2" x2="464.9" y2="585.3" stroke="#333" stroke-width="0.75"/>
<line x1="465.6" y1="587.2" x2="466.5" y2="585.3" stroke="#333" stroke-width="0.75"/>
<line x1="467.2" y1="587.2" x2="468.1" y2="585.3" stroke="#333" stroke-width="0.75"/>
<line x1="474.9" y1="587.2" x2="475.8" y2="585.3" stroke="#333" stroke-width="0.75"/>
<line x1="476.5" y1="587.2" x2="477.4" y2="585.3" stroke="#333" stroke-width="0.75"/>
<line x1="478.1" y1="587.2" x2="479.0" y2="585.3" stroke="#333" stroke-width="0.75"/>
<line x1="479.7" y1="587.2" x2="480.6" y2="585.3" stroke="#333" stroke-width="0.75"/>
<line x1="487.4" y1="587.2" x2="488.3" y2="585.3" stroke="#333" stroke-width="0.75"/>
<line x1="489.0" y1="587.2" x2="489.9" y2="585.3" stroke="#333" stroke-width="0.75"/>
<line x1="490.6" y1="587.2" x2="491.5" y2="585.3" stroke="#333" stroke-width="0.75"/>
<line x1="492.2" y1="587.2" x2="493.1" y2="585.3" stroke="#333" stroke-width="0.75"/>
<line x1="499.9" y1="587.2" x2="500.8" y2="585.3" stroke="#333" stroke-width="0.75"/>
<line x1="501.5" y1="587.2" x2="502.4" y2="585.3" stroke="#333" stroke-width="0.75"/>
<line x1="503.1" y1="587.2" x2="504.0" y2="585.3" stroke="#333" stroke-width="0.75"/>
<line x1="504.7" y1="587.2" x2="505.6" y2="585.3" stroke="#333" stroke-width="0.75"/>
<line x1="512.4" y1="587.2" x2="513.3" y2="585.3" stroke="#333" stroke-width="0.75"/>
<line x1="514.0" y1="587.2" x2="514.9" y2="585.3" stroke="#333" stroke-width="0.75"/>
<line x1="515.6" y1="587.2" x2="516.5" y2="585.3" stroke="#333" stroke-width="0.75"/>
<line x1="517.2" y1="587.2" x2="518.1" y2="585.3" stroke="#333" stroke-width="0.75"/>
<line x1="422.7" y1="532.6" x2="422.7" y2="623.5" stroke="#111111" stroke-width="0.80"/>
<circle cx="422.7" cy="532.6" r="1.0" stroke="#111111" stroke-width="0.00" fill="#111111"/>
<circle cx="422.7" cy="623.5" r="1.0" stroke="#111111" stroke-width="0.00" fill="#111111"/>
<circle cx="422.7" cy="584.8" r="0.8" stroke="#111111" stroke-width="0.00" fill="#111111"/>
<line x1="422.7" y1="532.6" x2="439.1" y2="532.6" stroke="#111111" stroke-width="0.80"/>
<line x1="422.7" y1="623.5" x2="445.8" y2="623.5" stroke="#111111" stroke-width="0.80"/>
<text transform="translate(417.5 559.0) rotate(-90)" x="-5.0" y="3.2" fill="#111111" stroke="#111111" stroke-width="0.3" style='font-family:"Liberation Sans", sans-serif;font-size:9.45px;font-weight:normal;font-style:italic;' textLength="10.0" lengthAdjust="spacingAndGlyphs">Но</text>
<text transform="translate(417.5 602.3) rotate(-90)" x="-6.0" y="3.2" fill="#111111" stroke="#111111" stroke-width="0.3" style='font-family:"Liberation Sans", sans-serif;font-size:9.45px;font-weight:normal;font-style:italic;' textLength="12.0" lengthAdjust="spacingAndGlyphs">Нф</text>
<rect x="451.7" y="557.9" width="14.2" height="4.5" stroke="#111111" stroke-width="1.00" fill="#fff"/>
<rect x="472.3" y="557.9" width="13.7" height="4.5" stroke="#111111" stroke-width="1.00" fill="#fff"/>
<text x="512.2" y="541.9" fill="#111111" stroke="#111111" stroke-width="0.30" style='font-family:"Liberation Sans",sans-serif;font-size:9.38px;font-style:italic;' textLength="13.7" lengthAdjust="spacingAndGlyphs">увл</text>
<text x="508.8" y="564.1" fill="#111111" stroke="#111111" stroke-width="0.30" style='font-family:"Liberation Sans",sans-serif;font-size:7.97px;font-style:italic;' textLength="18.0" lengthAdjust="spacingAndGlyphs">уппл</text>
<text x="513.1" y="582.9" fill="#111111" stroke="#111111" stroke-width="0.30" style='font-family:"Liberation Sans",sans-serif;font-size:7.97px;font-style:italic;' textLength="13.7" lengthAdjust="spacingAndGlyphs">умр</text>
<line x1="534.1" y1="517.1" x2="534.1" y2="531.6" stroke="#111111" stroke-width="1.50"/>
<line x1="534.1" y1="518.5" x2="541.6" y2="518.5" stroke="#111111" stroke-width="1.50"/>
<polygon points="540.7,517.2 544.4,518.5 540.7,519.8" stroke="#111111" stroke-width="0.30" fill="#111111" stroke-linejoin="round"/>
<line x1="544.1" y1="518.5" x2="550.7" y2="518.5" stroke="#111111" stroke-width="0.70"/>
<text x="546.4" y="517.1" fill="#111111" stroke="#111111" stroke-width="0.00" style='font-family:"Liberation Sans",sans-serif;font-size:9.88px;font-style:italic;' textLength="11.1" lengthAdjust="spacingAndGlyphs">I,2</text>
<line x1="534.8" y1="623.9" x2="534.8" y2="636.8" stroke="#111111" stroke-width="1.50"/>
<line x1="534.8" y1="634.2" x2="542.7" y2="634.2" stroke="#111111" stroke-width="1.50"/>
<polygon points="541.8,632.9 545.7,634.2 541.8,635.5" stroke="#111111" stroke-width="0.30" fill="#111111" stroke-linejoin="round"/>
<line x1="545.4" y1="634.2" x2="552.4" y2="634.2" stroke="#111111" stroke-width="0.70"/>
<text x="544.7" y="643.6" fill="#111111" stroke="#111111" stroke-width="0.00" style='font-family:"Liberation Sans",sans-serif;font-size:9.88px;font-style:italic;' textLength="11.1" lengthAdjust="spacingAndGlyphs">I,2</text>
<rect x="173.0" y="706.8" width="33.2" height="7.2" stroke="#111111" stroke-width="1.00" fill="#fff"/>
<line x1="173.0" y1="709.4" x2="175.6" y2="706.8" stroke="#111111" stroke-width="1.25"/>
<line x1="173.0" y1="712.0" x2="178.2" y2="706.8" stroke="#111111" stroke-width="1.25"/>
<line x1="173.6" y1="714.0" x2="180.8" y2="706.8" stroke="#111111" stroke-width="1.25"/>
<line x1="176.2" y1="714.0" x2="183.4" y2="706.8" stroke="#111111" stroke-width="1.25"/>
<line x1="178.8" y1="714.0" x2="186.0" y2="706.8" stroke="#111111" stroke-width="1.25"/>
<line x1="181.4" y1="714.0" x2="188.6" y2="706.8" stroke="#111111" stroke-width="1.25"/>
<line x1="184.0" y1="714.0" x2="191.2" y2="706.8" stroke="#111111" stroke-width="1.25"/>
<line x1="186.6" y1="714.0" x2="193.8" y2="706.8" stroke="#111111" stroke-width="1.25"/>
<line x1="189.2" y1="714.0" x2="196.4" y2="706.8" stroke="#111111" stroke-width="1.25"/>
<line x1="191.8" y1="714.0" x2="199.0" y2="706.8" stroke="#111111" stroke-width="1.25"/>
<line x1="194.4" y1="714.0" x2="201.6" y2="706.8" stroke="#111111" stroke-width="1.25"/>
<line x1="197.0" y1="714.0" x2="204.2" y2="706.8" stroke="#111111" stroke-width="1.25"/>
<line x1="199.6" y1="714.0" x2="206.2" y2="707.4" stroke="#111111" stroke-width="1.25"/>
<line x1="202.2" y1="714.0" x2="206.2" y2="710.0" stroke="#111111" stroke-width="1.25"/>
<line x1="204.8" y1="714.0" x2="206.2" y2="712.6" stroke="#111111" stroke-width="1.25"/>
<path d="M172.5 703.5 L171.3 703.5 L171.3 716 L172.5 716" stroke="#111111" stroke-width="1.20" fill="none" stroke-linejoin="round" stroke-linecap="round"/>
<path d="M206.2 714.0 L207.5 718" stroke="#111111" stroke-width="0.80" fill="none" stroke-linejoin="round" stroke-linecap="round"/>
<rect x="187.2" y="714.0" width="6.7" height="111.8" fill="#8a8a8a"/>
<polygon points="190.6,726.5 193.9,729.5 193.9,735.8 190.6,738.8 187.2,735.8 187.2,729.5" stroke="#fff" stroke-width="0.00" fill="#fff" stroke-linejoin="round"/>
<polygon points="190.6,741.8 193.9,744.8 193.9,749.8 190.6,752.8 187.2,749.8 187.2,744.8" stroke="#fff" stroke-width="0.00" fill="#fff" stroke-linejoin="round"/>
<polygon points="190.6,776.4 193.9,779.4 193.9,796.9 187.2,796.9 187.2,779.4" stroke="#fff" stroke-width="0.00" fill="#fff" stroke-linejoin="round"/>
<rect x="187.2" y="797.4" width="6.7" height="18.6" fill="#777"/>
<rect x="187.2" y="816.0" width="6.7" height="9.2" fill="#fff"/>
<rect x="184.2" y="714.0" width="3.0" height="111.8" fill="#2a2a2a"/>
<rect x="193.9" y="714.0" width="3.0" height="111.8" fill="#2a2a2a"/>
<rect x="183.0" y="739.5" width="15.1" height="1.6" fill="#b0b0b0"/>
<rect x="183.0" y="765.1" width="15.1" height="1.6" fill="#b0b0b0"/>
<path d="M192.4 818.5 Q188.6 818.2 188.8 820.6 Q189.4 822.6 192.6 822.4 L194.2 824.0" stroke="#111111" stroke-width="1.50" fill="none" stroke-linejoin="round" stroke-linecap="round"/>
<rect x="184.2" y="825.2" width="12.7" height="1.0" fill="#2a2a2a"/>
<line x1="184.2" y1="826.2" x2="184.2" y2="837.8" stroke="#111111" stroke-width="0.80"/>
<line x1="196.9" y1="826.2" x2="196.9" y2="837.8" stroke="#111111" stroke-width="0.80"/>
<line x1="182.5" y1="836.6" x2="199.0" y2="836.6" stroke="#111111" stroke-width="0.80"/>
<text x="188.7" y="835.0" fill="#111111" stroke="#111111" stroke-width="0.30" style='font-family:"Liberation Sans",sans-serif;font-size:6.40px;font-style:italic;' textLength="4.5" lengthAdjust="spacingAndGlyphs">d</text>
<line x1="158.9" y1="758.5" x2="184.2" y2="758.5" stroke="#111111" stroke-width="0.90"/>
<line x1="196.9" y1="758.5" x2="229.0" y2="758.5" stroke="#111111" stroke-width="0.90"/>
<line x1="158.9" y1="769.8" x2="184.5" y2="769.8" stroke="#111111" stroke-width="0.90"/>
<line x1="197.0" y1="769.8" x2="229.0" y2="769.8" stroke="#111111" stroke-width="0.90"/>
<line x1="156.9" y1="783.0" x2="184.5" y2="783.0" stroke="#111111" stroke-width="0.90"/>
<line x1="197.0" y1="783.0" x2="229.0" y2="783.0" stroke="#111111" stroke-width="0.90"/>
<line x1="161.0" y1="785.6" x2="161.9" y2="783.7" stroke="#333" stroke-width="0.75"/>
<line x1="162.6" y1="785.6" x2="163.5" y2="783.7" stroke="#333" stroke-width="0.75"/>
<line x1="164.2" y1="785.6" x2="165.1" y2="783.7" stroke="#333" stroke-width="0.75"/>
<line x1="165.8" y1="785.6" x2="166.7" y2="783.7" stroke="#333" stroke-width="0.75"/>
<line x1="173.5" y1="785.6" x2="174.4" y2="783.7" stroke="#333" stroke-width="0.75"/>
<line x1="175.1" y1="785.6" x2="176.0" y2="783.7" stroke="#333" stroke-width="0.75"/>
<line x1="176.7" y1="785.6" x2="177.6" y2="783.7" stroke="#333" stroke-width="0.75"/>
<line x1="178.3" y1="785.6" x2="179.2" y2="783.7" stroke="#333" stroke-width="0.75"/>
<line x1="201.0" y1="785.6" x2="201.9" y2="783.7" stroke="#333" stroke-width="0.75"/>
<line x1="202.6" y1="785.6" x2="203.5" y2="783.7" stroke="#333" stroke-width="0.75"/>
<line x1="204.2" y1="785.6" x2="205.1" y2="783.7" stroke="#333" stroke-width="0.75"/>
<line x1="205.8" y1="785.6" x2="206.7" y2="783.7" stroke="#333" stroke-width="0.75"/>
<line x1="213.5" y1="785.6" x2="214.4" y2="783.7" stroke="#333" stroke-width="0.75"/>
<line x1="215.1" y1="785.6" x2="216.0" y2="783.7" stroke="#333" stroke-width="0.75"/>
<line x1="216.7" y1="785.6" x2="217.6" y2="783.7" stroke="#333" stroke-width="0.75"/>
<line x1="218.3" y1="785.6" x2="219.2" y2="783.7" stroke="#333" stroke-width="0.75"/>
<text x="213.2" y="757.4" fill="#111111" stroke="#111111" stroke-width="0.30" style='font-family:"Liberation Sans",sans-serif;font-size:6.25px;font-style:italic;' textLength="14.9" lengthAdjust="spacingAndGlyphs">увл</text>
<text x="213.2" y="767.6" fill="#111111" stroke="#111111" stroke-width="0.30" style='font-family:"Liberation Sans",sans-serif;font-size:5.63px;font-style:italic;' textLength="15.8" lengthAdjust="spacingAndGlyphs">уппл</text>
<text x="213.5" y="779.7" fill="#111111" stroke="#111111" stroke-width="0.30" style='font-family:"Liberation Sans",sans-serif;font-size:5.78px;font-style:italic;' textLength="15.5" lengthAdjust="spacingAndGlyphs">умр</text>
<text x="204.9" y="800.1" fill="#111111" stroke="#111111" stroke-width="0.30" style='font-family:"Liberation Sans",sans-serif;font-size:6.69px;font-style:italic;' textLength="63.8" lengthAdjust="spacingAndGlyphs">Пробка из бетона</text>
<path d="M197 803.7 Q200 801.3 204.5 801.3 L268.7 801.3" stroke="#111111" stroke-width="0.80" fill="none" stroke-linejoin="round" stroke-linecap="round"/>
<text x="204.9" y="816.0" fill="#111111" stroke="#111111" stroke-width="0.30" style='font-family:"Liberation Sans",sans-serif;font-size:6.98px;font-style:italic;' textLength="64.6" lengthAdjust="spacingAndGlyphs">Грунтовое ядро</text>
<path d="M197 821 Q200 817.5 204.5 817.5 L270 817.5" stroke="#111111" stroke-width="0.80" fill="none" stroke-linejoin="round" stroke-linecap="round"/>
<text x="74.8" y="744.0" fill="#111111" stroke="#111111" stroke-width="0.30" style='font-family:"Liberation Sans",sans-serif;font-size:9.59px;font-style:italic;' textLength="54.7" lengthAdjust="spacingAndGlyphs">Сечение 3-3</text>
<line x1="71.9" y1="745.8" x2="129.5" y2="745.8" stroke="#111111" stroke-width="1.00"/>
<circle cx="94.1" cy="771.7" r="5.4" stroke="#111111" stroke-width="0.00" fill="#2a2a2a"/>
<circle cx="94.1" cy="771.7" r="2.4" stroke="#111111" stroke-width="0.00" fill="#777"/>
<circle cx="94.6" cy="771.9" r="0.9" stroke="#111111" stroke-width="0.00" fill="#333"/>
<line x1="144.4" y1="746.8" x2="144.4" y2="762.7" stroke="#111111" stroke-width="1.30"/>
<polygon points="144.4,762.0 142.8,756.5 146.0,756.5" stroke="#111111" stroke-width="0.40" fill="#111111" stroke-linejoin="round"/>
<line x1="144.4" y1="762.7" x2="154.3" y2="762.7" stroke="#111111" stroke-width="1.20"/>
<text x="137.2" y="761.4" fill="#111111" stroke="#111111" stroke-width="0.30" style='font-family:"Liberation Sans",sans-serif;font-size:10.47px;font-style:italic;' textLength="4.2" lengthAdjust="spacingAndGlyphs">3</text>
<line x1="244.7" y1="742.5" x2="244.7" y2="760.2" stroke="#111111" stroke-width="1.30"/>
<polygon points="244.7,759.6 243.1,754.0 246.3,754.0" stroke="#111111" stroke-width="0.40" fill="#111111" stroke-linejoin="round"/>
<line x1="236.4" y1="760.2" x2="249.6" y2="760.2" stroke="#111111" stroke-width="1.20"/>
<text x="248.0" y="758.2" fill="#111111" stroke="#111111" stroke-width="0.30" style='font-family:"Liberation Sans",sans-serif;font-size:8.43px;font-style:italic;' textLength="5.8" lengthAdjust="spacingAndGlyphs">3</text>
<rect x="476.5" y="701.6" width="38.2" height="7.5" stroke="#111111" stroke-width="1.00" fill="#fff"/>
<line x1="476.5" y1="704.2" x2="479.1" y2="701.6" stroke="#111111" stroke-width="1.25"/>
<line x1="476.5" y1="706.8" x2="481.7" y2="701.6" stroke="#111111" stroke-width="1.25"/>
<line x1="476.8" y1="709.1" x2="484.3" y2="701.6" stroke="#111111" stroke-width="1.25"/>
<line x1="479.4" y1="709.1" x2="486.9" y2="701.6" stroke="#111111" stroke-width="1.25"/>
<line x1="482.0" y1="709.1" x2="489.5" y2="701.6" stroke="#111111" stroke-width="1.25"/>
<line x1="484.6" y1="709.1" x2="492.1" y2="701.6" stroke="#111111" stroke-width="1.25"/>
<line x1="487.2" y1="709.1" x2="494.7" y2="701.6" stroke="#111111" stroke-width="1.25"/>
<line x1="489.8" y1="709.1" x2="497.3" y2="701.6" stroke="#111111" stroke-width="1.25"/>
<line x1="492.4" y1="709.1" x2="499.9" y2="701.6" stroke="#111111" stroke-width="1.25"/>
<line x1="495.0" y1="709.1" x2="502.5" y2="701.6" stroke="#111111" stroke-width="1.25"/>
<line x1="497.6" y1="709.1" x2="505.1" y2="701.6" stroke="#111111" stroke-width="1.25"/>
<line x1="500.2" y1="709.1" x2="507.7" y2="701.6" stroke="#111111" stroke-width="1.25"/>
<line x1="502.8" y1="709.1" x2="510.3" y2="701.6" stroke="#111111" stroke-width="1.25"/>
<line x1="505.4" y1="709.1" x2="512.9" y2="701.6" stroke="#111111" stroke-width="1.25"/>
<line x1="508.0" y1="709.1" x2="514.7" y2="702.4" stroke="#111111" stroke-width="1.25"/>
<line x1="510.6" y1="709.1" x2="514.7" y2="705.0" stroke="#111111" stroke-width="1.25"/>
<line x1="513.2" y1="709.1" x2="514.7" y2="707.6" stroke="#111111" stroke-width="1.25"/>
<path d="M476 697.8 L475 697.8 L475 712.4 L476 712.4" stroke="#111111" stroke-width="1.20" fill="none" stroke-linejoin="round" stroke-linecap="round"/>
<rect x="494.5" y="709.1" width="5.7" height="114.2" fill="#8a8a8a"/>
<polygon points="497.4,719.8 500.2,722.8 500.2,731.0 497.4,734.0 494.5,731.0 494.5,722.8" stroke="#fff" stroke-width="0.00" fill="#fff" stroke-linejoin="round"/>
<rect x="494.5" y="737.5" width="5.7" height="20.0" fill="#a8a8a8"/>
<polygon points="497.4,767.8 500.2,770.8 500.2,794.9 494.5,794.9 494.5,770.8" stroke="#fff" stroke-width="0.00" fill="#fff" stroke-linejoin="round"/>
<rect x="494.5" y="796.0" width="5.7" height="18.2" fill="#404040"/>
<rect x="494.5" y="814.2" width="5.7" height="8.8" fill="#5a5a5a"/>
<rect x="491.7" y="709.1" width="2.8" height="114.2" fill="#2a2a2a"/>
<rect x="500.2" y="709.1" width="2.8" height="114.2" fill="#2a2a2a"/>
<rect x="490.5" y="734.4" width="13.7" height="1.6" fill="#b0b0b0"/>
<rect x="490.5" y="761.7" width="13.7" height="1.6" fill="#b0b0b0"/>
<line x1="494.9" y1="797.0" x2="499.7" y2="799.5" stroke="#aaa" stroke-width="0.60"/>
<line x1="494.9" y1="800.0" x2="499.7" y2="802.5" stroke="#aaa" stroke-width="0.60"/>
<line x1="494.9" y1="803.0" x2="499.7" y2="805.5" stroke="#aaa" stroke-width="0.60"/>
<line x1="494.9" y1="806.0" x2="499.7" y2="808.5" stroke="#aaa" stroke-width="0.60"/>
<line x1="494.9" y1="809.0" x2="499.7" y2="811.5" stroke="#aaa" stroke-width="0.60"/>
<line x1="494.9" y1="812.0" x2="499.7" y2="814.5" stroke="#aaa" stroke-width="0.60"/>
<line x1="491.5" y1="823.3" x2="491.5" y2="835.5" stroke="#111111" stroke-width="0.80"/>
<line x1="503.1" y1="823.3" x2="503.1" y2="835.5" stroke="#111111" stroke-width="0.80"/>
<line x1="489.5" y1="833.8" x2="505.5" y2="833.8" stroke="#111111" stroke-width="0.80"/>
<text x="495.6" y="831.6" fill="#111111" stroke="#111111" stroke-width="0.30" style='font-family:"Liberation Sans",sans-serif;font-size:7.56px;font-style:italic;' textLength="3.8" lengthAdjust="spacingAndGlyphs">d</text>
<line x1="465.8" y1="754.9" x2="491.5" y2="754.9" stroke="#111111" stroke-width="0.90"/>
<line x1="503.1" y1="754.9" x2="526.4" y2="754.9" stroke="#111111" stroke-width="0.90"/>
<line x1="465.8" y1="766.4" x2="491.5" y2="766.4" stroke="#111111" stroke-width="0.90"/>
<line x1="503.1" y1="766.4" x2="526.4" y2="766.4" stroke="#111111" stroke-width="0.90"/>
<line x1="466.8" y1="777.7" x2="491.5" y2="777.7" stroke="#111111" stroke-width="0.90"/>
<line x1="503.1" y1="777.7" x2="528.4" y2="777.7" stroke="#111111" stroke-width="0.90"/>
<line x1="470.0" y1="780.3" x2="470.9" y2="778.4" stroke="#333" stroke-width="0.75"/>
<line x1="471.6" y1="780.3" x2="472.5" y2="778.4" stroke="#333" stroke-width="0.75"/>
<line x1="473.2" y1="780.3" x2="474.1" y2="778.4" stroke="#333" stroke-width="0.75"/>
<line x1="474.8" y1="780.3" x2="475.7" y2="778.4" stroke="#333" stroke-width="0.75"/>
<line x1="482.5" y1="780.3" x2="483.4" y2="778.4" stroke="#333" stroke-width="0.75"/>
<line x1="484.1" y1="780.3" x2="485.0" y2="778.4" stroke="#333" stroke-width="0.75"/>
<line x1="485.7" y1="780.3" x2="486.6" y2="778.4" stroke="#333" stroke-width="0.75"/>
<line x1="487.3" y1="780.3" x2="488.2" y2="778.4" stroke="#333" stroke-width="0.75"/>
<line x1="507.0" y1="780.3" x2="507.9" y2="778.4" stroke="#333" stroke-width="0.75"/>
<line x1="508.6" y1="780.3" x2="509.5" y2="778.4" stroke="#333" stroke-width="0.75"/>
<line x1="510.2" y1="780.3" x2="511.1" y2="778.4" stroke="#333" stroke-width="0.75"/>
<line x1="511.8" y1="780.3" x2="512.7" y2="778.4" stroke="#333" stroke-width="0.75"/>
<line x1="519.5" y1="780.3" x2="520.4" y2="778.4" stroke="#333" stroke-width="0.75"/>
<line x1="521.1" y1="780.3" x2="522.0" y2="778.4" stroke="#333" stroke-width="0.75"/>
<line x1="522.7" y1="780.3" x2="523.6" y2="778.4" stroke="#333" stroke-width="0.75"/>
<line x1="524.3" y1="780.3" x2="525.2" y2="778.4" stroke="#333" stroke-width="0.75"/>
<text x="514.5" y="753.9" fill="#111111" stroke="#111111" stroke-width="0.30" style='font-family:"Liberation Sans",sans-serif;font-size:6.25px;font-style:italic;' textLength="10.9" lengthAdjust="spacingAndGlyphs">увл</text>
<text x="515.5" y="764.8" fill="#111111" stroke="#111111" stroke-width="0.30" style='font-family:"Liberation Sans",sans-serif;font-size:6.25px;font-style:italic;' textLength="10.9" lengthAdjust="spacingAndGlyphs">уппл</text>
<text x="516.5" y="775.3" fill="#111111" stroke="#111111" stroke-width="0.30" style='font-family:"Liberation Sans",sans-serif;font-size:6.09px;font-style:italic;' textLength="10.9" lengthAdjust="spacingAndGlyphs">умр</text>
<text x="424.6" y="808.8" fill="#111111" stroke="#111111" stroke-width="0.35" style='font-family:"Liberation Sans",sans-serif;font-size:6.69px;font-style:italic;' textLength="46.4" lengthAdjust="spacingAndGlyphs">Кровля скального</text>
<text x="441.2" y="815.4" fill="#111111" stroke="#111111" stroke-width="0.35" style='font-family:"Liberation Sans",sans-serif;font-size:5.63px;font-style:italic;' textLength="24.8" lengthAdjust="spacingAndGlyphs">грунта</text>
<line x1="424.6" y1="810.6" x2="520.7" y2="810.6" stroke="#111111" stroke-width="0.80"/>
<text x="515.7" y="822.4" fill="#111111" stroke="#111111" stroke-width="0.40" style='font-family:"Liberation Sans",sans-serif;font-size:6.98px;font-style:italic;' textLength="48.0" lengthAdjust="spacingAndGlyphs">Монолитный</text>
<text x="525.6" y="829.0" fill="#111111" stroke="#111111" stroke-width="0.40" style='font-family:"Liberation Sans",sans-serif;font-size:6.25px;font-style:italic;' textLength="24.9" lengthAdjust="spacingAndGlyphs">бетон</text>
<path d="M502.5 814.2 Q508 823.5 516 823.5 L563.7 823.5" stroke="#111111" stroke-width="0.80" fill="none" stroke-linejoin="round" stroke-linecap="round"/>
<text x="376.6" y="742.3" fill="#111111" stroke="#111111" stroke-width="0.30" style='font-family:"Liberation Sans",sans-serif;font-size:8.58px;font-style:italic;' textLength="58.0" lengthAdjust="spacingAndGlyphs">Сечение 4-4</text>
<line x1="375.0" y1="743.6" x2="435.0" y2="743.6" stroke="#111111" stroke-width="1.00"/>
<circle cx="403.1" cy="769.5" r="5.0" stroke="#111111" stroke-width="0.00" fill="#2a2a2a"/>
<circle cx="403.1" cy="769.5" r="2.2" stroke="#111111" stroke-width="0.00" fill="#777"/>
<circle cx="403.5" cy="769.7" r="0.8" stroke="#111111" stroke-width="0.00" fill="#333"/>
<line x1="454.9" y1="744.0" x2="454.9" y2="757.8" stroke="#111111" stroke-width="1.30"/>
<polygon points="454.9,743.9 453.3,749.5 456.5,749.5" stroke="#111111" stroke-width="0.40" fill="#111111" stroke-linejoin="round"/>
<line x1="452.5" y1="757.8" x2="463.8" y2="757.8" stroke="#111111" stroke-width="1.20"/>
<text x="447.6" y="754.9" fill="#111111" stroke="#111111" stroke-width="0.30" style='font-family:"Liberation Sans",sans-serif;font-size:10.17px;font-style:italic;' textLength="3.3" lengthAdjust="spacingAndGlyphs">4</text>
<line x1="544.7" y1="744.0" x2="544.7" y2="757.8" stroke="#111111" stroke-width="1.30"/>
<polygon points="544.7,743.9 543.1,749.5 546.3,749.5" stroke="#111111" stroke-width="0.40" fill="#111111" stroke-linejoin="round"/>
<line x1="536.4" y1="757.8" x2="546.5" y2="757.8" stroke="#111111" stroke-width="1.20"/>
<text x="549.3" y="754.9" fill="#111111" stroke="#111111" stroke-width="0.30" style='font-family:"Liberation Sans",sans-serif;font-size:10.17px;font-style:italic;' textLength="4.3" lengthAdjust="spacingAndGlyphs">4</text>
</svg>
</body></html>
